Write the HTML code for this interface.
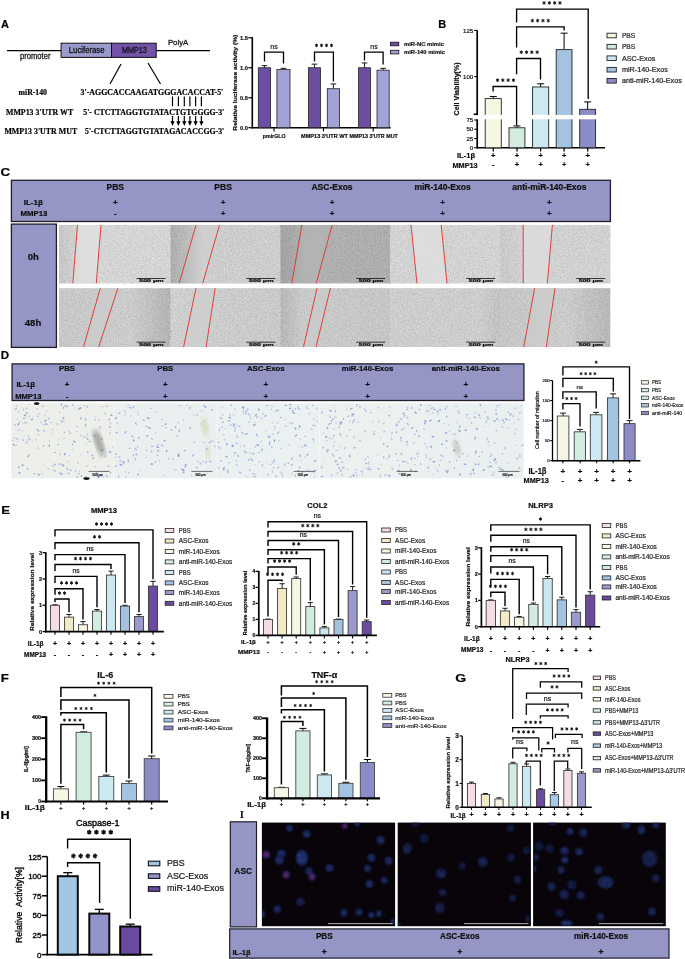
<!DOCTYPE html>
<html><head><meta charset="utf-8"><style>
html,body{margin:0;padding:0;background:#fff;width:685px;height:959px;overflow:hidden;}
svg{display:block;filter:blur(0.35px);font-family:"Liberation Sans",sans-serif;}
text{stroke:#000;stroke-width:0.22px;stroke-opacity:0.85;}
</style></head><body>
<svg width="685" height="959" viewBox="0 0 685 959">
<text x="0" y="0" font-size="11" font-weight="bold" fill="#050505" font-family="Liberation Sans" transform="translate(0.9,27.9) scale(1.0,1)">A</text>
<text x="0" y="0" font-size="11" font-weight="bold" fill="#050505" font-family="Liberation Sans" transform="translate(438.3,27.9) scale(1.0,1)">B</text>
<text x="0" y="0" font-size="11" font-weight="bold" fill="#050505" font-family="Liberation Sans" transform="translate(0.6,176.2) scale(1.22,1)">C</text>
<text x="0" y="0" font-size="11" font-weight="bold" fill="#050505" font-family="Liberation Sans" transform="translate(0.8,359.3) scale(1.05,1)">D</text>
<text x="0" y="0" font-size="11" font-weight="bold" fill="#050505" font-family="Liberation Sans" transform="translate(1.2,513.6) scale(1.2,1)">E</text>
<text x="0" y="0" font-size="11" font-weight="bold" fill="#050505" font-family="Liberation Sans" transform="translate(0.8,682.4) scale(1.2,1)">F</text>
<text x="0" y="0" font-size="11" font-weight="bold" fill="#050505" font-family="Liberation Sans" transform="translate(455.2,682.2) scale(1.28,1)">G</text>
<text x="0" y="0" font-size="11" font-weight="bold" fill="#050505" font-family="Liberation Sans" transform="translate(0.4,818.8) scale(1.15,1)">H</text>
<text x="240.00" y="818.00" font-size="9.5" font-weight="bold" text-anchor="start" fill="#000" font-family="Liberation Serif" >I</text>
<line x1="7.00" y1="50.60" x2="61.10" y2="50.60" stroke="#000" stroke-width="1.3" />
<line x1="156.20" y1="50.60" x2="210.00" y2="50.60" stroke="#000" stroke-width="1.3" />
<rect x="61.10" y="43.20" width="50.40" height="14.20" fill="#9a9acd" stroke="#111" stroke-width="1" />
<rect x="111.50" y="43.20" width="44.70" height="14.20" fill="#7352a8" stroke="#111" stroke-width="1" />
<text x="68.80" y="53.20" font-size="8.3" font-weight="normal" text-anchor="start" fill="#111" font-family="Liberation Sans" textLength="35.7" lengthAdjust="spacingAndGlyphs" style="stroke:#111;stroke-width:0.35px">Luciferase</text>
<text x="121.90" y="53.40" font-size="8.4" font-weight="normal" text-anchor="start" fill="#111" font-family="Liberation Sans" textLength="24.8" lengthAdjust="spacingAndGlyphs" style="stroke:#111;stroke-width:0.3px">MMP13</text>
<text x="20.00" y="58.80" font-size="8.4" font-weight="normal" text-anchor="start" fill="#111" font-family="Liberation Sans" textLength="30.5" lengthAdjust="spacingAndGlyphs" style="stroke:#111;stroke-width:0.3px">promoter</text>
<text x="167.90" y="44.60" font-size="7.4" font-weight="normal" text-anchor="start" fill="#111" font-family="Liberation Sans" textLength="20.4" lengthAdjust="spacingAndGlyphs" style="stroke:#111;stroke-width:0.3px">PolyA</text>
<line x1="121.00" y1="64.00" x2="110.00" y2="84.00" stroke="#000" stroke-width="1.2" />
<line x1="148.00" y1="63.00" x2="160.50" y2="84.00" stroke="#000" stroke-width="1.2" />
<text x="18.50" y="95.10" font-size="7.6" font-weight="bold" text-anchor="start" fill="#000" font-family="Liberation Serif" textLength="28.5" lengthAdjust="spacingAndGlyphs">miR-140</text>
<text x="80.60" y="95.10" font-size="7.4" font-weight="bold" text-anchor="start" fill="#000" font-family="Liberation Serif" textLength="142.7" lengthAdjust="spacingAndGlyphs">3'-AGGCACCAAGATGGGACACCAT-5'</text>
<text x="6.00" y="114.70" font-size="7.6" font-weight="bold" text-anchor="start" fill="#000" font-family="Liberation Serif" textLength="67.2" lengthAdjust="spacingAndGlyphs">MMP13 3'UTR WT</text>
<text x="83.30" y="114.70" font-size="7.4" font-weight="bold" text-anchor="start" fill="#000" font-family="Liberation Serif" textLength="141" lengthAdjust="spacingAndGlyphs">5'- CTCTTAGGTGTATACTGTGGGG-3'</text>
<text x="4.40" y="134.20" font-size="7.6" font-weight="bold" text-anchor="start" fill="#000" font-family="Liberation Serif" textLength="72.8" lengthAdjust="spacingAndGlyphs">MMP13 3'UTR MUT</text>
<text x="85.00" y="134.20" font-size="7.4" font-weight="bold" text-anchor="start" fill="#000" font-family="Liberation Serif" textLength="139.3" lengthAdjust="spacingAndGlyphs">5'-CTCTTAGGTGTATAGACACCGG-3'</text>
<line x1="172.50" y1="96.50" x2="172.50" y2="106.30" stroke="#000" stroke-width="1.2" />
<line x1="172.50" y1="116.00" x2="172.50" y2="122.50" stroke="#000" stroke-width="1.2" />
<path d="M170.40,121.2 L172.50,125.9 L174.60,121.2 Z" stroke="none" stroke-width="0" fill="#000" />
<line x1="178.40" y1="96.50" x2="178.40" y2="106.30" stroke="#000" stroke-width="1.2" />
<line x1="178.40" y1="116.00" x2="178.40" y2="122.50" stroke="#000" stroke-width="1.2" />
<path d="M176.30,121.2 L178.40,125.9 L180.50,121.2 Z" stroke="none" stroke-width="0" fill="#000" />
<line x1="184.30" y1="96.50" x2="184.30" y2="106.30" stroke="#000" stroke-width="1.2" />
<line x1="184.30" y1="116.00" x2="184.30" y2="122.50" stroke="#000" stroke-width="1.2" />
<path d="M182.20,121.2 L184.30,125.9 L186.40,121.2 Z" stroke="none" stroke-width="0" fill="#000" />
<line x1="189.90" y1="96.50" x2="189.90" y2="106.30" stroke="#000" stroke-width="1.2" />
<line x1="189.90" y1="116.00" x2="189.90" y2="122.50" stroke="#000" stroke-width="1.2" />
<path d="M187.80,121.2 L189.90,125.9 L192.00,121.2 Z" stroke="none" stroke-width="0" fill="#000" />
<line x1="195.60" y1="96.50" x2="195.60" y2="106.30" stroke="#000" stroke-width="1.2" />
<line x1="195.60" y1="116.00" x2="195.60" y2="122.50" stroke="#000" stroke-width="1.2" />
<path d="M193.50,121.2 L195.60,125.9 L197.70,121.2 Z" stroke="none" stroke-width="0" fill="#000" />
<line x1="201.40" y1="96.50" x2="201.40" y2="106.30" stroke="#000" stroke-width="1.2" />
<line x1="201.40" y1="116.00" x2="201.40" y2="122.50" stroke="#000" stroke-width="1.2" />
<path d="M199.30,121.2 L201.40,125.9 L203.50,121.2 Z" stroke="none" stroke-width="0" fill="#000" />
<line x1="252.30" y1="37.17" x2="252.30" y2="128.40" stroke="#000" stroke-width="1.6" />
<line x1="251.60" y1="127.70" x2="390.60" y2="127.70" stroke="#000" stroke-width="1.5" />
<line x1="248.30" y1="127.70" x2="252.30" y2="127.70" stroke="#000" stroke-width="1.2" />
<text x="248.00" y="129.70" font-size="5.6" font-weight="bold" text-anchor="end" fill="#222" font-family="Liberation Sans" textLength="7.9" lengthAdjust="spacingAndGlyphs">0.0</text>
<line x1="248.30" y1="97.72" x2="252.30" y2="97.72" stroke="#000" stroke-width="1.2" />
<text x="248.00" y="99.72" font-size="5.6" font-weight="bold" text-anchor="end" fill="#222" font-family="Liberation Sans" textLength="7.9" lengthAdjust="spacingAndGlyphs">0.5</text>
<line x1="248.30" y1="67.75" x2="252.30" y2="67.75" stroke="#000" stroke-width="1.2" />
<text x="248.00" y="69.75" font-size="5.6" font-weight="bold" text-anchor="end" fill="#222" font-family="Liberation Sans" textLength="7.9" lengthAdjust="spacingAndGlyphs">1.0</text>
<line x1="248.30" y1="37.77" x2="252.30" y2="37.77" stroke="#000" stroke-width="1.2" />
<text x="248.00" y="39.77" font-size="5.6" font-weight="bold" text-anchor="end" fill="#222" font-family="Liberation Sans" textLength="7.9" lengthAdjust="spacingAndGlyphs">1.5</text>
<line x1="274.00" y1="127.70" x2="274.00" y2="131.40" stroke="#000" stroke-width="1.1" />
<line x1="323.50" y1="127.70" x2="323.50" y2="131.40" stroke="#000" stroke-width="1.1" />
<line x1="373.20" y1="127.70" x2="373.20" y2="131.40" stroke="#000" stroke-width="1.1" />
<text x="0.00" y="0.00" font-size="6.0" font-weight="bold" text-anchor="middle" fill="#111" font-family="Liberation Sans" transform="translate(236.6,82.7) rotate(-90)" textLength="96" lengthAdjust="spacingAndGlyphs">Relative luciferase activity (%)</text>
<line x1="264.45" y1="67.75" x2="264.45" y2="65.65" stroke="#000" stroke-width="0.9" />
<line x1="261.65" y1="65.65" x2="267.25" y2="65.65" stroke="#000" stroke-width="0.9" />
<rect x="258.30" y="67.75" width="12.30" height="59.95" fill="#6c4fa2" stroke="#222" stroke-width="0.8" />
<line x1="283.45" y1="69.55" x2="283.45" y2="68.35" stroke="#000" stroke-width="0.9" />
<line x1="280.65" y1="68.35" x2="286.25" y2="68.35" stroke="#000" stroke-width="0.9" />
<rect x="276.90" y="69.55" width="13.10" height="58.15" fill="#a2a2d6" stroke="#222" stroke-width="0.8" />
<line x1="314.45" y1="67.75" x2="314.45" y2="64.15" stroke="#000" stroke-width="0.9" />
<line x1="311.65" y1="64.15" x2="317.25" y2="64.15" stroke="#000" stroke-width="0.9" />
<rect x="308.40" y="67.75" width="12.10" height="59.95" fill="#6c4fa2" stroke="#222" stroke-width="0.8" />
<line x1="333.40" y1="88.73" x2="333.40" y2="83.94" stroke="#000" stroke-width="0.9" />
<line x1="330.60" y1="83.94" x2="336.20" y2="83.94" stroke="#000" stroke-width="0.9" />
<rect x="327.30" y="88.73" width="12.20" height="38.97" fill="#a2a2d6" stroke="#222" stroke-width="0.8" />
<line x1="364.55" y1="67.75" x2="364.55" y2="62.95" stroke="#000" stroke-width="0.9" />
<line x1="361.75" y1="62.95" x2="367.35" y2="62.95" stroke="#000" stroke-width="0.9" />
<rect x="358.60" y="67.75" width="11.90" height="59.95" fill="#6c4fa2" stroke="#222" stroke-width="0.8" />
<line x1="383.10" y1="70.15" x2="383.10" y2="68.35" stroke="#000" stroke-width="0.9" />
<line x1="380.30" y1="68.35" x2="385.90" y2="68.35" stroke="#000" stroke-width="0.9" />
<rect x="377.00" y="70.15" width="12.20" height="57.55" fill="#a2a2d6" stroke="#222" stroke-width="0.8" />
<path d="M264.50,61.50 L264.50,52.20 L283.50,52.20 L283.50,63.50" stroke="#000" stroke-width="1.3" fill="none" />
<text x="274.00" y="49.20" font-size="7.0" font-weight="normal" text-anchor="middle" fill="#222" font-family="Liberation Sans" >ns</text>
<path d="M314.50,61.50 L314.50,52.20 L333.40,52.20 L333.40,81.50" stroke="#000" stroke-width="1.3" fill="none" />
<path d="M316.50,43.70L316.50,47.10M315.03,44.55L317.97,46.25M315.03,46.25L317.97,44.55M321.50,43.70L321.50,47.10M320.03,44.55L322.97,46.25M320.03,46.25L322.97,44.55M326.50,43.70L326.50,47.10M325.03,44.55L327.97,46.25M325.03,46.25L327.97,44.55M331.50,43.70L331.50,47.10M330.03,44.55L332.97,46.25M330.03,46.25L332.97,44.55" stroke="#111" stroke-width="1.0" fill="none" />
<path d="M364.50,60.50 L364.50,52.20 L383.10,52.20 L383.10,64.50" stroke="#000" stroke-width="1.3" fill="none" />
<text x="374.00" y="49.20" font-size="7.0" font-weight="normal" text-anchor="middle" fill="#222" font-family="Liberation Sans" >ns</text>
<rect x="390.40" y="42.20" width="8.40" height="3.60" fill="#6c4fa2" stroke="#111" stroke-width="0.8" />
<text x="404.00" y="46.00" font-size="5.6" font-weight="bold" text-anchor="start" fill="#1a1a1a" font-family="Liberation Sans" textLength="39.9" lengthAdjust="spacingAndGlyphs">miR-NC mimic</text>
<rect x="390.40" y="50.30" width="8.40" height="3.60" fill="#a2a2d6" stroke="#111" stroke-width="0.8" />
<text x="404.00" y="54.10" font-size="5.6" font-weight="bold" text-anchor="start" fill="#1a1a1a" font-family="Liberation Sans" textLength="40.9" lengthAdjust="spacingAndGlyphs">miR-140 mimic</text>
<text x="262.70" y="138.00" font-size="6.0" font-weight="bold" text-anchor="start" fill="#111" font-family="Liberation Sans" textLength="23.0" lengthAdjust="spacingAndGlyphs">pmirGLO</text>
<text x="301.00" y="138.00" font-size="6.0" font-weight="bold" text-anchor="start" fill="#111" font-family="Liberation Sans" textLength="47.0" lengthAdjust="spacingAndGlyphs">MMP13 3'UTR WT</text>
<text x="349.60" y="138.00" font-size="6.0" font-weight="bold" text-anchor="start" fill="#111" font-family="Liberation Sans" textLength="48.2" lengthAdjust="spacingAndGlyphs">MMP13 3'UTR MUT</text>
<line x1="477.20" y1="30.40" x2="477.20" y2="114.30" stroke="#000" stroke-width="1.7" />
<line x1="477.20" y1="119.30" x2="477.20" y2="148.40" stroke="#000" stroke-width="1.7" />
<line x1="477.20" y1="147.80" x2="605.00" y2="147.80" stroke="#000" stroke-width="1.4" />
<line x1="474.20" y1="30.40" x2="477.20" y2="30.40" stroke="#000" stroke-width="1.1" />
<text x="473.20" y="32.60" font-size="6.1" font-weight="normal" text-anchor="end" fill="#222" font-family="Liberation Sans" >125</text>
<line x1="474.20" y1="76.60" x2="477.20" y2="76.60" stroke="#000" stroke-width="1.1" />
<text x="473.20" y="78.80" font-size="6.1" font-weight="normal" text-anchor="end" fill="#222" font-family="Liberation Sans" >100</text>
<line x1="473.70" y1="114.30" x2="478.00" y2="114.30" stroke="#000" stroke-width="1.6" />
<line x1="474.20" y1="120.00" x2="477.20" y2="120.00" stroke="#000" stroke-width="1.1" />
<text x="473.20" y="122.20" font-size="6.1" font-weight="normal" text-anchor="end" fill="#222" font-family="Liberation Sans" >75</text>
<line x1="474.20" y1="129.27" x2="477.20" y2="129.27" stroke="#000" stroke-width="1.1" />
<text x="473.20" y="131.47" font-size="6.1" font-weight="normal" text-anchor="end" fill="#222" font-family="Liberation Sans" >50</text>
<line x1="474.20" y1="138.53" x2="477.20" y2="138.53" stroke="#000" stroke-width="1.1" />
<text x="473.20" y="140.73" font-size="6.1" font-weight="normal" text-anchor="end" fill="#222" font-family="Liberation Sans" >25</text>
<line x1="474.20" y1="147.80" x2="477.20" y2="147.80" stroke="#000" stroke-width="1.1" />
<text x="473.20" y="150.00" font-size="6.1" font-weight="normal" text-anchor="end" fill="#222" font-family="Liberation Sans" >0</text>
<text x="0.00" y="0.00" font-size="7.1" font-weight="bold" text-anchor="middle" fill="#111" font-family="Liberation Sans" transform="translate(458.6,88.9) rotate(-90)">Cell Viability(%)</text>
<line x1="493.25" y1="98.59" x2="493.25" y2="96.56" stroke="#000" stroke-width="1" />
<line x1="489.75" y1="96.56" x2="496.75" y2="96.56" stroke="#000" stroke-width="1" />
<rect x="485.20" y="98.59" width="16.10" height="49.21" fill="#f5f7e4" stroke="#222" stroke-width="0.9" />
<line x1="516.95" y1="127.78" x2="516.95" y2="125.93" stroke="#000" stroke-width="1" />
<line x1="513.45" y1="125.93" x2="520.45" y2="125.93" stroke="#000" stroke-width="1" />
<rect x="509.00" y="127.78" width="15.90" height="20.02" fill="#d2ecdf" stroke="#222" stroke-width="0.9" />
<line x1="540.65" y1="86.95" x2="540.65" y2="83.81" stroke="#000" stroke-width="1" />
<line x1="537.15" y1="83.81" x2="544.15" y2="83.81" stroke="#000" stroke-width="1" />
<rect x="532.60" y="86.95" width="16.10" height="60.85" fill="#cce9f1" stroke="#222" stroke-width="0.9" />
<line x1="564.10" y1="49.62" x2="564.10" y2="33.17" stroke="#000" stroke-width="1" />
<line x1="560.60" y1="33.17" x2="567.60" y2="33.17" stroke="#000" stroke-width="1" />
<rect x="556.20" y="49.62" width="15.80" height="98.18" fill="#a3c3e1" stroke="#222" stroke-width="0.9" />
<line x1="587.65" y1="109.31" x2="587.65" y2="101.92" stroke="#000" stroke-width="1" />
<line x1="584.15" y1="101.92" x2="591.15" y2="101.92" stroke="#000" stroke-width="1" />
<rect x="579.70" y="109.31" width="15.90" height="38.49" fill="#8b8bc6" stroke="#222" stroke-width="0.9" />
<rect x="480.00" y="114.90" width="120.00" height="4.40" fill="#fff" stroke="none" stroke-width="1" />
<path d="M493.1,91.5 L493.1,86.5 L516.6,86.5 L516.6,125.3" stroke="#000" stroke-width="1.35" fill="none" />
<path d="M497.55,78.45L497.55,81.95M496.03,79.33L499.07,81.08M496.03,81.08L499.07,79.33M502.85,78.45L502.85,81.95M501.33,79.33L504.37,81.08M501.33,81.08L504.37,79.33M508.15,78.45L508.15,81.95M506.63,79.33L509.67,81.08M506.63,81.08L509.67,79.33M513.45,78.45L513.45,81.95M511.93,79.33L514.97,81.08M511.93,81.08L514.97,79.33" stroke="#111" stroke-width="1.0" fill="none" />
<path d="M516.6,74.3 L516.6,58.5 L540.5,58.5 L540.5,79.6" stroke="#000" stroke-width="1.35" fill="none" />
<path d="M521.25,50.45L521.25,53.95M519.73,51.33L522.77,53.08M519.73,53.08L522.77,51.33M526.55,50.45L526.55,53.95M525.03,51.33L528.07,53.08M525.03,53.08L528.07,51.33M531.85,50.45L531.85,53.95M530.33,51.33L533.37,53.08M530.33,53.08L533.37,51.33M537.15,50.45L537.15,53.95M535.63,51.33L538.67,53.08M535.63,53.08L538.67,51.33" stroke="#111" stroke-width="1.0" fill="none" />
<path d="M516.6,47.6 L516.6,26.8 L564.1,26.8 L564.1,30.6" stroke="#000" stroke-width="1.35" fill="none" />
<path d="M532.35,18.85L532.35,22.35M530.83,19.73L533.87,21.48M530.83,21.48L533.87,19.73M537.65,18.85L537.65,22.35M536.13,19.73L539.17,21.48M536.13,21.48L539.17,19.73M542.95,18.85L542.95,22.35M541.43,19.73L544.47,21.48M541.43,21.48L544.47,19.73M548.25,18.85L548.25,22.35M546.73,19.73L549.77,21.48M546.73,21.48L549.77,19.73" stroke="#111" stroke-width="1.0" fill="none" />
<path d="M516.6,22.6 L516.6,9.1 L588.2,9.1 L588.2,99.0" stroke="#000" stroke-width="1.35" fill="none" />
<path d="M544.05,1.15L544.05,4.65M542.53,2.02L545.57,3.77M542.53,3.77L545.57,2.02M549.35,1.15L549.35,4.65M547.83,2.02L550.87,3.77M547.83,3.77L550.87,2.02M554.65,1.15L554.65,4.65M553.13,2.02L556.17,3.77M553.13,3.77L556.17,2.02M559.95,1.15L559.95,4.65M558.43,2.02L561.47,3.77M558.43,3.77L561.47,2.02" stroke="#111" stroke-width="1.0" fill="none" />
<rect x="607.00" y="33.20" width="9.30" height="4.60" fill="#f5f7e4" stroke="#222" stroke-width="0.9" />
<text x="621.90" y="37.90" font-size="6.8" font-weight="normal" text-anchor="start" fill="#333" font-family="Liberation Sans" textLength="13.3" lengthAdjust="spacingAndGlyphs">PBS</text>
<rect x="607.00" y="44.40" width="9.30" height="4.60" fill="#d2ecdf" stroke="#222" stroke-width="0.9" />
<text x="621.90" y="49.10" font-size="6.8" font-weight="normal" text-anchor="start" fill="#333" font-family="Liberation Sans" textLength="13.3" lengthAdjust="spacingAndGlyphs">PBS</text>
<rect x="607.00" y="55.90" width="9.30" height="4.60" fill="#cce9f1" stroke="#222" stroke-width="0.9" />
<text x="621.90" y="60.60" font-size="6.8" font-weight="normal" text-anchor="start" fill="#333" font-family="Liberation Sans" textLength="33.4" lengthAdjust="spacingAndGlyphs">ASC-Exos</text>
<rect x="607.00" y="67.40" width="9.30" height="4.60" fill="#a3c3e1" stroke="#222" stroke-width="0.9" />
<text x="621.90" y="72.10" font-size="6.8" font-weight="normal" text-anchor="start" fill="#333" font-family="Liberation Sans" textLength="45.9" lengthAdjust="spacingAndGlyphs">miR-140-Exos</text>
<rect x="607.00" y="78.50" width="9.30" height="4.60" fill="#8b8bc6" stroke="#222" stroke-width="0.9" />
<text x="621.90" y="83.20" font-size="6.8" font-weight="normal" text-anchor="start" fill="#333" font-family="Liberation Sans" textLength="60.0" lengthAdjust="spacingAndGlyphs">anti-miR-140-Exos</text>
<text x="456.90" y="158.10" font-size="7.6" font-weight="bold" text-anchor="start" fill="#111" font-family="Liberation Sans" >IL-1β</text>
<text x="452.40" y="167.50" font-size="7.35" font-weight="bold" text-anchor="start" fill="#111" font-family="Liberation Sans" >MMP13</text>
<line x1="493.30" y1="147.80" x2="493.30" y2="151.40" stroke="#000" stroke-width="1.3" />
<text x="493.30" y="157.60" font-size="7.5" font-weight="bold" text-anchor="middle" fill="#111" font-family="Liberation Sans" >+</text>
<text x="493.30" y="167.40" font-size="7.5" font-weight="bold" text-anchor="middle" fill="#111" font-family="Liberation Sans" >-</text>
<line x1="517.00" y1="147.80" x2="517.00" y2="151.40" stroke="#000" stroke-width="1.3" />
<text x="517.00" y="157.60" font-size="7.5" font-weight="bold" text-anchor="middle" fill="#111" font-family="Liberation Sans" >+</text>
<text x="517.00" y="167.40" font-size="7.5" font-weight="bold" text-anchor="middle" fill="#111" font-family="Liberation Sans" >+</text>
<line x1="540.60" y1="147.80" x2="540.60" y2="151.40" stroke="#000" stroke-width="1.3" />
<text x="540.60" y="157.60" font-size="7.5" font-weight="bold" text-anchor="middle" fill="#111" font-family="Liberation Sans" >+</text>
<text x="540.60" y="167.40" font-size="7.5" font-weight="bold" text-anchor="middle" fill="#111" font-family="Liberation Sans" >+</text>
<line x1="564.10" y1="147.80" x2="564.10" y2="151.40" stroke="#000" stroke-width="1.3" />
<text x="564.10" y="157.60" font-size="7.5" font-weight="bold" text-anchor="middle" fill="#111" font-family="Liberation Sans" >+</text>
<text x="564.10" y="167.40" font-size="7.5" font-weight="bold" text-anchor="middle" fill="#111" font-family="Liberation Sans" >+</text>
<line x1="587.70" y1="147.80" x2="587.70" y2="151.40" stroke="#000" stroke-width="1.3" />
<text x="587.70" y="157.60" font-size="7.5" font-weight="bold" text-anchor="middle" fill="#111" font-family="Liberation Sans" >+</text>
<text x="587.70" y="167.40" font-size="7.5" font-weight="bold" text-anchor="middle" fill="#111" font-family="Liberation Sans" >+</text>
<defs>
<filter id="gn" x="0" y="0" width="1" height="1" color-interpolation-filters="sRGB">
<feTurbulence type="fractalNoise" baseFrequency="0.75" numOctaves="2" seed="4" result="t"/>
<feColorMatrix in="t" type="matrix" values="0 0 0 0 0  0 0 0 0 0  0 0 0 0 0  0.9 0 0 0 -0.25"/>
</filter>
<filter id="gw" x="0" y="0" width="1" height="1" color-interpolation-filters="sRGB">
<feTurbulence type="fractalNoise" baseFrequency="0.7" numOctaves="2" seed="11" result="t"/>
<feColorMatrix in="t" type="matrix" values="0 0 0 0 1  0 0 0 0 1  0 0 0 0 1  0.9 0 0 0 -0.3"/>
</filter>
<filter id="bl1"><feGaussianBlur stdDeviation="0.45"/></filter>
<filter id="bl2"><feGaussianBlur stdDeviation="2.5"/></filter>
<filter id="bl3"><feGaussianBlur stdDeviation="0.95"/></filter>
</defs>
<rect x="11.40" y="180.30" width="599.00" height="41.20" fill="#9696c6" stroke="#1e1e2a" stroke-width="1.3" />
<rect x="11.40" y="224.10" width="45.00" height="123.30" fill="#9696c6" stroke="#1e1e2a" stroke-width="1.3" />
<text x="33.30" y="260.40" font-size="9.5" font-weight="bold" text-anchor="middle" fill="#111" font-family="Liberation Sans" >0h</text>
<text x="33.00" y="325.60" font-size="9.5" font-weight="bold" text-anchor="middle" fill="#111" font-family="Liberation Sans" >48h</text>
<text x="115.30" y="189.80" font-size="8.5" font-weight="bold" text-anchor="middle" fill="#111" font-family="Liberation Sans" >PBS</text>
<text x="223.10" y="189.80" font-size="8.5" font-weight="bold" text-anchor="middle" fill="#111" font-family="Liberation Sans" >PBS</text>
<text x="332.00" y="189.80" font-size="8.5" font-weight="bold" text-anchor="middle" fill="#111" font-family="Liberation Sans" >ASC-Exos</text>
<text x="442.50" y="189.80" font-size="8.5" font-weight="bold" text-anchor="middle" fill="#111" font-family="Liberation Sans" >miR-140-Exos</text>
<text x="549.40" y="189.80" font-size="8.5" font-weight="bold" text-anchor="middle" fill="#111" font-family="Liberation Sans" >anti-miR-140-Exos</text>
<text x="23.70" y="205.20" font-size="8" font-weight="bold" text-anchor="start" fill="#111" font-family="Liberation Sans" >IL-1β</text>
<text x="20.50" y="216.40" font-size="7.8" font-weight="bold" text-anchor="start" fill="#111" font-family="Liberation Sans" >MMP13</text>
<text x="115.30" y="205.00" font-size="8" font-weight="bold" text-anchor="middle" fill="#111" font-family="Liberation Sans" >+</text>
<text x="115.30" y="216.40" font-size="8" font-weight="bold" text-anchor="middle" fill="#111" font-family="Liberation Sans" >-</text>
<text x="223.10" y="205.00" font-size="8" font-weight="bold" text-anchor="middle" fill="#111" font-family="Liberation Sans" >+</text>
<text x="223.10" y="216.40" font-size="8" font-weight="bold" text-anchor="middle" fill="#111" font-family="Liberation Sans" >+</text>
<text x="332.00" y="205.00" font-size="8" font-weight="bold" text-anchor="middle" fill="#111" font-family="Liberation Sans" >+</text>
<text x="332.00" y="216.40" font-size="8" font-weight="bold" text-anchor="middle" fill="#111" font-family="Liberation Sans" >+</text>
<text x="442.50" y="205.00" font-size="8" font-weight="bold" text-anchor="middle" fill="#111" font-family="Liberation Sans" >+</text>
<text x="442.50" y="216.40" font-size="8" font-weight="bold" text-anchor="middle" fill="#111" font-family="Liberation Sans" >+</text>
<text x="549.40" y="205.00" font-size="8" font-weight="bold" text-anchor="middle" fill="#111" font-family="Liberation Sans" >+</text>
<text x="549.40" y="216.40" font-size="8" font-weight="bold" text-anchor="middle" fill="#111" font-family="Liberation Sans" >+</text>
<linearGradient id="cg1" x1="0" y1="0" x2="1" y2="0"><stop offset="0" stop-color="#000" stop-opacity="0.07"/><stop offset="0.2" stop-color="#000" stop-opacity="0.0"/><stop offset="1" stop-color="#000" stop-opacity="0.0"/></linearGradient>
<rect x="59.00" y="225.00" width="111.60" height="58.30" fill="rgb(224,224,224)" stroke="none" stroke-width="1" />
<rect x="59.00" y="225.00" width="111.60" height="58.30" fill="#000" stroke="none" stroke-width="1" filter="url(#gn)" opacity="0.3"/>
<rect x="59.00" y="225.00" width="111.60" height="58.30" fill="#fff" stroke="none" stroke-width="1" filter="url(#gw)" opacity="0.3"/>
<path d="M77.5,225.0 L101.0,225.0 L96.3,283.3 L72.8,283.3 Z" stroke="none" stroke-width="0" fill="rgb(224,224,224)" opacity="0.8"/>
<rect x="59.00" y="225.00" width="111.60" height="58.30" fill="url(#cg1)" stroke="none" stroke-width="1" />
<line x1="77.50" y1="225.00" x2="72.80" y2="283.30" stroke="#e0302a" stroke-width="0.9" />
<line x1="101.00" y1="225.00" x2="96.30" y2="283.30" stroke="#e0302a" stroke-width="0.9" />
<line x1="136.60" y1="278.50" x2="165.60" y2="278.50" stroke="#222" stroke-width="0.9" />
<text x="139.20" y="282.20" font-size="3.6" font-weight="bold" text-anchor="start" fill="#111" font-family="Liberation Sans" textLength="24.5" lengthAdjust="spacingAndGlyphs">500 μm</text>
<linearGradient id="cg2" x1="0" y1="0" x2="1" y2="0"><stop offset="0" stop-color="#000" stop-opacity="0.16"/><stop offset="0.12" stop-color="#000" stop-opacity="0.1"/><stop offset="0.3" stop-color="#000" stop-opacity="0.0"/><stop offset="1" stop-color="#000" stop-opacity="0.0"/></linearGradient>
<rect x="170.60" y="225.00" width="109.80" height="58.30" fill="rgb(216,216,216)" stroke="none" stroke-width="1" />
<rect x="170.60" y="225.00" width="109.80" height="58.30" fill="#000" stroke="none" stroke-width="1" filter="url(#gn)" opacity="0.3"/>
<rect x="170.60" y="225.00" width="109.80" height="58.30" fill="#fff" stroke="none" stroke-width="1" filter="url(#gw)" opacity="0.3"/>
<path d="M196.0,225.0 L219.5,225.0 L202.7,283.3 L179.2,283.3 Z" stroke="none" stroke-width="0" fill="rgb(207,207,207)" opacity="0.8"/>
<rect x="170.60" y="225.00" width="109.80" height="58.30" fill="url(#cg2)" stroke="none" stroke-width="1" />
<line x1="196.00" y1="225.00" x2="179.20" y2="283.30" stroke="#e0302a" stroke-width="0.9" />
<line x1="219.50" y1="225.00" x2="202.70" y2="283.30" stroke="#e0302a" stroke-width="0.9" />
<line x1="246.40" y1="278.50" x2="275.40" y2="278.50" stroke="#222" stroke-width="0.9" />
<text x="249.00" y="282.20" font-size="3.6" font-weight="bold" text-anchor="start" fill="#111" font-family="Liberation Sans" textLength="24.5" lengthAdjust="spacingAndGlyphs">500 μm</text>
<linearGradient id="cg3" x1="0" y1="0" x2="1" y2="0"><stop offset="0" stop-color="#000" stop-opacity="0.08"/><stop offset="0.25" stop-color="#000" stop-opacity="0.0"/><stop offset="1" stop-color="#000" stop-opacity="0.02"/></linearGradient>
<rect x="280.40" y="225.00" width="109.80" height="58.30" fill="rgb(184,184,184)" stroke="none" stroke-width="1" />
<rect x="280.40" y="225.00" width="109.80" height="58.30" fill="#000" stroke="none" stroke-width="1" filter="url(#gn)" opacity="0.3"/>
<rect x="280.40" y="225.00" width="109.80" height="58.30" fill="#fff" stroke="none" stroke-width="1" filter="url(#gw)" opacity="0.3"/>
<path d="M301.9,225.0 L332.1,225.0 L316.3,283.3 L291.8,283.3 Z" stroke="none" stroke-width="0" fill="rgb(180,180,180)" opacity="0.8"/>
<rect x="280.40" y="225.00" width="109.80" height="58.30" fill="url(#cg3)" stroke="none" stroke-width="1" />
<line x1="301.90" y1="225.00" x2="291.80" y2="283.30" stroke="#e0302a" stroke-width="0.9" />
<line x1="332.10" y1="225.00" x2="316.30" y2="283.30" stroke="#e0302a" stroke-width="0.9" />
<line x1="356.20" y1="278.50" x2="385.20" y2="278.50" stroke="#222" stroke-width="0.9" />
<text x="358.80" y="282.20" font-size="3.6" font-weight="bold" text-anchor="start" fill="#111" font-family="Liberation Sans" textLength="24.5" lengthAdjust="spacingAndGlyphs">500 μm</text>
<linearGradient id="cg4" x1="0" y1="0" x2="1" y2="0"><stop offset="0" stop-color="#000" stop-opacity="0.0"/><stop offset="1" stop-color="#000" stop-opacity="0.0"/></linearGradient>
<rect x="390.20" y="225.00" width="110.00" height="58.30" fill="rgb(222,222,222)" stroke="none" stroke-width="1" />
<rect x="390.20" y="225.00" width="110.00" height="58.30" fill="#000" stroke="none" stroke-width="1" filter="url(#gn)" opacity="0.3"/>
<rect x="390.20" y="225.00" width="110.00" height="58.30" fill="#fff" stroke="none" stroke-width="1" filter="url(#gw)" opacity="0.3"/>
<path d="M411.0,225.0 L441.2,225.0 L447.0,283.3 L417.0,283.3 Z" stroke="none" stroke-width="0" fill="rgb(222,222,222)" opacity="0.8"/>
<rect x="390.20" y="225.00" width="110.00" height="58.30" fill="url(#cg4)" stroke="none" stroke-width="1" />
<line x1="411.00" y1="225.00" x2="417.00" y2="283.30" stroke="#e0302a" stroke-width="0.9" />
<line x1="441.20" y1="225.00" x2="447.00" y2="283.30" stroke="#e0302a" stroke-width="0.9" />
<line x1="466.20" y1="278.50" x2="495.20" y2="278.50" stroke="#222" stroke-width="0.9" />
<text x="468.80" y="282.20" font-size="3.6" font-weight="bold" text-anchor="start" fill="#111" font-family="Liberation Sans" textLength="24.5" lengthAdjust="spacingAndGlyphs">500 μm</text>
<linearGradient id="cg5" x1="0" y1="0" x2="1" y2="0"><stop offset="0" stop-color="#000" stop-opacity="0.04"/><stop offset="0.2" stop-color="#000" stop-opacity="0.0"/><stop offset="1" stop-color="#000" stop-opacity="0.0"/></linearGradient>
<rect x="500.20" y="225.00" width="109.90" height="58.30" fill="rgb(220,220,220)" stroke="none" stroke-width="1" />
<rect x="500.20" y="225.00" width="109.90" height="58.30" fill="#000" stroke="none" stroke-width="1" filter="url(#gn)" opacity="0.3"/>
<rect x="500.20" y="225.00" width="109.90" height="58.30" fill="#fff" stroke="none" stroke-width="1" filter="url(#gw)" opacity="0.3"/>
<path d="M523.2,225.0 L552.4,225.0 L547.3,283.3 L523.2,283.3 Z" stroke="none" stroke-width="0" fill="rgb(220,220,220)" opacity="0.8"/>
<rect x="500.20" y="225.00" width="109.90" height="58.30" fill="url(#cg5)" stroke="none" stroke-width="1" />
<line x1="523.20" y1="225.00" x2="523.20" y2="283.30" stroke="#e0302a" stroke-width="0.9" />
<line x1="552.40" y1="225.00" x2="547.30" y2="283.30" stroke="#e0302a" stroke-width="0.9" />
<line x1="576.10" y1="278.50" x2="605.10" y2="278.50" stroke="#222" stroke-width="0.9" />
<text x="578.70" y="282.20" font-size="3.6" font-weight="bold" text-anchor="start" fill="#111" font-family="Liberation Sans" textLength="24.5" lengthAdjust="spacingAndGlyphs">500 μm</text>
<linearGradient id="cg6" x1="0" y1="0" x2="1" y2="0"><stop offset="0" stop-color="#000" stop-opacity="0.02"/><stop offset="0.65" stop-color="#000" stop-opacity="0.0"/><stop offset="1" stop-color="#000" stop-opacity="0.12"/></linearGradient>
<rect x="59.00" y="288.20" width="111.60" height="58.80" fill="rgb(214,214,214)" stroke="none" stroke-width="1" />
<rect x="59.00" y="288.20" width="111.60" height="58.80" fill="#000" stroke="none" stroke-width="1" filter="url(#gn)" opacity="0.3"/>
<rect x="59.00" y="288.20" width="111.60" height="58.80" fill="#fff" stroke="none" stroke-width="1" filter="url(#gw)" opacity="0.3"/>
<path d="M100.3,288.2 L117.8,288.2 L98.7,347.0 L83.5,347.0 Z" stroke="none" stroke-width="0" fill="rgb(205,205,205)" opacity="0.8"/>
<rect x="59.00" y="288.20" width="111.60" height="58.80" fill="url(#cg6)" stroke="none" stroke-width="1" />
<line x1="100.30" y1="288.20" x2="83.50" y2="347.00" stroke="#e0302a" stroke-width="0.9" />
<line x1="117.80" y1="288.20" x2="98.70" y2="347.00" stroke="#e0302a" stroke-width="0.9" />
<line x1="136.60" y1="342.20" x2="165.60" y2="342.20" stroke="#222" stroke-width="0.9" />
<text x="139.20" y="345.90" font-size="3.6" font-weight="bold" text-anchor="start" fill="#111" font-family="Liberation Sans" textLength="24.5" lengthAdjust="spacingAndGlyphs">500 μm</text>
<linearGradient id="cg7" x1="0" y1="0" x2="1" y2="0"><stop offset="0" stop-color="#000" stop-opacity="0.0"/><stop offset="1" stop-color="#000" stop-opacity="0.03"/></linearGradient>
<rect x="170.60" y="288.20" width="109.80" height="58.80" fill="rgb(218,218,218)" stroke="none" stroke-width="1" />
<rect x="170.60" y="288.20" width="109.80" height="58.80" fill="#000" stroke="none" stroke-width="1" filter="url(#gn)" opacity="0.3"/>
<rect x="170.60" y="288.20" width="109.80" height="58.80" fill="#fff" stroke="none" stroke-width="1" filter="url(#gw)" opacity="0.3"/>
<path d="M196.0,288.2 L215.2,288.2 L206.1,347.0 L183.6,347.0 Z" stroke="none" stroke-width="0" fill="rgb(208,208,208)" opacity="0.8"/>
<rect x="170.60" y="288.20" width="109.80" height="58.80" fill="url(#cg7)" stroke="none" stroke-width="1" />
<line x1="196.00" y1="288.20" x2="183.60" y2="347.00" stroke="#e0302a" stroke-width="0.9" />
<line x1="215.20" y1="288.20" x2="206.10" y2="347.00" stroke="#e0302a" stroke-width="0.9" />
<line x1="246.40" y1="342.20" x2="275.40" y2="342.20" stroke="#222" stroke-width="0.9" />
<text x="249.00" y="345.90" font-size="3.6" font-weight="bold" text-anchor="start" fill="#111" font-family="Liberation Sans" textLength="24.5" lengthAdjust="spacingAndGlyphs">500 μm</text>
<linearGradient id="cg8" x1="0" y1="0" x2="1" y2="0"><stop offset="0" stop-color="#000" stop-opacity="0.1"/><stop offset="0.2" stop-color="#000" stop-opacity="0.0"/><stop offset="1" stop-color="#000" stop-opacity="0.02"/></linearGradient>
<rect x="280.40" y="288.20" width="109.80" height="58.80" fill="rgb(212,212,212)" stroke="none" stroke-width="1" />
<rect x="280.40" y="288.20" width="109.80" height="58.80" fill="#000" stroke="none" stroke-width="1" filter="url(#gn)" opacity="0.3"/>
<rect x="280.40" y="288.20" width="109.80" height="58.80" fill="#fff" stroke="none" stroke-width="1" filter="url(#gw)" opacity="0.3"/>
<path d="M317.0,288.2 L330.4,288.2 L316.0,347.0 L303.5,347.0 Z" stroke="none" stroke-width="0" fill="rgb(203,203,203)" opacity="0.8"/>
<rect x="280.40" y="288.20" width="109.80" height="58.80" fill="url(#cg8)" stroke="none" stroke-width="1" />
<line x1="317.00" y1="288.20" x2="303.50" y2="347.00" stroke="#e0302a" stroke-width="0.9" />
<line x1="330.40" y1="288.20" x2="316.00" y2="347.00" stroke="#e0302a" stroke-width="0.9" />
<line x1="356.20" y1="342.20" x2="385.20" y2="342.20" stroke="#222" stroke-width="0.9" />
<text x="358.80" y="345.90" font-size="3.6" font-weight="bold" text-anchor="start" fill="#111" font-family="Liberation Sans" textLength="24.5" lengthAdjust="spacingAndGlyphs">500 μm</text>
<linearGradient id="cg9" x1="0" y1="0" x2="1" y2="0"><stop offset="0" stop-color="#000" stop-opacity="0.0"/><stop offset="0.8" stop-color="#000" stop-opacity="0.0"/><stop offset="1" stop-color="#000" stop-opacity="0.06"/></linearGradient>
<rect x="390.20" y="288.20" width="110.00" height="58.80" fill="rgb(216,216,216)" stroke="none" stroke-width="1" />
<rect x="390.20" y="288.20" width="110.00" height="58.80" fill="#000" stroke="none" stroke-width="1" filter="url(#gn)" opacity="0.3"/>
<rect x="390.20" y="288.20" width="110.00" height="58.80" fill="#fff" stroke="none" stroke-width="1" filter="url(#gw)" opacity="0.3"/>
<rect x="390.20" y="288.20" width="110.00" height="58.80" fill="url(#cg9)" stroke="none" stroke-width="1" />
<line x1="466.20" y1="342.20" x2="495.20" y2="342.20" stroke="#222" stroke-width="0.9" />
<text x="468.80" y="345.90" font-size="3.6" font-weight="bold" text-anchor="start" fill="#111" font-family="Liberation Sans" textLength="24.5" lengthAdjust="spacingAndGlyphs">500 μm</text>
<linearGradient id="cg10" x1="0" y1="0" x2="1" y2="0"><stop offset="0" stop-color="#000" stop-opacity="0.03"/><stop offset="0.6" stop-color="#000" stop-opacity="0.0"/><stop offset="1" stop-color="#000" stop-opacity="0.1"/></linearGradient>
<rect x="500.20" y="288.20" width="109.90" height="58.80" fill="rgb(214,214,214)" stroke="none" stroke-width="1" />
<rect x="500.20" y="288.20" width="109.90" height="58.80" fill="#000" stroke="none" stroke-width="1" filter="url(#gn)" opacity="0.3"/>
<rect x="500.20" y="288.20" width="109.90" height="58.80" fill="#fff" stroke="none" stroke-width="1" filter="url(#gw)" opacity="0.3"/>
<path d="M534.6,288.2 L555.0,288.2 L546.3,347.0 L523.8,347.0 Z" stroke="none" stroke-width="0" fill="rgb(206,206,206)" opacity="0.8"/>
<rect x="500.20" y="288.20" width="109.90" height="58.80" fill="url(#cg10)" stroke="none" stroke-width="1" />
<line x1="534.60" y1="288.20" x2="523.80" y2="347.00" stroke="#e0302a" stroke-width="0.9" />
<line x1="555.00" y1="288.20" x2="546.30" y2="347.00" stroke="#e0302a" stroke-width="0.9" />
<line x1="576.10" y1="342.20" x2="605.10" y2="342.20" stroke="#222" stroke-width="0.9" />
<text x="578.70" y="345.90" font-size="3.6" font-weight="bold" text-anchor="start" fill="#111" font-family="Liberation Sans" textLength="24.5" lengthAdjust="spacingAndGlyphs">500 μm</text>
<rect x="12.10" y="363.90" width="511.80" height="36.60" fill="#9696c6" stroke="#1e1e2a" stroke-width="1.3" />
<text x="67.00" y="371.00" font-size="7.8" font-weight="bold" text-anchor="middle" fill="#111" font-family="Liberation Sans" >PBS</text>
<text x="165.30" y="371.00" font-size="7.8" font-weight="bold" text-anchor="middle" fill="#111" font-family="Liberation Sans" >PBS</text>
<text x="265.80" y="371.00" font-size="7.8" font-weight="bold" text-anchor="middle" fill="#111" font-family="Liberation Sans" >ASC-Exos</text>
<text x="367.50" y="371.00" font-size="7.8" font-weight="bold" text-anchor="middle" fill="#111" font-family="Liberation Sans" >miR-140-Exos</text>
<text x="465.80" y="371.00" font-size="7.8" font-weight="bold" text-anchor="middle" fill="#111" font-family="Liberation Sans" >anti-miR-140-Exos</text>
<text x="16.40" y="387.10" font-size="7.8" font-weight="bold" text-anchor="start" fill="#111" font-family="Liberation Sans" >IL-1β</text>
<text x="15.20" y="399.10" font-size="7.6" font-weight="bold" text-anchor="start" fill="#111" font-family="Liberation Sans" >MMP13</text>
<text x="67.00" y="387.00" font-size="8" font-weight="bold" text-anchor="middle" fill="#111" font-family="Liberation Sans" >+</text>
<text x="67.00" y="399.00" font-size="8" font-weight="bold" text-anchor="middle" fill="#111" font-family="Liberation Sans" >-</text>
<text x="165.30" y="387.00" font-size="8" font-weight="bold" text-anchor="middle" fill="#111" font-family="Liberation Sans" >+</text>
<text x="165.30" y="399.00" font-size="8" font-weight="bold" text-anchor="middle" fill="#111" font-family="Liberation Sans" >+</text>
<text x="265.80" y="387.00" font-size="8" font-weight="bold" text-anchor="middle" fill="#111" font-family="Liberation Sans" >+</text>
<text x="265.80" y="399.00" font-size="8" font-weight="bold" text-anchor="middle" fill="#111" font-family="Liberation Sans" >+</text>
<text x="367.50" y="387.00" font-size="8" font-weight="bold" text-anchor="middle" fill="#111" font-family="Liberation Sans" >+</text>
<text x="367.50" y="399.00" font-size="8" font-weight="bold" text-anchor="middle" fill="#111" font-family="Liberation Sans" >+</text>
<text x="465.80" y="387.00" font-size="8" font-weight="bold" text-anchor="middle" fill="#111" font-family="Liberation Sans" >+</text>
<text x="465.80" y="399.00" font-size="8" font-weight="bold" text-anchor="middle" fill="#111" font-family="Liberation Sans" >+</text>
<rect x="11.20" y="403.40" width="102.60" height="74.90" fill="#edf0ea" stroke="none" stroke-width="1" />
<g fill="#7682d4" filter="url(#bl1)"><ellipse cx="44.8" cy="415.4" rx="1.3" ry="0.4" transform="rotate(96 44.8 415.4)" opacity="0.53"/><ellipse cx="18.0" cy="441.4" rx="0.6" ry="0.6" transform="rotate(13 18.0 441.4)" opacity="0.40"/><ellipse cx="54.9" cy="464.7" rx="0.7" ry="0.5" transform="rotate(113 54.9 464.7)" opacity="0.82"/><ellipse cx="70.3" cy="433.3" rx="1.6" ry="0.4" transform="rotate(155 70.3 433.3)" opacity="0.49"/><ellipse cx="26.7" cy="413.0" rx="0.9" ry="0.8" transform="rotate(33 26.7 413.0)" opacity="0.64"/><ellipse cx="76.5" cy="431.5" rx="1.1" ry="0.4" transform="rotate(11 76.5 431.5)" opacity="0.45"/><ellipse cx="80.6" cy="435.6" rx="0.9" ry="0.7" transform="rotate(82 80.6 435.6)" opacity="0.50"/><ellipse cx="92.1" cy="455.4" rx="0.8" ry="0.7" transform="rotate(95 92.1 455.4)" opacity="0.79"/><ellipse cx="85.6" cy="425.4" rx="1.6" ry="0.5" transform="rotate(75 85.6 425.4)" opacity="0.73"/><ellipse cx="27.5" cy="440.0" rx="0.6" ry="0.7" transform="rotate(138 27.5 440.0)" opacity="0.64"/><ellipse cx="100.3" cy="427.3" rx="1.3" ry="0.7" transform="rotate(104 100.3 427.3)" opacity="0.58"/><ellipse cx="96.7" cy="473.3" rx="1.1" ry="0.7" transform="rotate(11 96.7 473.3)" opacity="0.70"/><ellipse cx="77.3" cy="476.8" rx="1.4" ry="0.5" transform="rotate(69 77.3 476.8)" opacity="0.68"/><ellipse cx="14.5" cy="438.1" rx="0.8" ry="0.5" transform="rotate(11 14.5 438.1)" opacity="0.73"/><ellipse cx="25.2" cy="422.5" rx="1.0" ry="0.8" transform="rotate(15 25.2 422.5)" opacity="0.57"/><ellipse cx="67.5" cy="468.8" rx="1.4" ry="0.8" transform="rotate(50 67.5 468.8)" opacity="0.56"/><ellipse cx="48.3" cy="468.9" rx="1.6" ry="0.5" transform="rotate(32 48.3 468.9)" opacity="0.47"/><ellipse cx="35.7" cy="439.8" rx="1.2" ry="0.5" transform="rotate(1 35.7 439.8)" opacity="0.56"/><ellipse cx="49.3" cy="445.7" rx="1.6" ry="0.7" transform="rotate(93 49.3 445.7)" opacity="0.66"/><ellipse cx="80.2" cy="408.3" rx="1.5" ry="0.8" transform="rotate(157 80.2 408.3)" opacity="0.75"/><ellipse cx="51.7" cy="433.5" rx="0.7" ry="0.7" transform="rotate(11 51.7 433.5)" opacity="0.38"/><ellipse cx="33.2" cy="416.2" rx="0.9" ry="0.4" transform="rotate(0 33.2 416.2)" opacity="0.43"/><ellipse cx="22.4" cy="430.9" rx="0.6" ry="0.8" transform="rotate(111 22.4 430.9)" opacity="0.42"/><ellipse cx="37.6" cy="429.7" rx="1.0" ry="0.5" transform="rotate(153 37.6 429.7)" opacity="0.85"/><ellipse cx="59.1" cy="439.7" rx="0.7" ry="0.4" transform="rotate(62 59.1 439.7)" opacity="0.48"/><ellipse cx="95.6" cy="416.2" rx="0.6" ry="0.8" transform="rotate(95 95.6 416.2)" opacity="0.42"/><ellipse cx="66.8" cy="406.4" rx="1.1" ry="0.8" transform="rotate(155 66.8 406.4)" opacity="0.70"/><ellipse cx="38.5" cy="431.1" rx="0.8" ry="0.7" transform="rotate(96 38.5 431.1)" opacity="0.74"/><ellipse cx="45.4" cy="420.7" rx="1.4" ry="0.8" transform="rotate(153 45.4 420.7)" opacity="0.75"/><ellipse cx="94.5" cy="458.3" rx="0.8" ry="0.6" transform="rotate(64 94.5 458.3)" opacity="0.36"/><ellipse cx="15.0" cy="424.8" rx="0.9" ry="0.7" transform="rotate(172 15.0 424.8)" opacity="0.57"/><ellipse cx="106.5" cy="476.4" rx="1.6" ry="0.6" transform="rotate(40 106.5 476.4)" opacity="0.46"/><ellipse cx="32.0" cy="419.3" rx="1.2" ry="0.8" transform="rotate(151 32.0 419.3)" opacity="0.59"/><ellipse cx="77.9" cy="462.7" rx="0.7" ry="0.7" transform="rotate(164 77.9 462.7)" opacity="0.74"/><ellipse cx="87.7" cy="439.2" rx="0.8" ry="0.8" transform="rotate(60 87.7 439.2)" opacity="0.75"/><ellipse cx="109.9" cy="433.3" rx="1.0" ry="0.8" transform="rotate(130 109.9 433.3)" opacity="0.44"/><ellipse cx="25.0" cy="415.4" rx="1.5" ry="0.8" transform="rotate(26 25.0 415.4)" opacity="0.76"/><ellipse cx="110.8" cy="452.3" rx="1.0" ry="0.6" transform="rotate(24 110.8 452.3)" opacity="0.36"/><ellipse cx="109.9" cy="451.8" rx="1.1" ry="0.8" transform="rotate(78 109.9 451.8)" opacity="0.79"/><ellipse cx="95.3" cy="419.8" rx="0.9" ry="0.5" transform="rotate(43 95.3 419.8)" opacity="0.64"/><ellipse cx="38.3" cy="434.9" rx="0.7" ry="0.8" transform="rotate(64 38.3 434.9)" opacity="0.58"/><ellipse cx="70.9" cy="470.3" rx="1.0" ry="0.8" transform="rotate(90 70.9 470.3)" opacity="0.62"/><ellipse cx="64.9" cy="405.8" rx="1.0" ry="0.5" transform="rotate(1 64.9 405.8)" opacity="0.75"/><ellipse cx="29.5" cy="438.9" rx="1.3" ry="0.7" transform="rotate(59 29.5 438.9)" opacity="0.61"/><ellipse cx="68.1" cy="461.6" rx="0.7" ry="0.7" transform="rotate(45 68.1 461.6)" opacity="0.49"/><ellipse cx="89.9" cy="441.4" rx="1.2" ry="0.7" transform="rotate(164 89.9 441.4)" opacity="0.57"/><ellipse cx="73.8" cy="441.3" rx="1.1" ry="0.7" transform="rotate(81 73.8 441.3)" opacity="0.62"/><ellipse cx="60.3" cy="473.0" rx="1.3" ry="0.8" transform="rotate(170 60.3 473.0)" opacity="0.48"/><ellipse cx="68.5" cy="473.2" rx="1.4" ry="0.5" transform="rotate(22 68.5 473.2)" opacity="0.57"/><ellipse cx="19.5" cy="421.9" rx="0.7" ry="0.7" transform="rotate(141 19.5 421.9)" opacity="0.80"/><ellipse cx="27.7" cy="456.6" rx="1.3" ry="0.5" transform="rotate(159 27.7 456.6)" opacity="0.83"/><ellipse cx="34.3" cy="473.8" rx="1.0" ry="0.6" transform="rotate(178 34.3 473.8)" opacity="0.77"/><ellipse cx="28.4" cy="435.9" rx="1.1" ry="0.6" transform="rotate(35 28.4 435.9)" opacity="0.51"/><ellipse cx="84.8" cy="405.8" rx="1.2" ry="0.6" transform="rotate(3 84.8 405.8)" opacity="0.52"/><ellipse cx="75.0" cy="441.7" rx="0.7" ry="0.8" transform="rotate(142 75.0 441.7)" opacity="0.84"/><ellipse cx="22.7" cy="423.8" rx="0.6" ry="0.8" transform="rotate(49 22.7 423.8)" opacity="0.41"/><ellipse cx="54.7" cy="470.8" rx="1.4" ry="0.5" transform="rotate(27 54.7 470.8)" opacity="0.81"/><ellipse cx="69.6" cy="455.5" rx="0.7" ry="0.4" transform="rotate(124 69.6 455.5)" opacity="0.56"/><ellipse cx="19.5" cy="472.8" rx="1.2" ry="0.8" transform="rotate(15 19.5 472.8)" opacity="0.78"/><ellipse cx="18.9" cy="467.3" rx="1.1" ry="0.6" transform="rotate(100 18.9 467.3)" opacity="0.81"/><ellipse cx="39.1" cy="413.8" rx="1.1" ry="0.5" transform="rotate(20 39.1 413.8)" opacity="0.43"/><ellipse cx="17.3" cy="419.1" rx="0.9" ry="0.5" transform="rotate(137 17.3 419.1)" opacity="0.49"/><ellipse cx="62.5" cy="417.4" rx="0.9" ry="0.4" transform="rotate(45 62.5 417.4)" opacity="0.36"/><ellipse cx="85.9" cy="444.6" rx="0.8" ry="0.6" transform="rotate(168 85.9 444.6)" opacity="0.40"/><ellipse cx="94.6" cy="435.9" rx="1.1" ry="0.8" transform="rotate(71 94.6 435.9)" opacity="0.60"/><ellipse cx="81.4" cy="476.0" rx="0.9" ry="0.8" transform="rotate(127 81.4 476.0)" opacity="0.67"/><ellipse cx="52.9" cy="429.7" rx="0.7" ry="0.5" transform="rotate(13 52.9 429.7)" opacity="0.72"/><ellipse cx="37.9" cy="416.3" rx="0.7" ry="0.8" transform="rotate(157 37.9 416.3)" opacity="0.69"/><ellipse cx="40.6" cy="422.1" rx="0.9" ry="0.6" transform="rotate(28 40.6 422.1)" opacity="0.57"/><ellipse cx="38.7" cy="474.5" rx="1.6" ry="0.6" transform="rotate(44 38.7 474.5)" opacity="0.83"/><ellipse cx="43.3" cy="430.4" rx="0.6" ry="0.6" transform="rotate(85 43.3 430.4)" opacity="0.60"/><ellipse cx="32.4" cy="441.2" rx="0.6" ry="0.5" transform="rotate(16 32.4 441.2)" opacity="0.55"/><ellipse cx="16.4" cy="406.0" rx="0.9" ry="0.5" transform="rotate(105 16.4 406.0)" opacity="0.61"/><ellipse cx="87.7" cy="452.3" rx="1.3" ry="0.8" transform="rotate(70 87.7 452.3)" opacity="0.51"/><ellipse cx="111.3" cy="415.3" rx="1.3" ry="0.7" transform="rotate(8 111.3 415.3)" opacity="0.77"/><ellipse cx="101.9" cy="450.1" rx="1.3" ry="0.8" transform="rotate(25 101.9 450.1)" opacity="0.61"/><ellipse cx="62.9" cy="465.3" rx="1.4" ry="0.8" transform="rotate(105 62.9 465.3)" opacity="0.80"/><ellipse cx="80.9" cy="454.9" rx="0.8" ry="0.4" transform="rotate(24 80.9 454.9)" opacity="0.53"/><ellipse cx="22.8" cy="465.3" rx="1.2" ry="0.7" transform="rotate(113 22.8 465.3)" opacity="0.69"/><ellipse cx="61.4" cy="404.6" rx="1.4" ry="0.7" transform="rotate(91 61.4 404.6)" opacity="0.62"/><ellipse cx="78.5" cy="409.2" rx="1.3" ry="0.5" transform="rotate(13 78.5 409.2)" opacity="0.48"/><ellipse cx="85.6" cy="419.4" rx="1.3" ry="0.8" transform="rotate(89 85.6 419.4)" opacity="0.54"/><ellipse cx="60.4" cy="454.2" rx="1.4" ry="0.7" transform="rotate(116 60.4 454.2)" opacity="0.39"/><ellipse cx="27.0" cy="422.9" rx="1.3" ry="0.5" transform="rotate(102 27.0 422.9)" opacity="0.36"/><ellipse cx="18.3" cy="424.0" rx="1.3" ry="0.7" transform="rotate(122 18.3 424.0)" opacity="0.50"/><ellipse cx="64.2" cy="438.3" rx="1.1" ry="0.5" transform="rotate(161 64.2 438.3)" opacity="0.45"/><ellipse cx="110.6" cy="472.7" rx="0.6" ry="0.6" transform="rotate(148 110.6 472.7)" opacity="0.83"/><ellipse cx="57.4" cy="424.0" rx="0.8" ry="0.8" transform="rotate(38 57.4 424.0)" opacity="0.64"/><ellipse cx="26.5" cy="442.6" rx="1.6" ry="0.5" transform="rotate(148 26.5 442.6)" opacity="0.60"/><ellipse cx="101.4" cy="455.7" rx="0.8" ry="0.8" transform="rotate(88 101.4 455.7)" opacity="0.36"/><ellipse cx="12.6" cy="440.2" rx="1.1" ry="0.5" transform="rotate(25 12.6 440.2)" opacity="0.52"/><ellipse cx="44.0" cy="465.7" rx="0.6" ry="0.7" transform="rotate(151 44.0 465.7)" opacity="0.41"/><ellipse cx="105.4" cy="456.4" rx="1.5" ry="0.5" transform="rotate(67 105.4 456.4)" opacity="0.55"/><ellipse cx="112.7" cy="447.4" rx="1.0" ry="0.6" transform="rotate(50 112.7 447.4)" opacity="0.37"/><ellipse cx="22.4" cy="465.2" rx="0.9" ry="0.8" transform="rotate(45 22.4 465.2)" opacity="0.48"/><ellipse cx="63.6" cy="418.2" rx="1.0" ry="0.8" transform="rotate(159 63.6 418.2)" opacity="0.76"/><ellipse cx="75.7" cy="471.0" rx="1.5" ry="0.6" transform="rotate(130 75.7 471.0)" opacity="0.37"/><ellipse cx="85.9" cy="437.3" rx="1.4" ry="0.7" transform="rotate(52 85.9 437.3)" opacity="0.37"/><ellipse cx="105.4" cy="413.7" rx="1.1" ry="0.6" transform="rotate(54 105.4 413.7)" opacity="0.72"/><ellipse cx="110.4" cy="423.4" rx="1.3" ry="0.5" transform="rotate(100 110.4 423.4)" opacity="0.55"/><ellipse cx="29.0" cy="416.2" rx="0.8" ry="0.8" transform="rotate(89 29.0 416.2)" opacity="0.46"/><ellipse cx="103.4" cy="477.0" rx="1.0" ry="0.5" transform="rotate(35 103.4 477.0)" opacity="0.40"/><ellipse cx="46.6" cy="411.0" rx="0.8" ry="0.5" transform="rotate(103 46.6 411.0)" opacity="0.79"/><ellipse cx="87.6" cy="434.5" rx="1.0" ry="0.6" transform="rotate(68 87.6 434.5)" opacity="0.52"/><ellipse cx="18.4" cy="424.6" rx="1.6" ry="0.5" transform="rotate(91 18.4 424.6)" opacity="0.66"/><ellipse cx="99.0" cy="420.1" rx="0.9" ry="0.5" transform="rotate(72 99.0 420.1)" opacity="0.57"/><ellipse cx="108.2" cy="466.3" rx="1.5" ry="0.4" transform="rotate(6 108.2 466.3)" opacity="0.70"/><ellipse cx="102.3" cy="438.9" rx="1.2" ry="0.4" transform="rotate(70 102.3 438.9)" opacity="0.81"/><ellipse cx="95.3" cy="466.8" rx="1.6" ry="0.5" transform="rotate(20 95.3 466.8)" opacity="0.43"/><ellipse cx="64.7" cy="454.1" rx="1.5" ry="0.7" transform="rotate(117 64.7 454.1)" opacity="0.73"/><ellipse cx="58.2" cy="444.6" rx="0.6" ry="0.8" transform="rotate(42 58.2 444.6)" opacity="0.81"/><ellipse cx="77.1" cy="426.5" rx="0.7" ry="0.5" transform="rotate(115 77.1 426.5)" opacity="0.70"/><ellipse cx="23.5" cy="409.5" rx="1.1" ry="0.7" transform="rotate(70 23.5 409.5)" opacity="0.46"/><ellipse cx="72.7" cy="405.2" rx="0.9" ry="0.6" transform="rotate(173 72.7 405.2)" opacity="0.67"/><ellipse cx="101.1" cy="439.0" rx="0.8" ry="0.5" transform="rotate(173 101.1 439.0)" opacity="0.70"/><ellipse cx="43.1" cy="406.0" rx="1.1" ry="0.7" transform="rotate(76 43.1 406.0)" opacity="0.48"/><ellipse cx="79.3" cy="471.8" rx="0.8" ry="0.4" transform="rotate(61 79.3 471.8)" opacity="0.56"/><ellipse cx="80.9" cy="418.8" rx="1.4" ry="0.7" transform="rotate(91 80.9 418.8)" opacity="0.45"/><ellipse cx="109.8" cy="427.1" rx="1.4" ry="0.5" transform="rotate(40 109.8 427.1)" opacity="0.73"/><ellipse cx="41.9" cy="473.8" rx="1.1" ry="0.5" transform="rotate(40 41.9 473.8)" opacity="0.56"/><ellipse cx="79.1" cy="473.6" rx="0.7" ry="0.6" transform="rotate(38 79.1 473.6)" opacity="0.84"/><ellipse cx="26.5" cy="408.2" rx="0.7" ry="0.6" transform="rotate(162 26.5 408.2)" opacity="0.79"/><ellipse cx="85.9" cy="477.1" rx="1.5" ry="0.5" transform="rotate(33 85.9 477.1)" opacity="0.82"/><ellipse cx="87.3" cy="406.7" rx="1.3" ry="0.6" transform="rotate(67 87.3 406.7)" opacity="0.52"/><ellipse cx="29.2" cy="404.6" rx="0.9" ry="0.6" transform="rotate(172 29.2 404.6)" opacity="0.41"/><ellipse cx="109.2" cy="419.5" rx="1.0" ry="0.8" transform="rotate(148 109.2 419.5)" opacity="0.57"/><ellipse cx="17.2" cy="438.9" rx="1.0" ry="0.8" transform="rotate(35 17.2 438.9)" opacity="0.53"/><ellipse cx="102.4" cy="406.6" rx="1.0" ry="0.8" transform="rotate(138 102.4 406.6)" opacity="0.37"/><ellipse cx="15.7" cy="409.0" rx="1.5" ry="0.5" transform="rotate(135 15.7 409.0)" opacity="0.80"/><ellipse cx="46.3" cy="424.3" rx="1.6" ry="0.7" transform="rotate(47 46.3 424.3)" opacity="0.71"/><ellipse cx="44.0" cy="424.5" rx="0.6" ry="0.7" transform="rotate(165 44.0 424.5)" opacity="0.67"/><ellipse cx="107.1" cy="406.2" rx="0.8" ry="0.6" transform="rotate(172 107.1 406.2)" opacity="0.83"/><ellipse cx="51.1" cy="422.7" rx="1.0" ry="0.6" transform="rotate(167 51.1 422.7)" opacity="0.44"/><ellipse cx="92.9" cy="458.2" rx="1.4" ry="0.7" transform="rotate(109 92.9 458.2)" opacity="0.51"/><ellipse cx="44.3" cy="430.8" rx="1.4" ry="0.4" transform="rotate(36 44.3 430.8)" opacity="0.73"/><ellipse cx="37.1" cy="409.1" rx="0.6" ry="0.6" transform="rotate(59 37.1 409.1)" opacity="0.84"/><ellipse cx="101.1" cy="476.4" rx="0.9" ry="0.4" transform="rotate(17 101.1 476.4)" opacity="0.60"/><ellipse cx="83.6" cy="437.0" rx="0.8" ry="0.6" transform="rotate(112 83.6 437.0)" opacity="0.69"/><ellipse cx="87.4" cy="466.1" rx="1.3" ry="0.5" transform="rotate(151 87.4 466.1)" opacity="0.50"/><ellipse cx="69.2" cy="431.6" rx="1.3" ry="0.5" transform="rotate(45 69.2 431.6)" opacity="0.47"/><ellipse cx="27.6" cy="468.9" rx="1.2" ry="0.5" transform="rotate(71 27.6 468.9)" opacity="0.85"/><ellipse cx="63.2" cy="421.3" rx="1.4" ry="0.7" transform="rotate(178 63.2 421.3)" opacity="0.40"/><ellipse cx="60.0" cy="464.1" rx="1.4" ry="0.8" transform="rotate(7 60.0 464.1)" opacity="0.50"/><ellipse cx="24.2" cy="418.2" rx="1.6" ry="0.7" transform="rotate(167 24.2 418.2)" opacity="0.54"/><ellipse cx="99.3" cy="437.1" rx="0.9" ry="0.7" transform="rotate(170 99.3 437.1)" opacity="0.40"/><ellipse cx="72.2" cy="449.6" rx="0.8" ry="0.6" transform="rotate(25 72.2 449.6)" opacity="0.45"/><ellipse cx="37.8" cy="448.1" rx="1.3" ry="0.5" transform="rotate(2 37.8 448.1)" opacity="0.51"/><ellipse cx="80.4" cy="417.9" rx="0.9" ry="0.5" transform="rotate(143 80.4 417.9)" opacity="0.62"/><ellipse cx="18.6" cy="411.8" rx="1.0" ry="0.6" transform="rotate(115 18.6 411.8)" opacity="0.40"/><ellipse cx="28.7" cy="455.1" rx="1.0" ry="0.5" transform="rotate(55 28.7 455.1)" opacity="0.83"/><ellipse cx="43.6" cy="445.7" rx="1.0" ry="0.6" transform="rotate(156 43.6 445.7)" opacity="0.85"/><ellipse cx="48.8" cy="418.8" rx="1.3" ry="0.5" transform="rotate(1 48.8 418.8)" opacity="0.80"/><ellipse cx="54.8" cy="464.2" rx="1.0" ry="0.8" transform="rotate(83 54.8 464.2)" opacity="0.43"/><ellipse cx="13.7" cy="444.6" rx="1.2" ry="0.8" transform="rotate(16 13.7 444.6)" opacity="0.66"/><ellipse cx="49.5" cy="441.2" rx="0.7" ry="0.5" transform="rotate(94 49.5 441.2)" opacity="0.81"/><ellipse cx="23.1" cy="440.2" rx="1.4" ry="0.8" transform="rotate(36 23.1 440.2)" opacity="0.41"/><ellipse cx="107.1" cy="475.5" rx="1.1" ry="0.4" transform="rotate(167 107.1 475.5)" opacity="0.54"/><ellipse cx="103.2" cy="449.6" rx="1.4" ry="0.5" transform="rotate(141 103.2 449.6)" opacity="0.46"/><ellipse cx="52.9" cy="466.1" rx="1.4" ry="0.5" transform="rotate(39 52.9 466.1)" opacity="0.55"/><ellipse cx="64.3" cy="432.4" rx="0.7" ry="0.5" transform="rotate(130 64.3 432.4)" opacity="0.80"/><ellipse cx="16.3" cy="445.4" rx="1.4" ry="0.4" transform="rotate(151 16.3 445.4)" opacity="0.41"/><ellipse cx="72.5" cy="444.5" rx="1.2" ry="0.5" transform="rotate(76 72.5 444.5)" opacity="0.64"/><ellipse cx="55.0" cy="452.4" rx="1.0" ry="0.6" transform="rotate(4 55.0 452.4)" opacity="0.66"/><ellipse cx="61.4" cy="421.5" rx="1.4" ry="0.8" transform="rotate(82 61.4 421.5)" opacity="0.44"/><ellipse cx="59.8" cy="412.2" rx="0.7" ry="0.6" transform="rotate(17 59.8 412.2)" opacity="0.57"/><ellipse cx="63.5" cy="407.4" rx="1.2" ry="0.4" transform="rotate(132 63.5 407.4)" opacity="0.74"/><ellipse cx="63.7" cy="408.4" rx="1.1" ry="0.6" transform="rotate(171 63.7 408.4)" opacity="0.42"/><ellipse cx="98.4" cy="477.0" rx="1.3" ry="0.8" transform="rotate(35 98.4 477.0)" opacity="0.84"/><ellipse cx="61.7" cy="474.1" rx="1.5" ry="0.5" transform="rotate(142 61.7 474.1)" opacity="0.82"/><ellipse cx="18.8" cy="430.0" rx="1.4" ry="0.5" transform="rotate(161 18.8 430.0)" opacity="0.49"/></g>
<line x1="88.50" y1="471.40" x2="109.60" y2="471.40" stroke="#333" stroke-width="0.7" />
<text x="92.50" y="475.70" font-size="3.4" font-weight="normal" text-anchor="start" fill="#222" font-family="Liberation Sans" textLength="10.3" lengthAdjust="spacingAndGlyphs">500 μm</text>
<rect x="114.20" y="403.40" width="102.50" height="74.90" fill="#ebeff0" stroke="none" stroke-width="1" />
<g fill="#7682d4" filter="url(#bl1)"><ellipse cx="197.2" cy="414.9" rx="1.1" ry="0.8" transform="rotate(37 197.2 414.9)" opacity="0.48"/><ellipse cx="166.1" cy="427.7" rx="0.6" ry="0.5" transform="rotate(29 166.1 427.7)" opacity="0.82"/><ellipse cx="183.5" cy="469.7" rx="0.8" ry="0.8" transform="rotate(21 183.5 469.7)" opacity="0.62"/><ellipse cx="179.2" cy="430.6" rx="1.5" ry="0.6" transform="rotate(104 179.2 430.6)" opacity="0.79"/><ellipse cx="125.7" cy="476.8" rx="1.2" ry="0.6" transform="rotate(144 125.7 476.8)" opacity="0.48"/><ellipse cx="214.7" cy="446.5" rx="1.0" ry="0.7" transform="rotate(80 214.7 446.5)" opacity="0.44"/><ellipse cx="189.9" cy="407.9" rx="1.4" ry="0.5" transform="rotate(115 189.9 407.9)" opacity="0.84"/><ellipse cx="174.1" cy="452.8" rx="0.9" ry="0.4" transform="rotate(6 174.1 452.8)" opacity="0.42"/><ellipse cx="177.1" cy="435.9" rx="1.1" ry="0.8" transform="rotate(24 177.1 435.9)" opacity="0.46"/><ellipse cx="180.8" cy="406.0" rx="0.6" ry="0.6" transform="rotate(19 180.8 406.0)" opacity="0.53"/><ellipse cx="137.7" cy="446.9" rx="1.2" ry="0.5" transform="rotate(112 137.7 446.9)" opacity="0.59"/><ellipse cx="128.7" cy="472.7" rx="0.8" ry="0.5" transform="rotate(17 128.7 472.7)" opacity="0.67"/><ellipse cx="202.8" cy="461.4" rx="1.0" ry="0.5" transform="rotate(2 202.8 461.4)" opacity="0.67"/><ellipse cx="171.7" cy="429.9" rx="1.2" ry="0.6" transform="rotate(169 171.7 429.9)" opacity="0.72"/><ellipse cx="140.2" cy="470.3" rx="0.6" ry="0.6" transform="rotate(73 140.2 470.3)" opacity="0.47"/><ellipse cx="121.1" cy="461.2" rx="0.6" ry="0.6" transform="rotate(169 121.1 461.2)" opacity="0.42"/><ellipse cx="135.3" cy="448.7" rx="1.1" ry="0.7" transform="rotate(146 135.3 448.7)" opacity="0.44"/><ellipse cx="146.3" cy="426.3" rx="0.6" ry="0.8" transform="rotate(141 146.3 426.3)" opacity="0.71"/><ellipse cx="115.8" cy="466.0" rx="1.3" ry="0.6" transform="rotate(134 115.8 466.0)" opacity="0.58"/><ellipse cx="137.9" cy="412.1" rx="0.8" ry="0.4" transform="rotate(60 137.9 412.1)" opacity="0.72"/><ellipse cx="185.1" cy="466.0" rx="1.3" ry="0.5" transform="rotate(100 185.1 466.0)" opacity="0.57"/><ellipse cx="194.4" cy="442.5" rx="0.9" ry="0.7" transform="rotate(174 194.4 442.5)" opacity="0.46"/><ellipse cx="203.6" cy="405.5" rx="0.9" ry="0.5" transform="rotate(134 203.6 405.5)" opacity="0.82"/><ellipse cx="190.2" cy="428.2" rx="1.5" ry="0.5" transform="rotate(43 190.2 428.2)" opacity="0.80"/><ellipse cx="178.6" cy="454.9" rx="1.3" ry="0.8" transform="rotate(85 178.6 454.9)" opacity="0.77"/><ellipse cx="185.3" cy="466.9" rx="1.0" ry="0.7" transform="rotate(103 185.3 466.9)" opacity="0.50"/><ellipse cx="136.5" cy="449.8" rx="0.7" ry="0.8" transform="rotate(26 136.5 449.8)" opacity="0.36"/><ellipse cx="125.9" cy="472.1" rx="0.9" ry="0.5" transform="rotate(5 125.9 472.1)" opacity="0.37"/><ellipse cx="184.8" cy="450.6" rx="1.3" ry="0.7" transform="rotate(12 184.8 450.6)" opacity="0.65"/><ellipse cx="151.7" cy="464.0" rx="1.4" ry="0.8" transform="rotate(12 151.7 464.0)" opacity="0.78"/><ellipse cx="207.1" cy="473.2" rx="0.7" ry="0.5" transform="rotate(20 207.1 473.2)" opacity="0.37"/><ellipse cx="200.4" cy="463.6" rx="1.2" ry="0.8" transform="rotate(114 200.4 463.6)" opacity="0.49"/><ellipse cx="125.2" cy="411.5" rx="1.4" ry="0.5" transform="rotate(57 125.2 411.5)" opacity="0.56"/><ellipse cx="117.3" cy="423.1" rx="0.9" ry="0.7" transform="rotate(66 117.3 423.1)" opacity="0.51"/><ellipse cx="212.1" cy="441.1" rx="1.5" ry="0.7" transform="rotate(6 212.1 441.1)" opacity="0.56"/><ellipse cx="159.1" cy="460.8" rx="0.9" ry="0.7" transform="rotate(97 159.1 460.8)" opacity="0.46"/><ellipse cx="201.9" cy="411.0" rx="1.4" ry="0.5" transform="rotate(0 201.9 411.0)" opacity="0.45"/><ellipse cx="191.8" cy="475.7" rx="0.6" ry="0.6" transform="rotate(88 191.8 475.7)" opacity="0.75"/><ellipse cx="133.7" cy="440.5" rx="0.9" ry="0.8" transform="rotate(47 133.7 440.5)" opacity="0.82"/><ellipse cx="143.7" cy="420.1" rx="1.3" ry="0.6" transform="rotate(20 143.7 420.1)" opacity="0.67"/><ellipse cx="123.3" cy="461.8" rx="1.3" ry="0.8" transform="rotate(113 123.3 461.8)" opacity="0.53"/><ellipse cx="155.5" cy="433.2" rx="1.5" ry="0.4" transform="rotate(160 155.5 433.2)" opacity="0.36"/><ellipse cx="135.9" cy="423.6" rx="1.5" ry="0.6" transform="rotate(68 135.9 423.6)" opacity="0.79"/><ellipse cx="138.7" cy="438.0" rx="1.1" ry="0.7" transform="rotate(136 138.7 438.0)" opacity="0.67"/><ellipse cx="150.2" cy="428.2" rx="0.8" ry="0.8" transform="rotate(119 150.2 428.2)" opacity="0.72"/><ellipse cx="132.2" cy="436.4" rx="1.4" ry="0.7" transform="rotate(23 132.2 436.4)" opacity="0.58"/><ellipse cx="204.2" cy="421.7" rx="0.8" ry="0.5" transform="rotate(127 204.2 421.7)" opacity="0.77"/><ellipse cx="130.7" cy="415.8" rx="0.8" ry="0.5" transform="rotate(94 130.7 415.8)" opacity="0.43"/><ellipse cx="148.2" cy="418.2" rx="1.6" ry="0.7" transform="rotate(18 148.2 418.2)" opacity="0.83"/><ellipse cx="125.4" cy="432.4" rx="1.6" ry="0.8" transform="rotate(132 125.4 432.4)" opacity="0.57"/><ellipse cx="134.9" cy="450.9" rx="0.7" ry="0.5" transform="rotate(70 134.9 450.9)" opacity="0.37"/><ellipse cx="155.3" cy="462.1" rx="1.3" ry="0.6" transform="rotate(114 155.3 462.1)" opacity="0.58"/><ellipse cx="129.5" cy="448.4" rx="1.0" ry="0.7" transform="rotate(163 129.5 448.4)" opacity="0.57"/><ellipse cx="172.9" cy="459.0" rx="1.0" ry="0.5" transform="rotate(130 172.9 459.0)" opacity="0.79"/><ellipse cx="193.0" cy="455.4" rx="1.5" ry="0.7" transform="rotate(115 193.0 455.4)" opacity="0.58"/><ellipse cx="146.7" cy="450.2" rx="0.7" ry="0.6" transform="rotate(141 146.7 450.2)" opacity="0.71"/><ellipse cx="178.5" cy="422.6" rx="1.0" ry="0.6" transform="rotate(112 178.5 422.6)" opacity="0.55"/><ellipse cx="183.1" cy="472.2" rx="0.8" ry="0.7" transform="rotate(140 183.1 472.2)" opacity="0.54"/><ellipse cx="164.4" cy="475.4" rx="0.6" ry="0.6" transform="rotate(29 164.4 475.4)" opacity="0.74"/><ellipse cx="209.7" cy="442.3" rx="0.7" ry="0.7" transform="rotate(97 209.7 442.3)" opacity="0.71"/><ellipse cx="166.7" cy="451.0" rx="1.4" ry="0.6" transform="rotate(74 166.7 451.0)" opacity="0.82"/><ellipse cx="136.3" cy="454.3" rx="1.0" ry="0.7" transform="rotate(22 136.3 454.3)" opacity="0.84"/><ellipse cx="150.9" cy="408.5" rx="0.9" ry="0.6" transform="rotate(2 150.9 408.5)" opacity="0.56"/><ellipse cx="157.5" cy="455.3" rx="1.0" ry="0.5" transform="rotate(40 157.5 455.3)" opacity="0.72"/><ellipse cx="209.7" cy="442.8" rx="0.8" ry="0.8" transform="rotate(71 209.7 442.8)" opacity="0.46"/><ellipse cx="128.2" cy="461.0" rx="1.4" ry="0.7" transform="rotate(84 128.2 461.0)" opacity="0.63"/><ellipse cx="137.9" cy="474.7" rx="1.0" ry="0.7" transform="rotate(147 137.9 474.7)" opacity="0.76"/><ellipse cx="162.2" cy="425.9" rx="1.1" ry="0.5" transform="rotate(150 162.2 425.9)" opacity="0.53"/><ellipse cx="200.7" cy="423.9" rx="1.0" ry="0.5" transform="rotate(77 200.7 423.9)" opacity="0.44"/><ellipse cx="115.5" cy="457.0" rx="0.9" ry="0.5" transform="rotate(54 115.5 457.0)" opacity="0.59"/><ellipse cx="158.3" cy="450.9" rx="1.3" ry="0.6" transform="rotate(167 158.3 450.9)" opacity="0.78"/><ellipse cx="120.9" cy="464.8" rx="1.5" ry="0.8" transform="rotate(25 120.9 464.8)" opacity="0.77"/><ellipse cx="178.8" cy="405.5" rx="0.6" ry="0.8" transform="rotate(118 178.8 405.5)" opacity="0.48"/><ellipse cx="125.4" cy="414.8" rx="0.8" ry="0.7" transform="rotate(62 125.4 414.8)" opacity="0.43"/><ellipse cx="206.1" cy="462.1" rx="0.8" ry="0.8" transform="rotate(110 206.1 462.1)" opacity="0.74"/><ellipse cx="182.4" cy="469.6" rx="1.4" ry="0.8" transform="rotate(36 182.4 469.6)" opacity="0.70"/><ellipse cx="168.5" cy="458.5" rx="1.0" ry="0.8" transform="rotate(100 168.5 458.5)" opacity="0.48"/><ellipse cx="138.7" cy="414.6" rx="1.1" ry="0.4" transform="rotate(84 138.7 414.6)" opacity="0.42"/><ellipse cx="164.6" cy="440.7" rx="1.1" ry="0.8" transform="rotate(1 164.6 440.7)" opacity="0.77"/><ellipse cx="162.2" cy="445.4" rx="1.3" ry="0.8" transform="rotate(67 162.2 445.4)" opacity="0.56"/><ellipse cx="211.7" cy="409.9" rx="1.2" ry="0.7" transform="rotate(5 211.7 409.9)" opacity="0.65"/><ellipse cx="183.8" cy="472.3" rx="0.9" ry="0.8" transform="rotate(92 183.8 472.3)" opacity="0.59"/><ellipse cx="205.4" cy="406.9" rx="1.3" ry="0.7" transform="rotate(61 205.4 406.9)" opacity="0.78"/><ellipse cx="152.0" cy="439.0" rx="1.1" ry="0.7" transform="rotate(38 152.0 439.0)" opacity="0.57"/><ellipse cx="157.7" cy="444.8" rx="1.4" ry="0.5" transform="rotate(149 157.7 444.8)" opacity="0.55"/><ellipse cx="165.8" cy="424.2" rx="1.1" ry="0.8" transform="rotate(118 165.8 424.2)" opacity="0.75"/><ellipse cx="148.5" cy="427.5" rx="0.9" ry="0.7" transform="rotate(114 148.5 427.5)" opacity="0.74"/><ellipse cx="119.2" cy="457.1" rx="1.5" ry="0.6" transform="rotate(9 119.2 457.1)" opacity="0.50"/><ellipse cx="115.8" cy="418.2" rx="1.5" ry="0.7" transform="rotate(118 115.8 418.2)" opacity="0.74"/><ellipse cx="206.6" cy="449.0" rx="1.2" ry="0.7" transform="rotate(125 206.6 449.0)" opacity="0.65"/><ellipse cx="183.6" cy="419.9" rx="1.3" ry="0.6" transform="rotate(137 183.6 419.9)" opacity="0.40"/><ellipse cx="133.4" cy="407.1" rx="1.4" ry="0.8" transform="rotate(118 133.4 407.1)" opacity="0.53"/><ellipse cx="197.9" cy="461.7" rx="1.2" ry="0.5" transform="rotate(54 197.9 461.7)" opacity="0.56"/><ellipse cx="147.2" cy="435.8" rx="1.2" ry="0.8" transform="rotate(10 147.2 435.8)" opacity="0.63"/><ellipse cx="119.2" cy="413.1" rx="1.4" ry="0.7" transform="rotate(165 119.2 413.1)" opacity="0.57"/><ellipse cx="116.6" cy="432.6" rx="1.2" ry="0.8" transform="rotate(177 116.6 432.6)" opacity="0.59"/><ellipse cx="156.6" cy="411.8" rx="1.2" ry="0.5" transform="rotate(27 156.6 411.8)" opacity="0.36"/><ellipse cx="115.7" cy="454.2" rx="0.7" ry="0.8" transform="rotate(16 115.7 454.2)" opacity="0.78"/><ellipse cx="128.2" cy="405.7" rx="1.3" ry="0.5" transform="rotate(132 128.2 405.7)" opacity="0.44"/><ellipse cx="120.2" cy="460.8" rx="1.3" ry="0.8" transform="rotate(131 120.2 460.8)" opacity="0.39"/><ellipse cx="178.4" cy="456.1" rx="1.1" ry="0.8" transform="rotate(46 178.4 456.1)" opacity="0.83"/><ellipse cx="187.3" cy="405.2" rx="0.6" ry="0.7" transform="rotate(147 187.3 405.2)" opacity="0.39"/><ellipse cx="146.5" cy="457.6" rx="0.8" ry="0.8" transform="rotate(88 146.5 457.6)" opacity="0.38"/><ellipse cx="152.1" cy="446.3" rx="1.0" ry="0.7" transform="rotate(26 152.1 446.3)" opacity="0.75"/><ellipse cx="151.7" cy="451.4" rx="1.2" ry="0.6" transform="rotate(69 151.7 451.4)" opacity="0.74"/><ellipse cx="210.2" cy="461.6" rx="1.2" ry="0.5" transform="rotate(11 210.2 461.6)" opacity="0.84"/><ellipse cx="185.9" cy="464.7" rx="0.9" ry="0.7" transform="rotate(176 185.9 464.7)" opacity="0.77"/><ellipse cx="175.6" cy="426.9" rx="1.0" ry="0.8" transform="rotate(68 175.6 426.9)" opacity="0.69"/><ellipse cx="175.7" cy="469.7" rx="1.4" ry="0.5" transform="rotate(0 175.7 469.7)" opacity="0.48"/><ellipse cx="157.7" cy="447.2" rx="1.4" ry="0.8" transform="rotate(8 157.7 447.2)" opacity="0.77"/><ellipse cx="196.8" cy="467.6" rx="1.2" ry="0.5" transform="rotate(153 196.8 467.6)" opacity="0.75"/><ellipse cx="184.0" cy="471.0" rx="0.9" ry="0.4" transform="rotate(100 184.0 471.0)" opacity="0.75"/><ellipse cx="135.3" cy="459.1" rx="1.5" ry="0.5" transform="rotate(109 135.3 459.1)" opacity="0.69"/><ellipse cx="162.0" cy="419.5" rx="0.9" ry="0.7" transform="rotate(142 162.0 419.5)" opacity="0.58"/><ellipse cx="124.0" cy="463.2" rx="1.4" ry="0.5" transform="rotate(104 124.0 463.2)" opacity="0.80"/><ellipse cx="204.2" cy="442.4" rx="1.1" ry="0.7" transform="rotate(34 204.2 442.4)" opacity="0.45"/><ellipse cx="133.4" cy="455.5" rx="1.0" ry="0.7" transform="rotate(72 133.4 455.5)" opacity="0.61"/><ellipse cx="130.2" cy="407.7" rx="1.6" ry="0.6" transform="rotate(19 130.2 407.7)" opacity="0.67"/><ellipse cx="194.3" cy="415.8" rx="1.2" ry="0.6" transform="rotate(94 194.3 415.8)" opacity="0.36"/><ellipse cx="118.6" cy="476.6" rx="1.5" ry="0.6" transform="rotate(102 118.6 476.6)" opacity="0.48"/></g>
<line x1="191.40" y1="471.40" x2="212.50" y2="471.40" stroke="#333" stroke-width="0.7" />
<text x="195.40" y="475.70" font-size="3.4" font-weight="normal" text-anchor="start" fill="#222" font-family="Liberation Sans" textLength="10.3" lengthAdjust="spacingAndGlyphs">500 μm</text>
<rect x="217.10" y="403.40" width="101.90" height="74.90" fill="#ebf0f0" stroke="none" stroke-width="1" />
<g fill="#7682d4" filter="url(#bl1)"><ellipse cx="295.9" cy="435.5" rx="1.5" ry="0.7" transform="rotate(147 295.9 435.5)" opacity="0.83"/><ellipse cx="243.5" cy="407.2" rx="0.8" ry="0.5" transform="rotate(15 243.5 407.2)" opacity="0.38"/><ellipse cx="273.8" cy="467.9" rx="1.1" ry="0.8" transform="rotate(164 273.8 467.9)" opacity="0.38"/><ellipse cx="277.8" cy="433.4" rx="0.7" ry="0.8" transform="rotate(46 277.8 433.4)" opacity="0.63"/><ellipse cx="282.1" cy="474.1" rx="1.3" ry="0.6" transform="rotate(81 282.1 474.1)" opacity="0.43"/><ellipse cx="314.6" cy="476.7" rx="0.8" ry="0.4" transform="rotate(46 314.6 476.7)" opacity="0.53"/><ellipse cx="308.3" cy="470.3" rx="1.4" ry="0.4" transform="rotate(142 308.3 470.3)" opacity="0.70"/><ellipse cx="282.7" cy="476.2" rx="0.7" ry="0.5" transform="rotate(136 282.7 476.2)" opacity="0.82"/><ellipse cx="285.7" cy="426.2" rx="1.2" ry="0.7" transform="rotate(19 285.7 426.2)" opacity="0.51"/><ellipse cx="243.8" cy="413.5" rx="1.1" ry="0.5" transform="rotate(43 243.8 413.5)" opacity="0.42"/><ellipse cx="285.8" cy="405.3" rx="1.3" ry="0.5" transform="rotate(6 285.8 405.3)" opacity="0.81"/><ellipse cx="240.1" cy="472.5" rx="1.5" ry="0.8" transform="rotate(25 240.1 472.5)" opacity="0.57"/><ellipse cx="227.8" cy="472.1" rx="1.4" ry="0.7" transform="rotate(81 227.8 472.1)" opacity="0.52"/><ellipse cx="300.3" cy="439.2" rx="1.2" ry="0.5" transform="rotate(40 300.3 439.2)" opacity="0.38"/><ellipse cx="289.4" cy="444.7" rx="0.7" ry="0.8" transform="rotate(48 289.4 444.7)" opacity="0.56"/><ellipse cx="233.7" cy="424.2" rx="1.4" ry="0.6" transform="rotate(30 233.7 424.2)" opacity="0.60"/><ellipse cx="249.9" cy="470.2" rx="0.7" ry="0.8" transform="rotate(10 249.9 470.2)" opacity="0.80"/><ellipse cx="284.9" cy="419.8" rx="1.1" ry="0.5" transform="rotate(46 284.9 419.8)" opacity="0.45"/><ellipse cx="254.5" cy="476.6" rx="1.6" ry="0.8" transform="rotate(18 254.5 476.6)" opacity="0.49"/><ellipse cx="307.6" cy="408.6" rx="1.3" ry="0.5" transform="rotate(176 307.6 408.6)" opacity="0.36"/><ellipse cx="298.7" cy="429.3" rx="0.7" ry="0.4" transform="rotate(150 298.7 429.3)" opacity="0.61"/><ellipse cx="236.7" cy="436.1" rx="1.5" ry="0.5" transform="rotate(103 236.7 436.1)" opacity="0.42"/><ellipse cx="236.1" cy="460.6" rx="1.3" ry="0.5" transform="rotate(14 236.1 460.6)" opacity="0.39"/><ellipse cx="278.9" cy="440.5" rx="0.9" ry="0.5" transform="rotate(110 278.9 440.5)" opacity="0.70"/><ellipse cx="299.2" cy="446.9" rx="0.8" ry="0.4" transform="rotate(132 299.2 446.9)" opacity="0.55"/><ellipse cx="290.2" cy="408.4" rx="1.4" ry="0.6" transform="rotate(152 290.2 408.4)" opacity="0.78"/><ellipse cx="267.4" cy="405.5" rx="1.5" ry="0.6" transform="rotate(157 267.4 405.5)" opacity="0.48"/><ellipse cx="236.7" cy="465.0" rx="1.0" ry="0.5" transform="rotate(67 236.7 465.0)" opacity="0.65"/><ellipse cx="218.6" cy="442.3" rx="1.0" ry="0.6" transform="rotate(22 218.6 442.3)" opacity="0.71"/><ellipse cx="299.7" cy="467.5" rx="0.9" ry="0.7" transform="rotate(69 299.7 467.5)" opacity="0.73"/><ellipse cx="224.2" cy="468.0" rx="1.6" ry="0.6" transform="rotate(92 224.2 468.0)" opacity="0.62"/><ellipse cx="271.8" cy="405.9" rx="1.6" ry="0.5" transform="rotate(33 271.8 405.9)" opacity="0.40"/><ellipse cx="243.1" cy="464.0" rx="0.6" ry="0.4" transform="rotate(126 243.1 464.0)" opacity="0.45"/><ellipse cx="219.9" cy="448.1" rx="1.2" ry="0.6" transform="rotate(126 219.9 448.1)" opacity="0.40"/><ellipse cx="305.0" cy="456.7" rx="0.6" ry="0.5" transform="rotate(89 305.0 456.7)" opacity="0.60"/><ellipse cx="246.0" cy="413.3" rx="1.0" ry="0.5" transform="rotate(107 246.0 413.3)" opacity="0.78"/><ellipse cx="232.8" cy="446.2" rx="1.3" ry="0.5" transform="rotate(149 232.8 446.2)" opacity="0.82"/><ellipse cx="256.9" cy="435.1" rx="1.4" ry="0.6" transform="rotate(71 256.9 435.1)" opacity="0.82"/><ellipse cx="295.7" cy="429.1" rx="0.8" ry="0.6" transform="rotate(78 295.7 429.1)" opacity="0.84"/><ellipse cx="298.5" cy="470.9" rx="1.4" ry="0.8" transform="rotate(10 298.5 470.9)" opacity="0.61"/><ellipse cx="313.8" cy="472.5" rx="0.8" ry="0.6" transform="rotate(114 313.8 472.5)" opacity="0.53"/><ellipse cx="271.1" cy="409.4" rx="1.0" ry="0.6" transform="rotate(4 271.1 409.4)" opacity="0.42"/><ellipse cx="315.0" cy="461.0" rx="1.5" ry="0.7" transform="rotate(146 315.0 461.0)" opacity="0.79"/><ellipse cx="306.5" cy="406.9" rx="1.2" ry="0.5" transform="rotate(122 306.5 406.9)" opacity="0.49"/><ellipse cx="272.3" cy="471.8" rx="1.2" ry="0.5" transform="rotate(94 272.3 471.8)" opacity="0.57"/><ellipse cx="313.1" cy="425.4" rx="0.9" ry="0.7" transform="rotate(22 313.1 425.4)" opacity="0.65"/><ellipse cx="313.6" cy="441.9" rx="0.9" ry="0.6" transform="rotate(96 313.6 441.9)" opacity="0.42"/><ellipse cx="230.5" cy="414.0" rx="0.9" ry="0.6" transform="rotate(52 230.5 414.0)" opacity="0.47"/><ellipse cx="226.9" cy="444.2" rx="1.4" ry="0.7" transform="rotate(103 226.9 444.2)" opacity="0.68"/><ellipse cx="238.2" cy="456.2" rx="1.1" ry="0.6" transform="rotate(110 238.2 456.2)" opacity="0.58"/><ellipse cx="249.1" cy="422.1" rx="0.8" ry="0.6" transform="rotate(69 249.1 422.1)" opacity="0.64"/><ellipse cx="219.3" cy="430.1" rx="1.5" ry="0.5" transform="rotate(100 219.3 430.1)" opacity="0.60"/><ellipse cx="246.6" cy="476.4" rx="0.9" ry="0.7" transform="rotate(29 246.6 476.4)" opacity="0.38"/><ellipse cx="305.1" cy="436.5" rx="0.7" ry="0.6" transform="rotate(79 305.1 436.5)" opacity="0.72"/><ellipse cx="229.0" cy="420.8" rx="1.6" ry="0.7" transform="rotate(28 229.0 420.8)" opacity="0.52"/><ellipse cx="253.3" cy="453.6" rx="1.2" ry="0.8" transform="rotate(148 253.3 453.6)" opacity="0.61"/><ellipse cx="291.9" cy="458.6" rx="1.4" ry="0.6" transform="rotate(141 291.9 458.6)" opacity="0.70"/><ellipse cx="309.5" cy="413.7" rx="1.5" ry="0.4" transform="rotate(138 309.5 413.7)" opacity="0.64"/><ellipse cx="267.8" cy="474.6" rx="1.2" ry="0.6" transform="rotate(141 267.8 474.6)" opacity="0.79"/><ellipse cx="278.8" cy="432.1" rx="1.1" ry="0.6" transform="rotate(130 278.8 432.1)" opacity="0.50"/><ellipse cx="257.1" cy="444.9" rx="1.0" ry="0.5" transform="rotate(142 257.1 444.9)" opacity="0.77"/><ellipse cx="268.0" cy="436.8" rx="0.8" ry="0.5" transform="rotate(26 268.0 436.8)" opacity="0.64"/><ellipse cx="276.2" cy="410.8" rx="1.5" ry="0.5" transform="rotate(152 276.2 410.8)" opacity="0.77"/><ellipse cx="313.9" cy="419.3" rx="1.0" ry="0.8" transform="rotate(2 313.9 419.3)" opacity="0.37"/><ellipse cx="274.5" cy="440.7" rx="1.5" ry="0.7" transform="rotate(97 274.5 440.7)" opacity="0.85"/><ellipse cx="269.8" cy="442.1" rx="1.3" ry="0.6" transform="rotate(64 269.8 442.1)" opacity="0.65"/><ellipse cx="253.2" cy="473.5" rx="1.3" ry="0.6" transform="rotate(18 253.2 473.5)" opacity="0.54"/><ellipse cx="258.1" cy="445.3" rx="1.2" ry="0.8" transform="rotate(174 258.1 445.3)" opacity="0.59"/><ellipse cx="262.1" cy="449.9" rx="1.6" ry="0.6" transform="rotate(95 262.1 449.9)" opacity="0.76"/><ellipse cx="235.2" cy="427.6" rx="1.6" ry="0.8" transform="rotate(92 235.2 427.6)" opacity="0.41"/><ellipse cx="307.5" cy="454.7" rx="1.4" ry="0.8" transform="rotate(160 307.5 454.7)" opacity="0.56"/><ellipse cx="233.7" cy="425.5" rx="1.1" ry="0.6" transform="rotate(34 233.7 425.5)" opacity="0.44"/><ellipse cx="281.0" cy="448.4" rx="1.0" ry="0.8" transform="rotate(115 281.0 448.4)" opacity="0.37"/><ellipse cx="259.2" cy="461.8" rx="0.9" ry="0.7" transform="rotate(1 259.2 461.8)" opacity="0.50"/><ellipse cx="302.2" cy="447.1" rx="1.3" ry="0.5" transform="rotate(90 302.2 447.1)" opacity="0.63"/><ellipse cx="244.7" cy="451.6" rx="1.1" ry="0.8" transform="rotate(103 244.7 451.6)" opacity="0.56"/><ellipse cx="230.2" cy="415.8" rx="1.4" ry="0.4" transform="rotate(18 230.2 415.8)" opacity="0.44"/><ellipse cx="270.3" cy="464.4" rx="1.2" ry="0.8" transform="rotate(11 270.3 464.4)" opacity="0.36"/><ellipse cx="295.1" cy="427.9" rx="1.3" ry="0.6" transform="rotate(30 295.1 427.9)" opacity="0.48"/><ellipse cx="228.0" cy="470.3" rx="1.2" ry="0.6" transform="rotate(81 228.0 470.3)" opacity="0.54"/><ellipse cx="223.6" cy="469.3" rx="1.2" ry="0.8" transform="rotate(79 223.6 469.3)" opacity="0.66"/><ellipse cx="243.0" cy="407.6" rx="1.5" ry="0.8" transform="rotate(57 243.0 407.6)" opacity="0.80"/><ellipse cx="299.6" cy="426.5" rx="1.2" ry="0.8" transform="rotate(89 299.6 426.5)" opacity="0.82"/><ellipse cx="242.4" cy="432.8" rx="1.3" ry="0.5" transform="rotate(56 242.4 432.8)" opacity="0.79"/><ellipse cx="266.5" cy="462.2" rx="0.8" ry="0.5" transform="rotate(65 266.5 462.2)" opacity="0.44"/><ellipse cx="315.2" cy="425.6" rx="1.2" ry="0.5" transform="rotate(96 315.2 425.6)" opacity="0.54"/><ellipse cx="258.4" cy="409.2" rx="0.7" ry="0.8" transform="rotate(63 258.4 409.2)" opacity="0.47"/><ellipse cx="237.2" cy="425.1" rx="0.8" ry="0.4" transform="rotate(120 237.2 425.1)" opacity="0.52"/><ellipse cx="233.7" cy="455.9" rx="0.7" ry="0.5" transform="rotate(150 233.7 455.9)" opacity="0.41"/><ellipse cx="262.4" cy="465.4" rx="1.4" ry="0.5" transform="rotate(64 262.4 465.4)" opacity="0.71"/><ellipse cx="255.8" cy="474.3" rx="0.8" ry="0.8" transform="rotate(91 255.8 474.3)" opacity="0.46"/><ellipse cx="263.3" cy="413.9" rx="1.3" ry="0.5" transform="rotate(162 263.3 413.9)" opacity="0.64"/><ellipse cx="254.9" cy="422.4" rx="1.2" ry="0.5" transform="rotate(157 254.9 422.4)" opacity="0.41"/><ellipse cx="269.4" cy="444.0" rx="0.9" ry="0.7" transform="rotate(69 269.4 444.0)" opacity="0.68"/><ellipse cx="274.8" cy="427.1" rx="1.0" ry="0.4" transform="rotate(32 274.8 427.1)" opacity="0.78"/><ellipse cx="250.2" cy="452.7" rx="0.7" ry="0.7" transform="rotate(65 250.2 452.7)" opacity="0.60"/><ellipse cx="247.8" cy="409.2" rx="0.9" ry="0.5" transform="rotate(23 247.8 409.2)" opacity="0.71"/><ellipse cx="246.3" cy="433.8" rx="1.5" ry="0.7" transform="rotate(159 246.3 433.8)" opacity="0.78"/><ellipse cx="231.3" cy="424.6" rx="0.6" ry="0.7" transform="rotate(119 231.3 424.6)" opacity="0.53"/><ellipse cx="259.3" cy="452.4" rx="1.3" ry="0.5" transform="rotate(152 259.3 452.4)" opacity="0.53"/><ellipse cx="280.9" cy="417.6" rx="0.7" ry="0.8" transform="rotate(132 280.9 417.6)" opacity="0.71"/><ellipse cx="222.1" cy="407.3" rx="0.8" ry="0.5" transform="rotate(55 222.1 407.3)" opacity="0.54"/><ellipse cx="222.0" cy="427.1" rx="1.2" ry="0.5" transform="rotate(151 222.0 427.1)" opacity="0.64"/><ellipse cx="289.7" cy="423.0" rx="1.0" ry="0.7" transform="rotate(63 289.7 423.0)" opacity="0.35"/><ellipse cx="301.4" cy="461.0" rx="0.9" ry="0.4" transform="rotate(154 301.4 461.0)" opacity="0.65"/><ellipse cx="222.8" cy="422.2" rx="0.7" ry="0.8" transform="rotate(38 222.8 422.2)" opacity="0.81"/><ellipse cx="293.0" cy="410.7" rx="1.3" ry="0.6" transform="rotate(135 293.0 410.7)" opacity="0.76"/><ellipse cx="246.2" cy="411.0" rx="1.5" ry="0.6" transform="rotate(167 246.2 411.0)" opacity="0.70"/><ellipse cx="291.9" cy="464.9" rx="1.2" ry="0.6" transform="rotate(10 291.9 464.9)" opacity="0.70"/><ellipse cx="260.9" cy="441.7" rx="1.5" ry="0.5" transform="rotate(137 260.9 441.7)" opacity="0.37"/><ellipse cx="288.3" cy="463.1" rx="0.9" ry="0.6" transform="rotate(174 288.3 463.1)" opacity="0.67"/><ellipse cx="272.4" cy="422.6" rx="0.7" ry="0.6" transform="rotate(74 272.4 422.6)" opacity="0.45"/><ellipse cx="249.1" cy="414.4" rx="1.3" ry="0.7" transform="rotate(43 249.1 414.4)" opacity="0.47"/><ellipse cx="269.6" cy="436.8" rx="1.5" ry="0.6" transform="rotate(54 269.6 436.8)" opacity="0.79"/><ellipse cx="232.3" cy="445.5" rx="0.9" ry="0.8" transform="rotate(99 232.3 445.5)" opacity="0.73"/><ellipse cx="235.0" cy="453.0" rx="1.2" ry="0.6" transform="rotate(138 235.0 453.0)" opacity="0.77"/><ellipse cx="229.5" cy="425.5" rx="1.0" ry="0.5" transform="rotate(11 229.5 425.5)" opacity="0.49"/><ellipse cx="237.8" cy="455.5" rx="1.0" ry="0.5" transform="rotate(58 237.8 455.5)" opacity="0.58"/><ellipse cx="254.4" cy="416.7" rx="0.7" ry="0.4" transform="rotate(179 254.4 416.7)" opacity="0.73"/><ellipse cx="226.5" cy="456.7" rx="1.6" ry="0.7" transform="rotate(20 226.5 456.7)" opacity="0.59"/><ellipse cx="261.5" cy="418.2" rx="1.1" ry="0.4" transform="rotate(166 261.5 418.2)" opacity="0.67"/><ellipse cx="280.8" cy="472.6" rx="1.3" ry="0.5" transform="rotate(44 280.8 472.6)" opacity="0.42"/><ellipse cx="220.9" cy="460.9" rx="1.4" ry="0.5" transform="rotate(33 220.9 460.9)" opacity="0.67"/><ellipse cx="302.6" cy="472.0" rx="0.8" ry="0.8" transform="rotate(149 302.6 472.0)" opacity="0.72"/><ellipse cx="250.7" cy="417.9" rx="1.4" ry="0.5" transform="rotate(66 250.7 417.9)" opacity="0.63"/><ellipse cx="255.0" cy="465.0" rx="0.8" ry="0.4" transform="rotate(102 255.0 465.0)" opacity="0.66"/><ellipse cx="300.0" cy="455.8" rx="1.5" ry="0.8" transform="rotate(89 300.0 455.8)" opacity="0.60"/><ellipse cx="233.8" cy="426.2" rx="1.2" ry="0.4" transform="rotate(124 233.8 426.2)" opacity="0.43"/><ellipse cx="262.4" cy="475.1" rx="0.7" ry="0.4" transform="rotate(79 262.4 475.1)" opacity="0.45"/><ellipse cx="290.3" cy="404.6" rx="1.4" ry="0.8" transform="rotate(142 290.3 404.6)" opacity="0.56"/><ellipse cx="246.4" cy="452.6" rx="1.1" ry="0.6" transform="rotate(61 246.4 452.6)" opacity="0.57"/><ellipse cx="284.6" cy="464.6" rx="1.5" ry="0.5" transform="rotate(53 284.6 464.6)" opacity="0.57"/><ellipse cx="274.4" cy="429.8" rx="0.8" ry="0.4" transform="rotate(58 274.4 429.8)" opacity="0.58"/><ellipse cx="315.1" cy="470.6" rx="1.5" ry="0.8" transform="rotate(173 315.1 470.6)" opacity="0.66"/><ellipse cx="299.1" cy="408.8" rx="1.3" ry="0.7" transform="rotate(53 299.1 408.8)" opacity="0.64"/><ellipse cx="313.3" cy="439.4" rx="1.2" ry="0.5" transform="rotate(62 313.3 439.4)" opacity="0.79"/><ellipse cx="220.9" cy="418.2" rx="1.3" ry="0.6" transform="rotate(15 220.9 418.2)" opacity="0.68"/><ellipse cx="255.3" cy="446.7" rx="1.0" ry="0.6" transform="rotate(102 255.3 446.7)" opacity="0.55"/><ellipse cx="229.5" cy="417.6" rx="1.5" ry="0.6" transform="rotate(20 229.5 417.6)" opacity="0.78"/><ellipse cx="243.4" cy="411.3" rx="1.1" ry="0.5" transform="rotate(88 243.4 411.3)" opacity="0.63"/><ellipse cx="240.7" cy="446.2" rx="0.7" ry="0.6" transform="rotate(106 240.7 446.2)" opacity="0.39"/><ellipse cx="258.9" cy="409.8" rx="1.0" ry="0.8" transform="rotate(99 258.9 409.8)" opacity="0.71"/><ellipse cx="293.7" cy="412.8" rx="1.6" ry="0.7" transform="rotate(18 293.7 412.8)" opacity="0.77"/><ellipse cx="257.3" cy="416.9" rx="1.6" ry="0.7" transform="rotate(139 257.3 416.9)" opacity="0.42"/><ellipse cx="295.6" cy="408.6" rx="0.8" ry="0.6" transform="rotate(3 295.6 408.6)" opacity="0.65"/><ellipse cx="239.4" cy="426.3" rx="1.3" ry="0.6" transform="rotate(160 239.4 426.3)" opacity="0.66"/><ellipse cx="305.2" cy="445.4" rx="1.5" ry="0.8" transform="rotate(30 305.2 445.4)" opacity="0.72"/><ellipse cx="252.2" cy="460.1" rx="1.3" ry="0.8" transform="rotate(22 252.2 460.1)" opacity="0.54"/><ellipse cx="291.8" cy="473.5" rx="1.3" ry="0.4" transform="rotate(109 291.8 473.5)" opacity="0.40"/><ellipse cx="272.9" cy="462.9" rx="0.7" ry="0.8" transform="rotate(122 272.9 462.9)" opacity="0.48"/><ellipse cx="237.4" cy="437.0" rx="1.4" ry="0.7" transform="rotate(20 237.4 437.0)" opacity="0.36"/><ellipse cx="229.1" cy="462.8" rx="0.8" ry="0.6" transform="rotate(52 229.1 462.8)" opacity="0.69"/><ellipse cx="256.1" cy="414.9" rx="1.5" ry="0.6" transform="rotate(124 256.1 414.9)" opacity="0.75"/><ellipse cx="312.9" cy="405.4" rx="0.9" ry="0.5" transform="rotate(90 312.9 405.4)" opacity="0.79"/><ellipse cx="298.1" cy="407.0" rx="0.8" ry="0.8" transform="rotate(122 298.1 407.0)" opacity="0.55"/><ellipse cx="265.6" cy="415.9" rx="1.4" ry="0.6" transform="rotate(157 265.6 415.9)" opacity="0.66"/><ellipse cx="225.7" cy="428.4" rx="0.8" ry="0.8" transform="rotate(106 225.7 428.4)" opacity="0.37"/><ellipse cx="235.1" cy="430.7" rx="1.1" ry="0.7" transform="rotate(70 235.1 430.7)" opacity="0.53"/><ellipse cx="218.7" cy="446.6" rx="0.9" ry="0.4" transform="rotate(83 218.7 446.6)" opacity="0.84"/><ellipse cx="222.6" cy="415.0" rx="1.3" ry="0.5" transform="rotate(49 222.6 415.0)" opacity="0.60"/><ellipse cx="244.3" cy="445.9" rx="1.1" ry="0.8" transform="rotate(179 244.3 445.9)" opacity="0.37"/><ellipse cx="274.1" cy="460.6" rx="1.5" ry="0.7" transform="rotate(114 274.1 460.6)" opacity="0.67"/><ellipse cx="254.4" cy="424.9" rx="1.4" ry="0.8" transform="rotate(169 254.4 424.9)" opacity="0.69"/><ellipse cx="248.5" cy="460.0" rx="1.3" ry="0.6" transform="rotate(114 248.5 460.0)" opacity="0.53"/><ellipse cx="273.1" cy="434.0" rx="0.7" ry="0.6" transform="rotate(58 273.1 434.0)" opacity="0.84"/><ellipse cx="266.2" cy="431.2" rx="0.8" ry="0.5" transform="rotate(63 266.2 431.2)" opacity="0.42"/><ellipse cx="218.8" cy="467.9" rx="1.1" ry="0.6" transform="rotate(102 218.8 467.9)" opacity="0.50"/><ellipse cx="235.0" cy="409.2" rx="0.9" ry="0.5" transform="rotate(131 235.0 409.2)" opacity="0.63"/><ellipse cx="311.7" cy="429.2" rx="1.5" ry="0.7" transform="rotate(14 311.7 429.2)" opacity="0.44"/><ellipse cx="276.1" cy="476.4" rx="1.0" ry="0.7" transform="rotate(77 276.1 476.4)" opacity="0.78"/><ellipse cx="224.9" cy="439.7" rx="1.5" ry="0.5" transform="rotate(46 224.9 439.7)" opacity="0.36"/><ellipse cx="234.5" cy="423.9" rx="1.3" ry="0.5" transform="rotate(72 234.5 423.9)" opacity="0.45"/><ellipse cx="278.3" cy="467.4" rx="1.2" ry="0.5" transform="rotate(132 278.3 467.4)" opacity="0.83"/><ellipse cx="278.1" cy="410.2" rx="1.4" ry="0.8" transform="rotate(61 278.1 410.2)" opacity="0.42"/><ellipse cx="236.9" cy="443.5" rx="1.5" ry="0.7" transform="rotate(166 236.9 443.5)" opacity="0.46"/><ellipse cx="250.7" cy="459.0" rx="1.2" ry="0.6" transform="rotate(122 250.7 459.0)" opacity="0.52"/><ellipse cx="223.8" cy="434.6" rx="0.6" ry="0.7" transform="rotate(60 223.8 434.6)" opacity="0.60"/><ellipse cx="277.8" cy="423.1" rx="1.1" ry="0.4" transform="rotate(167 277.8 423.1)" opacity="0.63"/><ellipse cx="316.8" cy="408.5" rx="1.2" ry="0.7" transform="rotate(59 316.8 408.5)" opacity="0.40"/><ellipse cx="233.7" cy="414.8" rx="1.4" ry="0.4" transform="rotate(147 233.7 414.8)" opacity="0.56"/><ellipse cx="271.9" cy="447.3" rx="1.2" ry="0.7" transform="rotate(108 271.9 447.3)" opacity="0.52"/><ellipse cx="292.1" cy="423.2" rx="1.3" ry="0.7" transform="rotate(140 292.1 423.2)" opacity="0.50"/><ellipse cx="295.3" cy="475.7" rx="1.1" ry="0.5" transform="rotate(94 295.3 475.7)" opacity="0.82"/><ellipse cx="231.3" cy="405.1" rx="1.1" ry="0.7" transform="rotate(139 231.3 405.1)" opacity="0.53"/><ellipse cx="317.0" cy="421.0" rx="1.4" ry="0.4" transform="rotate(5 317.0 421.0)" opacity="0.42"/></g>
<line x1="293.70" y1="471.40" x2="314.80" y2="471.40" stroke="#333" stroke-width="0.7" />
<text x="297.70" y="475.70" font-size="3.4" font-weight="normal" text-anchor="start" fill="#222" font-family="Liberation Sans" textLength="10.3" lengthAdjust="spacingAndGlyphs">500 μm</text>
<rect x="319.40" y="403.40" width="102.60" height="74.90" fill="#ecf0ef" stroke="none" stroke-width="1" />
<g fill="#7682d4" filter="url(#bl1)"><ellipse cx="326.5" cy="441.0" rx="1.2" ry="0.5" transform="rotate(169 326.5 441.0)" opacity="0.53"/><ellipse cx="335.4" cy="417.3" rx="1.3" ry="0.8" transform="rotate(29 335.4 417.3)" opacity="0.36"/><ellipse cx="398.7" cy="422.1" rx="1.6" ry="0.6" transform="rotate(115 398.7 422.1)" opacity="0.52"/><ellipse cx="400.9" cy="437.9" rx="0.9" ry="0.8" transform="rotate(19 400.9 437.9)" opacity="0.72"/><ellipse cx="327.0" cy="451.5" rx="1.0" ry="0.8" transform="rotate(11 327.0 451.5)" opacity="0.63"/><ellipse cx="361.6" cy="471.4" rx="1.5" ry="0.7" transform="rotate(40 361.6 471.4)" opacity="0.48"/><ellipse cx="346.8" cy="436.0" rx="0.8" ry="0.5" transform="rotate(137 346.8 436.0)" opacity="0.67"/><ellipse cx="350.4" cy="476.9" rx="0.8" ry="0.7" transform="rotate(28 350.4 476.9)" opacity="0.78"/><ellipse cx="407.8" cy="423.9" rx="1.4" ry="0.8" transform="rotate(51 407.8 423.9)" opacity="0.52"/><ellipse cx="369.2" cy="469.4" rx="0.8" ry="0.7" transform="rotate(108 369.2 469.4)" opacity="0.58"/><ellipse cx="378.7" cy="468.8" rx="0.8" ry="0.8" transform="rotate(65 378.7 468.8)" opacity="0.74"/><ellipse cx="407.3" cy="417.7" rx="1.5" ry="0.8" transform="rotate(54 407.3 417.7)" opacity="0.36"/><ellipse cx="331.6" cy="475.4" rx="0.6" ry="0.8" transform="rotate(27 331.6 475.4)" opacity="0.72"/><ellipse cx="330.2" cy="416.7" rx="1.3" ry="0.4" transform="rotate(61 330.2 416.7)" opacity="0.81"/><ellipse cx="392.5" cy="468.7" rx="1.6" ry="0.4" transform="rotate(42 392.5 468.7)" opacity="0.75"/><ellipse cx="389.8" cy="407.2" rx="1.1" ry="0.5" transform="rotate(77 389.8 407.2)" opacity="0.40"/><ellipse cx="322.4" cy="476.6" rx="0.9" ry="0.8" transform="rotate(22 322.4 476.6)" opacity="0.59"/><ellipse cx="334.1" cy="435.6" rx="0.8" ry="0.7" transform="rotate(27 334.1 435.6)" opacity="0.72"/><ellipse cx="370.8" cy="412.6" rx="1.0" ry="0.6" transform="rotate(165 370.8 412.6)" opacity="0.52"/><ellipse cx="342.0" cy="474.9" rx="1.5" ry="0.7" transform="rotate(49 342.0 474.9)" opacity="0.44"/><ellipse cx="347.0" cy="409.4" rx="0.6" ry="0.6" transform="rotate(73 347.0 409.4)" opacity="0.63"/><ellipse cx="356.9" cy="405.2" rx="1.3" ry="0.7" transform="rotate(98 356.9 405.2)" opacity="0.62"/><ellipse cx="389.8" cy="476.0" rx="1.5" ry="0.7" transform="rotate(72 389.8 476.0)" opacity="0.51"/><ellipse cx="362.6" cy="475.3" rx="1.0" ry="0.6" transform="rotate(74 362.6 475.3)" opacity="0.42"/><ellipse cx="420.8" cy="404.8" rx="1.2" ry="0.8" transform="rotate(46 420.8 404.8)" opacity="0.66"/><ellipse cx="358.3" cy="422.0" rx="0.8" ry="0.5" transform="rotate(152 358.3 422.0)" opacity="0.74"/><ellipse cx="411.8" cy="408.0" rx="1.3" ry="0.5" transform="rotate(116 411.8 408.0)" opacity="0.62"/><ellipse cx="352.2" cy="475.2" rx="0.6" ry="0.7" transform="rotate(154 352.2 475.2)" opacity="0.61"/><ellipse cx="380.0" cy="476.9" rx="0.8" ry="0.7" transform="rotate(134 380.0 476.9)" opacity="0.54"/><ellipse cx="392.0" cy="433.1" rx="1.1" ry="0.7" transform="rotate(122 392.0 433.1)" opacity="0.51"/><ellipse cx="383.7" cy="444.0" rx="0.8" ry="0.7" transform="rotate(48 383.7 444.0)" opacity="0.80"/><ellipse cx="368.0" cy="457.0" rx="1.1" ry="0.6" transform="rotate(40 368.0 457.0)" opacity="0.42"/><ellipse cx="413.7" cy="442.9" rx="1.1" ry="0.6" transform="rotate(146 413.7 442.9)" opacity="0.47"/><ellipse cx="337.7" cy="464.3" rx="1.1" ry="0.7" transform="rotate(149 337.7 464.3)" opacity="0.80"/><ellipse cx="407.7" cy="407.6" rx="1.0" ry="0.8" transform="rotate(147 407.7 407.6)" opacity="0.41"/><ellipse cx="335.9" cy="422.7" rx="0.7" ry="0.6" transform="rotate(145 335.9 422.7)" opacity="0.61"/><ellipse cx="366.0" cy="410.8" rx="1.0" ry="0.8" transform="rotate(125 366.0 410.8)" opacity="0.57"/><ellipse cx="368.5" cy="462.6" rx="1.4" ry="0.5" transform="rotate(122 368.5 462.6)" opacity="0.53"/><ellipse cx="372.8" cy="421.7" rx="1.0" ry="0.6" transform="rotate(69 372.8 421.7)" opacity="0.36"/><ellipse cx="340.6" cy="446.0" rx="0.7" ry="0.5" transform="rotate(129 340.6 446.0)" opacity="0.49"/><ellipse cx="353.0" cy="422.0" rx="1.4" ry="0.4" transform="rotate(115 353.0 422.0)" opacity="0.78"/><ellipse cx="340.7" cy="435.2" rx="1.4" ry="0.7" transform="rotate(67 340.7 435.2)" opacity="0.37"/><ellipse cx="364.9" cy="431.2" rx="1.3" ry="0.5" transform="rotate(73 364.9 431.2)" opacity="0.67"/><ellipse cx="402.0" cy="430.1" rx="1.0" ry="0.7" transform="rotate(166 402.0 430.1)" opacity="0.45"/><ellipse cx="418.1" cy="456.3" rx="1.0" ry="0.7" transform="rotate(59 418.1 456.3)" opacity="0.39"/><ellipse cx="396.5" cy="432.1" rx="1.1" ry="0.6" transform="rotate(162 396.5 432.1)" opacity="0.73"/><ellipse cx="323.0" cy="447.6" rx="1.1" ry="0.6" transform="rotate(151 323.0 447.6)" opacity="0.56"/><ellipse cx="368.0" cy="469.3" rx="1.0" ry="0.6" transform="rotate(92 368.0 469.3)" opacity="0.76"/><ellipse cx="387.8" cy="458.4" rx="1.0" ry="0.4" transform="rotate(122 387.8 458.4)" opacity="0.63"/><ellipse cx="397.8" cy="460.5" rx="0.7" ry="0.5" transform="rotate(14 397.8 460.5)" opacity="0.76"/><ellipse cx="330.6" cy="410.8" rx="1.4" ry="0.7" transform="rotate(10 330.6 410.8)" opacity="0.69"/><ellipse cx="391.9" cy="439.6" rx="0.7" ry="0.7" transform="rotate(75 391.9 439.6)" opacity="0.64"/><ellipse cx="420.8" cy="463.9" rx="1.5" ry="0.5" transform="rotate(60 420.8 463.9)" opacity="0.61"/><ellipse cx="321.0" cy="476.5" rx="0.9" ry="0.5" transform="rotate(56 321.0 476.5)" opacity="0.48"/><ellipse cx="406.8" cy="444.9" rx="1.1" ry="0.6" transform="rotate(9 406.8 444.9)" opacity="0.50"/><ellipse cx="407.6" cy="462.9" rx="1.5" ry="0.5" transform="rotate(36 407.6 462.9)" opacity="0.38"/><ellipse cx="374.4" cy="431.7" rx="1.1" ry="0.6" transform="rotate(105 374.4 431.7)" opacity="0.53"/><ellipse cx="401.0" cy="419.0" rx="1.5" ry="0.7" transform="rotate(9 401.0 419.0)" opacity="0.51"/><ellipse cx="374.0" cy="434.2" rx="1.2" ry="0.5" transform="rotate(49 374.0 434.2)" opacity="0.75"/><ellipse cx="349.7" cy="456.2" rx="1.4" ry="0.7" transform="rotate(82 349.7 456.2)" opacity="0.82"/><ellipse cx="365.2" cy="468.4" rx="0.7" ry="0.6" transform="rotate(115 365.2 468.4)" opacity="0.37"/><ellipse cx="407.2" cy="409.6" rx="1.2" ry="0.5" transform="rotate(166 407.2 409.6)" opacity="0.63"/><ellipse cx="401.0" cy="440.7" rx="1.3" ry="0.7" transform="rotate(53 401.0 440.7)" opacity="0.46"/><ellipse cx="404.7" cy="415.0" rx="1.5" ry="0.5" transform="rotate(18 404.7 415.0)" opacity="0.40"/><ellipse cx="399.3" cy="473.7" rx="1.0" ry="0.7" transform="rotate(46 399.3 473.7)" opacity="0.80"/><ellipse cx="389.4" cy="415.7" rx="0.7" ry="0.7" transform="rotate(8 389.4 415.7)" opacity="0.77"/><ellipse cx="349.9" cy="421.4" rx="1.2" ry="0.5" transform="rotate(101 349.9 421.4)" opacity="0.43"/><ellipse cx="412.1" cy="428.0" rx="1.4" ry="0.5" transform="rotate(144 412.1 428.0)" opacity="0.84"/><ellipse cx="359.8" cy="406.8" rx="1.0" ry="0.7" transform="rotate(40 359.8 406.8)" opacity="0.62"/><ellipse cx="329.8" cy="438.3" rx="1.3" ry="0.6" transform="rotate(122 329.8 438.3)" opacity="0.41"/><ellipse cx="403.7" cy="413.3" rx="1.5" ry="0.8" transform="rotate(169 403.7 413.3)" opacity="0.61"/><ellipse cx="349.7" cy="429.8" rx="1.4" ry="0.6" transform="rotate(167 349.7 429.8)" opacity="0.40"/><ellipse cx="369.2" cy="467.4" rx="1.2" ry="0.6" transform="rotate(16 369.2 467.4)" opacity="0.42"/><ellipse cx="347.7" cy="469.5" rx="1.4" ry="0.5" transform="rotate(166 347.7 469.5)" opacity="0.37"/><ellipse cx="380.6" cy="474.9" rx="0.9" ry="0.8" transform="rotate(118 380.6 474.9)" opacity="0.38"/><ellipse cx="353.9" cy="437.2" rx="0.8" ry="0.7" transform="rotate(32 353.9 437.2)" opacity="0.74"/><ellipse cx="350.4" cy="409.5" rx="1.2" ry="0.4" transform="rotate(99 350.4 409.5)" opacity="0.74"/><ellipse cx="380.3" cy="438.0" rx="0.6" ry="0.6" transform="rotate(18 380.3 438.0)" opacity="0.67"/><ellipse cx="333.7" cy="446.5" rx="1.0" ry="0.6" transform="rotate(119 333.7 446.5)" opacity="0.43"/><ellipse cx="337.5" cy="473.0" rx="0.9" ry="0.8" transform="rotate(157 337.5 473.0)" opacity="0.59"/><ellipse cx="335.4" cy="411.3" rx="1.5" ry="0.5" transform="rotate(89 335.4 411.3)" opacity="0.62"/><ellipse cx="332.2" cy="438.5" rx="0.8" ry="0.6" transform="rotate(91 332.2 438.5)" opacity="0.53"/><ellipse cx="340.3" cy="433.8" rx="0.8" ry="0.5" transform="rotate(43 340.3 433.8)" opacity="0.79"/><ellipse cx="370.9" cy="469.3" rx="0.6" ry="0.8" transform="rotate(88 370.9 469.3)" opacity="0.75"/><ellipse cx="377.8" cy="454.6" rx="0.8" ry="0.7" transform="rotate(28 377.8 454.6)" opacity="0.48"/><ellipse cx="323.5" cy="433.1" rx="1.1" ry="0.5" transform="rotate(160 323.5 433.1)" opacity="0.39"/><ellipse cx="378.6" cy="421.5" rx="1.2" ry="0.8" transform="rotate(128 378.6 421.5)" opacity="0.38"/><ellipse cx="345.1" cy="448.1" rx="1.6" ry="0.4" transform="rotate(111 345.1 448.1)" opacity="0.70"/><ellipse cx="402.4" cy="429.3" rx="1.4" ry="0.6" transform="rotate(166 402.4 429.3)" opacity="0.36"/><ellipse cx="415.0" cy="434.4" rx="1.0" ry="0.4" transform="rotate(44 415.0 434.4)" opacity="0.72"/><ellipse cx="388.7" cy="415.4" rx="0.9" ry="0.5" transform="rotate(36 388.7 415.4)" opacity="0.46"/><ellipse cx="353.7" cy="475.5" rx="1.6" ry="0.8" transform="rotate(86 353.7 475.5)" opacity="0.60"/><ellipse cx="398.8" cy="470.6" rx="1.4" ry="0.7" transform="rotate(36 398.8 470.6)" opacity="0.66"/><ellipse cx="405.5" cy="461.7" rx="0.7" ry="0.7" transform="rotate(63 405.5 461.7)" opacity="0.43"/><ellipse cx="417.6" cy="453.4" rx="1.3" ry="0.5" transform="rotate(149 417.6 453.4)" opacity="0.82"/><ellipse cx="411.4" cy="458.7" rx="1.4" ry="0.8" transform="rotate(106 411.4 458.7)" opacity="0.57"/><ellipse cx="403.4" cy="461.6" rx="1.5" ry="0.5" transform="rotate(173 403.4 461.6)" opacity="0.62"/><ellipse cx="415.6" cy="412.8" rx="1.6" ry="0.8" transform="rotate(45 415.6 412.8)" opacity="0.77"/><ellipse cx="343.7" cy="418.8" rx="1.1" ry="0.5" transform="rotate(89 343.7 418.8)" opacity="0.80"/><ellipse cx="389.3" cy="456.2" rx="1.0" ry="0.8" transform="rotate(143 389.3 456.2)" opacity="0.69"/><ellipse cx="415.1" cy="464.6" rx="1.0" ry="0.4" transform="rotate(117 415.1 464.6)" opacity="0.77"/><ellipse cx="354.6" cy="447.8" rx="1.4" ry="0.8" transform="rotate(1 354.6 447.8)" opacity="0.59"/><ellipse cx="322.0" cy="412.5" rx="1.4" ry="0.6" transform="rotate(109 322.0 412.5)" opacity="0.58"/><ellipse cx="354.1" cy="420.0" rx="1.0" ry="0.8" transform="rotate(111 354.1 420.0)" opacity="0.50"/><ellipse cx="329.3" cy="424.2" rx="1.3" ry="0.6" transform="rotate(119 329.3 424.2)" opacity="0.75"/><ellipse cx="332.5" cy="454.2" rx="0.6" ry="0.8" transform="rotate(33 332.5 454.2)" opacity="0.49"/><ellipse cx="416.7" cy="430.8" rx="0.8" ry="0.8" transform="rotate(110 416.7 430.8)" opacity="0.80"/><ellipse cx="360.1" cy="440.8" rx="1.6" ry="0.6" transform="rotate(178 360.1 440.8)" opacity="0.44"/><ellipse cx="404.0" cy="416.2" rx="1.1" ry="0.4" transform="rotate(32 404.0 416.2)" opacity="0.82"/><ellipse cx="366.1" cy="463.4" rx="0.9" ry="0.6" transform="rotate(18 366.1 463.4)" opacity="0.63"/><ellipse cx="407.1" cy="441.9" rx="1.0" ry="0.8" transform="rotate(161 407.1 441.9)" opacity="0.68"/><ellipse cx="328.0" cy="449.9" rx="1.0" ry="0.8" transform="rotate(65 328.0 449.9)" opacity="0.68"/><ellipse cx="384.0" cy="431.8" rx="1.1" ry="0.7" transform="rotate(163 384.0 431.8)" opacity="0.60"/><ellipse cx="357.0" cy="475.6" rx="0.7" ry="0.8" transform="rotate(123 357.0 475.6)" opacity="0.63"/><ellipse cx="365.4" cy="459.2" rx="1.5" ry="0.7" transform="rotate(135 365.4 459.2)" opacity="0.37"/><ellipse cx="353.1" cy="414.4" rx="1.6" ry="0.8" transform="rotate(26 353.1 414.4)" opacity="0.64"/><ellipse cx="378.4" cy="407.8" rx="1.0" ry="0.7" transform="rotate(115 378.4 407.8)" opacity="0.49"/><ellipse cx="397.1" cy="425.6" rx="1.1" ry="0.6" transform="rotate(176 397.1 425.6)" opacity="0.67"/><ellipse cx="401.4" cy="453.7" rx="1.0" ry="0.8" transform="rotate(128 401.4 453.7)" opacity="0.70"/><ellipse cx="348.3" cy="416.2" rx="1.2" ry="0.8" transform="rotate(143 348.3 416.2)" opacity="0.52"/><ellipse cx="334.5" cy="442.0" rx="1.5" ry="0.5" transform="rotate(133 334.5 442.0)" opacity="0.44"/><ellipse cx="351.8" cy="408.3" rx="0.9" ry="0.6" transform="rotate(174 351.8 408.3)" opacity="0.83"/><ellipse cx="339.2" cy="427.0" rx="1.5" ry="0.5" transform="rotate(58 339.2 427.0)" opacity="0.57"/><ellipse cx="331.3" cy="423.4" rx="1.0" ry="0.6" transform="rotate(173 331.3 423.4)" opacity="0.48"/><ellipse cx="340.9" cy="470.6" rx="1.1" ry="0.8" transform="rotate(115 340.9 470.6)" opacity="0.74"/><ellipse cx="352.1" cy="415.5" rx="1.4" ry="0.6" transform="rotate(101 352.1 415.5)" opacity="0.69"/><ellipse cx="396.1" cy="424.5" rx="1.0" ry="0.8" transform="rotate(95 396.1 424.5)" opacity="0.49"/><ellipse cx="383.8" cy="423.3" rx="1.4" ry="0.4" transform="rotate(149 383.8 423.3)" opacity="0.63"/><ellipse cx="356.0" cy="472.9" rx="0.9" ry="0.5" transform="rotate(13 356.0 472.9)" opacity="0.62"/><ellipse cx="396.2" cy="453.8" rx="1.0" ry="0.8" transform="rotate(20 396.2 453.8)" opacity="0.50"/><ellipse cx="385.3" cy="474.9" rx="1.2" ry="0.7" transform="rotate(139 385.3 474.9)" opacity="0.55"/><ellipse cx="415.0" cy="458.5" rx="0.9" ry="0.6" transform="rotate(145 415.0 458.5)" opacity="0.52"/><ellipse cx="339.1" cy="467.9" rx="1.1" ry="0.6" transform="rotate(120 339.1 467.9)" opacity="0.80"/><ellipse cx="333.8" cy="429.1" rx="0.7" ry="0.6" transform="rotate(90 333.8 429.1)" opacity="0.78"/><ellipse cx="387.6" cy="446.5" rx="1.0" ry="0.7" transform="rotate(49 387.6 446.5)" opacity="0.77"/><ellipse cx="399.7" cy="465.5" rx="0.8" ry="0.7" transform="rotate(136 399.7 465.5)" opacity="0.60"/><ellipse cx="410.8" cy="469.9" rx="1.3" ry="0.8" transform="rotate(117 410.8 469.9)" opacity="0.79"/><ellipse cx="333.6" cy="455.7" rx="1.3" ry="0.7" transform="rotate(50 333.6 455.7)" opacity="0.38"/><ellipse cx="381.1" cy="464.5" rx="0.9" ry="0.5" transform="rotate(40 381.1 464.5)" opacity="0.40"/><ellipse cx="388.4" cy="475.5" rx="1.4" ry="0.6" transform="rotate(126 388.4 475.5)" opacity="0.39"/><ellipse cx="404.8" cy="428.1" rx="0.6" ry="0.7" transform="rotate(25 404.8 428.1)" opacity="0.49"/><ellipse cx="326.3" cy="436.9" rx="1.2" ry="0.8" transform="rotate(7 326.3 436.9)" opacity="0.76"/><ellipse cx="331.5" cy="420.8" rx="1.2" ry="0.6" transform="rotate(60 331.5 420.8)" opacity="0.63"/><ellipse cx="342.3" cy="462.2" rx="0.8" ry="0.8" transform="rotate(146 342.3 462.2)" opacity="0.62"/><ellipse cx="323.5" cy="461.1" rx="0.6" ry="0.6" transform="rotate(76 323.5 461.1)" opacity="0.38"/><ellipse cx="383.8" cy="457.2" rx="1.2" ry="0.6" transform="rotate(92 383.8 457.2)" opacity="0.64"/><ellipse cx="343.2" cy="467.7" rx="1.6" ry="0.8" transform="rotate(173 343.2 467.7)" opacity="0.51"/><ellipse cx="419.6" cy="409.6" rx="1.1" ry="0.5" transform="rotate(82 419.6 409.6)" opacity="0.69"/><ellipse cx="391.7" cy="437.5" rx="0.9" ry="0.5" transform="rotate(73 391.7 437.5)" opacity="0.49"/><ellipse cx="339.9" cy="458.1" rx="1.1" ry="0.6" transform="rotate(36 339.9 458.1)" opacity="0.70"/><ellipse cx="340.2" cy="423.8" rx="1.2" ry="0.7" transform="rotate(175 340.2 423.8)" opacity="0.72"/><ellipse cx="415.8" cy="471.5" rx="1.3" ry="0.7" transform="rotate(11 415.8 471.5)" opacity="0.45"/><ellipse cx="321.7" cy="467.4" rx="1.3" ry="0.7" transform="rotate(47 321.7 467.4)" opacity="0.53"/><ellipse cx="336.9" cy="450.5" rx="1.6" ry="0.5" transform="rotate(8 336.9 450.5)" opacity="0.44"/><ellipse cx="356.1" cy="469.9" rx="1.4" ry="0.6" transform="rotate(18 356.1 469.9)" opacity="0.40"/><ellipse cx="335.9" cy="461.1" rx="1.1" ry="0.8" transform="rotate(164 335.9 461.1)" opacity="0.75"/><ellipse cx="368.3" cy="464.3" rx="0.7" ry="0.4" transform="rotate(101 368.3 464.3)" opacity="0.60"/><ellipse cx="341.5" cy="422.8" rx="0.6" ry="0.8" transform="rotate(128 341.5 422.8)" opacity="0.82"/><ellipse cx="419.0" cy="436.2" rx="1.3" ry="0.6" transform="rotate(146 419.0 436.2)" opacity="0.77"/><ellipse cx="333.9" cy="405.3" rx="0.8" ry="0.7" transform="rotate(68 333.9 405.3)" opacity="0.35"/><ellipse cx="403.9" cy="461.7" rx="1.1" ry="0.4" transform="rotate(160 403.9 461.7)" opacity="0.62"/><ellipse cx="327.5" cy="428.0" rx="1.2" ry="0.8" transform="rotate(87 327.5 428.0)" opacity="0.67"/><ellipse cx="341.1" cy="422.1" rx="1.5" ry="0.6" transform="rotate(19 341.1 422.1)" opacity="0.65"/><ellipse cx="333.1" cy="419.0" rx="1.1" ry="0.7" transform="rotate(115 333.1 419.0)" opacity="0.70"/><ellipse cx="364.6" cy="409.3" rx="1.3" ry="0.4" transform="rotate(85 364.6 409.3)" opacity="0.55"/></g>
<line x1="396.70" y1="471.40" x2="417.80" y2="471.40" stroke="#333" stroke-width="0.7" />
<text x="400.70" y="475.70" font-size="3.4" font-weight="normal" text-anchor="start" fill="#222" font-family="Liberation Sans" textLength="10.3" lengthAdjust="spacingAndGlyphs">500 μm</text>
<rect x="422.40" y="403.40" width="101.30" height="74.90" fill="#eaefef" stroke="none" stroke-width="1" />
<g fill="#7682d4" filter="url(#bl1)"><ellipse cx="490.2" cy="456.4" rx="0.8" ry="0.7" transform="rotate(125 490.2 456.4)" opacity="0.59"/><ellipse cx="437.5" cy="470.7" rx="1.2" ry="0.4" transform="rotate(43 437.5 470.7)" opacity="0.84"/><ellipse cx="446.1" cy="433.0" rx="1.4" ry="0.8" transform="rotate(114 446.1 433.0)" opacity="0.72"/><ellipse cx="427.2" cy="411.2" rx="1.6" ry="0.8" transform="rotate(7 427.2 411.2)" opacity="0.37"/><ellipse cx="447.3" cy="472.2" rx="0.8" ry="0.7" transform="rotate(167 447.3 472.2)" opacity="0.67"/><ellipse cx="514.7" cy="423.6" rx="0.8" ry="0.4" transform="rotate(136 514.7 423.6)" opacity="0.40"/><ellipse cx="520.0" cy="456.2" rx="0.8" ry="0.8" transform="rotate(29 520.0 456.2)" opacity="0.61"/><ellipse cx="433.9" cy="461.8" rx="1.5" ry="0.8" transform="rotate(0 433.9 461.8)" opacity="0.78"/><ellipse cx="478.6" cy="464.3" rx="1.1" ry="0.7" transform="rotate(107 478.6 464.3)" opacity="0.75"/><ellipse cx="431.1" cy="408.4" rx="1.1" ry="0.5" transform="rotate(71 431.1 408.4)" opacity="0.35"/><ellipse cx="497.4" cy="406.2" rx="1.4" ry="0.8" transform="rotate(82 497.4 406.2)" opacity="0.41"/><ellipse cx="488.0" cy="419.5" rx="1.0" ry="0.4" transform="rotate(176 488.0 419.5)" opacity="0.62"/><ellipse cx="458.4" cy="411.3" rx="1.3" ry="0.8" transform="rotate(153 458.4 411.3)" opacity="0.40"/><ellipse cx="459.9" cy="426.5" rx="1.4" ry="0.5" transform="rotate(109 459.9 426.5)" opacity="0.84"/><ellipse cx="499.7" cy="404.9" rx="0.7" ry="0.5" transform="rotate(125 499.7 404.9)" opacity="0.65"/><ellipse cx="475.0" cy="437.6" rx="1.0" ry="0.7" transform="rotate(117 475.0 437.6)" opacity="0.81"/><ellipse cx="496.2" cy="462.5" rx="1.5" ry="0.8" transform="rotate(129 496.2 462.5)" opacity="0.37"/><ellipse cx="491.0" cy="466.4" rx="1.0" ry="0.8" transform="rotate(32 491.0 466.4)" opacity="0.82"/><ellipse cx="467.3" cy="455.9" rx="0.9" ry="0.5" transform="rotate(63 467.3 455.9)" opacity="0.51"/><ellipse cx="432.8" cy="436.7" rx="1.6" ry="0.7" transform="rotate(168 432.8 436.7)" opacity="0.73"/><ellipse cx="506.5" cy="476.9" rx="1.4" ry="0.5" transform="rotate(45 506.5 476.9)" opacity="0.56"/><ellipse cx="425.5" cy="421.2" rx="1.5" ry="0.8" transform="rotate(59 425.5 421.2)" opacity="0.74"/><ellipse cx="500.4" cy="469.3" rx="1.4" ry="0.6" transform="rotate(19 500.4 469.3)" opacity="0.76"/><ellipse cx="454.5" cy="450.1" rx="1.0" ry="0.6" transform="rotate(174 454.5 450.1)" opacity="0.43"/><ellipse cx="476.1" cy="451.8" rx="1.1" ry="0.8" transform="rotate(73 476.1 451.8)" opacity="0.81"/><ellipse cx="491.9" cy="474.9" rx="0.7" ry="0.5" transform="rotate(52 491.9 474.9)" opacity="0.80"/><ellipse cx="424.8" cy="423.4" rx="1.3" ry="0.8" transform="rotate(32 424.8 423.4)" opacity="0.57"/><ellipse cx="491.6" cy="454.7" rx="1.3" ry="0.7" transform="rotate(45 491.6 454.7)" opacity="0.48"/><ellipse cx="426.1" cy="454.8" rx="0.8" ry="0.5" transform="rotate(174 426.1 454.8)" opacity="0.67"/><ellipse cx="482.1" cy="452.2" rx="1.2" ry="0.7" transform="rotate(55 482.1 452.2)" opacity="0.38"/><ellipse cx="430.0" cy="405.5" rx="1.0" ry="0.5" transform="rotate(20 430.0 405.5)" opacity="0.60"/><ellipse cx="519.7" cy="454.5" rx="0.9" ry="0.7" transform="rotate(32 519.7 454.5)" opacity="0.40"/><ellipse cx="453.5" cy="434.2" rx="1.3" ry="0.6" transform="rotate(131 453.5 434.2)" opacity="0.40"/><ellipse cx="516.0" cy="429.4" rx="1.4" ry="0.4" transform="rotate(149 516.0 429.4)" opacity="0.46"/><ellipse cx="508.3" cy="462.9" rx="1.3" ry="0.5" transform="rotate(2 508.3 462.9)" opacity="0.44"/><ellipse cx="513.3" cy="415.9" rx="1.3" ry="0.7" transform="rotate(119 513.3 415.9)" opacity="0.44"/><ellipse cx="437.7" cy="411.5" rx="1.6" ry="0.6" transform="rotate(117 437.7 411.5)" opacity="0.63"/><ellipse cx="445.6" cy="409.1" rx="0.6" ry="0.8" transform="rotate(23 445.6 409.1)" opacity="0.83"/><ellipse cx="459.5" cy="457.1" rx="0.7" ry="0.8" transform="rotate(45 459.5 457.1)" opacity="0.53"/><ellipse cx="475.3" cy="412.5" rx="0.8" ry="0.8" transform="rotate(51 475.3 412.5)" opacity="0.54"/><ellipse cx="499.3" cy="420.7" rx="0.8" ry="0.5" transform="rotate(69 499.3 420.7)" opacity="0.53"/><ellipse cx="487.1" cy="438.8" rx="1.5" ry="0.4" transform="rotate(119 487.1 438.8)" opacity="0.77"/><ellipse cx="446.7" cy="406.5" rx="1.0" ry="0.5" transform="rotate(83 446.7 406.5)" opacity="0.71"/><ellipse cx="432.7" cy="413.0" rx="1.1" ry="0.5" transform="rotate(42 432.7 413.0)" opacity="0.57"/><ellipse cx="435.1" cy="409.4" rx="1.0" ry="0.6" transform="rotate(169 435.1 409.4)" opacity="0.63"/><ellipse cx="430.5" cy="420.6" rx="1.3" ry="0.7" transform="rotate(157 430.5 420.6)" opacity="0.83"/><ellipse cx="508.6" cy="412.4" rx="1.5" ry="0.6" transform="rotate(43 508.6 412.4)" opacity="0.44"/><ellipse cx="509.3" cy="419.9" rx="0.7" ry="0.5" transform="rotate(166 509.3 419.9)" opacity="0.58"/><ellipse cx="496.0" cy="409.8" rx="1.1" ry="0.5" transform="rotate(37 496.0 409.8)" opacity="0.68"/><ellipse cx="459.3" cy="413.1" rx="1.6" ry="0.6" transform="rotate(32 459.3 413.1)" opacity="0.36"/><ellipse cx="488.2" cy="441.9" rx="0.6" ry="0.6" transform="rotate(133 488.2 441.9)" opacity="0.62"/><ellipse cx="446.6" cy="440.8" rx="1.2" ry="0.7" transform="rotate(26 446.6 440.8)" opacity="0.75"/><ellipse cx="517.3" cy="458.4" rx="1.5" ry="0.6" transform="rotate(162 517.3 458.4)" opacity="0.44"/><ellipse cx="445.9" cy="448.0" rx="1.5" ry="0.4" transform="rotate(39 445.9 448.0)" opacity="0.37"/><ellipse cx="467.0" cy="414.6" rx="0.8" ry="0.7" transform="rotate(105 467.0 414.6)" opacity="0.82"/><ellipse cx="463.3" cy="453.9" rx="0.6" ry="0.8" transform="rotate(42 463.3 453.9)" opacity="0.59"/><ellipse cx="474.2" cy="473.5" rx="1.1" ry="0.8" transform="rotate(112 474.2 473.5)" opacity="0.46"/><ellipse cx="506.2" cy="419.1" rx="1.6" ry="0.6" transform="rotate(41 506.2 419.1)" opacity="0.83"/><ellipse cx="455.4" cy="434.1" rx="0.9" ry="0.7" transform="rotate(4 455.4 434.1)" opacity="0.54"/><ellipse cx="439.5" cy="464.8" rx="0.6" ry="0.7" transform="rotate(46 439.5 464.8)" opacity="0.58"/><ellipse cx="479.2" cy="456.3" rx="0.7" ry="0.5" transform="rotate(22 479.2 456.3)" opacity="0.83"/><ellipse cx="438.2" cy="414.4" rx="1.1" ry="0.7" transform="rotate(160 438.2 414.4)" opacity="0.38"/><ellipse cx="446.7" cy="416.6" rx="1.2" ry="0.6" transform="rotate(74 446.7 416.6)" opacity="0.79"/><ellipse cx="489.1" cy="467.1" rx="1.6" ry="0.5" transform="rotate(170 489.1 467.1)" opacity="0.55"/><ellipse cx="428.5" cy="471.1" rx="0.7" ry="0.4" transform="rotate(52 428.5 471.1)" opacity="0.49"/><ellipse cx="519.4" cy="467.9" rx="1.0" ry="0.6" transform="rotate(153 519.4 467.9)" opacity="0.75"/><ellipse cx="488.3" cy="441.8" rx="0.7" ry="0.5" transform="rotate(118 488.3 441.8)" opacity="0.64"/><ellipse cx="502.9" cy="469.9" rx="1.6" ry="0.5" transform="rotate(14 502.9 469.9)" opacity="0.80"/><ellipse cx="480.0" cy="417.6" rx="1.3" ry="0.5" transform="rotate(43 480.0 417.6)" opacity="0.53"/><ellipse cx="475.4" cy="453.8" rx="0.7" ry="0.7" transform="rotate(112 475.4 453.8)" opacity="0.59"/><ellipse cx="490.1" cy="462.7" rx="0.6" ry="0.6" transform="rotate(122 490.1 462.7)" opacity="0.70"/><ellipse cx="487.7" cy="417.5" rx="1.6" ry="0.8" transform="rotate(42 487.7 417.5)" opacity="0.57"/><ellipse cx="518.5" cy="419.5" rx="1.0" ry="0.8" transform="rotate(162 518.5 419.5)" opacity="0.47"/><ellipse cx="496.4" cy="430.6" rx="1.3" ry="0.7" transform="rotate(23 496.4 430.6)" opacity="0.46"/><ellipse cx="444.7" cy="423.8" rx="0.6" ry="0.5" transform="rotate(73 444.7 423.8)" opacity="0.56"/><ellipse cx="431.1" cy="446.9" rx="1.5" ry="0.7" transform="rotate(64 431.1 446.9)" opacity="0.70"/><ellipse cx="466.8" cy="417.2" rx="1.1" ry="0.4" transform="rotate(122 466.8 417.2)" opacity="0.43"/><ellipse cx="460.1" cy="474.6" rx="1.4" ry="0.8" transform="rotate(116 460.1 474.6)" opacity="0.67"/><ellipse cx="493.4" cy="474.8" rx="0.8" ry="0.7" transform="rotate(54 493.4 474.8)" opacity="0.48"/><ellipse cx="505.0" cy="448.2" rx="1.4" ry="0.8" transform="rotate(106 505.0 448.2)" opacity="0.45"/><ellipse cx="424.9" cy="443.4" rx="1.3" ry="0.5" transform="rotate(13 424.9 443.4)" opacity="0.35"/><ellipse cx="440.6" cy="455.1" rx="0.6" ry="0.5" transform="rotate(48 440.6 455.1)" opacity="0.71"/><ellipse cx="521.4" cy="405.8" rx="0.7" ry="0.8" transform="rotate(175 521.4 405.8)" opacity="0.42"/><ellipse cx="456.7" cy="442.5" rx="0.9" ry="0.6" transform="rotate(86 456.7 442.5)" opacity="0.48"/><ellipse cx="428.9" cy="410.5" rx="0.8" ry="0.4" transform="rotate(112 428.9 410.5)" opacity="0.70"/><ellipse cx="449.5" cy="462.1" rx="1.3" ry="0.6" transform="rotate(89 449.5 462.1)" opacity="0.44"/><ellipse cx="515.6" cy="445.3" rx="0.7" ry="0.5" transform="rotate(125 515.6 445.3)" opacity="0.54"/><ellipse cx="494.6" cy="421.1" rx="1.4" ry="0.8" transform="rotate(17 494.6 421.1)" opacity="0.64"/><ellipse cx="442.4" cy="456.0" rx="1.4" ry="0.8" transform="rotate(42 442.4 456.0)" opacity="0.40"/><ellipse cx="489.3" cy="445.6" rx="0.7" ry="0.5" transform="rotate(105 489.3 445.6)" opacity="0.40"/><ellipse cx="486.4" cy="422.0" rx="0.9" ry="0.6" transform="rotate(96 486.4 422.0)" opacity="0.71"/><ellipse cx="426.5" cy="457.2" rx="0.8" ry="0.5" transform="rotate(115 426.5 457.2)" opacity="0.70"/><ellipse cx="484.4" cy="470.1" rx="0.8" ry="0.5" transform="rotate(119 484.4 470.1)" opacity="0.48"/><ellipse cx="439.0" cy="420.9" rx="1.4" ry="0.8" transform="rotate(129 439.0 420.9)" opacity="0.83"/><ellipse cx="502.3" cy="427.0" rx="0.9" ry="0.7" transform="rotate(10 502.3 427.0)" opacity="0.65"/><ellipse cx="432.3" cy="408.0" rx="1.1" ry="0.5" transform="rotate(168 432.3 408.0)" opacity="0.79"/><ellipse cx="469.3" cy="418.8" rx="0.7" ry="0.6" transform="rotate(94 469.3 418.8)" opacity="0.53"/><ellipse cx="494.5" cy="443.0" rx="1.4" ry="0.4" transform="rotate(13 494.5 443.0)" opacity="0.54"/><ellipse cx="471.4" cy="422.8" rx="1.3" ry="0.5" transform="rotate(57 471.4 422.8)" opacity="0.59"/><ellipse cx="494.1" cy="460.6" rx="1.0" ry="0.6" transform="rotate(167 494.1 460.6)" opacity="0.82"/><ellipse cx="484.8" cy="412.1" rx="1.1" ry="0.7" transform="rotate(50 484.8 412.1)" opacity="0.37"/><ellipse cx="520.8" cy="470.7" rx="0.7" ry="0.6" transform="rotate(111 520.8 470.7)" opacity="0.50"/><ellipse cx="430.2" cy="459.1" rx="1.4" ry="0.6" transform="rotate(15 430.2 459.1)" opacity="0.55"/><ellipse cx="432.7" cy="474.6" rx="0.7" ry="0.5" transform="rotate(138 432.7 474.6)" opacity="0.42"/><ellipse cx="434.0" cy="409.5" rx="0.8" ry="0.6" transform="rotate(150 434.0 409.5)" opacity="0.43"/><ellipse cx="440.6" cy="460.2" rx="1.0" ry="0.6" transform="rotate(22 440.6 460.2)" opacity="0.47"/><ellipse cx="519.9" cy="412.9" rx="0.9" ry="0.7" transform="rotate(161 519.9 412.9)" opacity="0.80"/><ellipse cx="470.3" cy="474.1" rx="1.2" ry="0.5" transform="rotate(84 470.3 474.1)" opacity="0.71"/><ellipse cx="496.3" cy="413.9" rx="0.8" ry="0.8" transform="rotate(19 496.3 413.9)" opacity="0.76"/><ellipse cx="457.0" cy="422.5" rx="0.9" ry="0.6" transform="rotate(178 457.0 422.5)" opacity="0.42"/><ellipse cx="508.3" cy="427.8" rx="0.8" ry="0.7" transform="rotate(61 508.3 427.8)" opacity="0.44"/><ellipse cx="464.9" cy="464.3" rx="1.5" ry="0.7" transform="rotate(2 464.9 464.3)" opacity="0.73"/><ellipse cx="483.6" cy="470.0" rx="1.6" ry="0.5" transform="rotate(153 483.6 470.0)" opacity="0.76"/><ellipse cx="449.8" cy="431.1" rx="1.0" ry="0.6" transform="rotate(68 449.8 431.1)" opacity="0.41"/><ellipse cx="446.0" cy="470.7" rx="1.0" ry="0.7" transform="rotate(160 446.0 470.7)" opacity="0.73"/><ellipse cx="447.7" cy="471.4" rx="1.4" ry="0.8" transform="rotate(131 447.7 471.4)" opacity="0.73"/><ellipse cx="504.1" cy="422.9" rx="1.3" ry="0.6" transform="rotate(151 504.1 422.9)" opacity="0.42"/><ellipse cx="476.9" cy="428.9" rx="1.4" ry="0.6" transform="rotate(152 476.9 428.9)" opacity="0.77"/><ellipse cx="510.7" cy="414.5" rx="1.5" ry="0.7" transform="rotate(122 510.7 414.5)" opacity="0.68"/><ellipse cx="428.2" cy="467.8" rx="1.1" ry="0.6" transform="rotate(61 428.2 467.8)" opacity="0.74"/><ellipse cx="501.1" cy="467.8" rx="0.8" ry="0.6" transform="rotate(45 501.1 467.8)" opacity="0.40"/><ellipse cx="455.9" cy="406.3" rx="1.4" ry="0.5" transform="rotate(13 455.9 406.3)" opacity="0.38"/><ellipse cx="497.0" cy="418.9" rx="1.1" ry="0.6" transform="rotate(144 497.0 418.9)" opacity="0.83"/><ellipse cx="454.2" cy="450.5" rx="1.5" ry="0.6" transform="rotate(162 454.2 450.5)" opacity="0.72"/><ellipse cx="454.3" cy="468.1" rx="1.2" ry="0.4" transform="rotate(106 454.3 468.1)" opacity="0.76"/><ellipse cx="474.9" cy="439.7" rx="1.0" ry="0.8" transform="rotate(120 474.9 439.7)" opacity="0.45"/><ellipse cx="459.4" cy="430.9" rx="1.6" ry="0.7" transform="rotate(22 459.4 430.9)" opacity="0.81"/><ellipse cx="426.9" cy="447.5" rx="1.0" ry="0.7" transform="rotate(77 426.9 447.5)" opacity="0.40"/><ellipse cx="475.4" cy="464.2" rx="1.4" ry="0.6" transform="rotate(40 475.4 464.2)" opacity="0.72"/><ellipse cx="503.0" cy="420.4" rx="1.5" ry="0.8" transform="rotate(78 503.0 420.4)" opacity="0.54"/><ellipse cx="493.9" cy="472.2" rx="0.8" ry="0.5" transform="rotate(59 493.9 472.2)" opacity="0.72"/><ellipse cx="442.0" cy="444.3" rx="1.1" ry="0.7" transform="rotate(26 442.0 444.3)" opacity="0.83"/><ellipse cx="522.7" cy="445.3" rx="1.4" ry="0.5" transform="rotate(164 522.7 445.3)" opacity="0.63"/><ellipse cx="498.8" cy="467.7" rx="1.0" ry="0.8" transform="rotate(37 498.8 467.7)" opacity="0.36"/><ellipse cx="473.3" cy="469.9" rx="1.5" ry="0.8" transform="rotate(92 473.3 469.9)" opacity="0.82"/><ellipse cx="479.0" cy="414.9" rx="1.2" ry="0.8" transform="rotate(76 479.0 414.9)" opacity="0.65"/><ellipse cx="449.1" cy="424.5" rx="1.0" ry="0.6" transform="rotate(84 449.1 424.5)" opacity="0.40"/><ellipse cx="424.0" cy="429.2" rx="1.3" ry="0.7" transform="rotate(43 424.0 429.2)" opacity="0.48"/><ellipse cx="474.7" cy="417.2" rx="1.2" ry="0.8" transform="rotate(36 474.7 417.2)" opacity="0.64"/><ellipse cx="495.0" cy="459.0" rx="1.3" ry="0.7" transform="rotate(49 495.0 459.0)" opacity="0.77"/><ellipse cx="515.3" cy="408.2" rx="1.5" ry="0.6" transform="rotate(16 515.3 408.2)" opacity="0.38"/><ellipse cx="502.5" cy="453.8" rx="0.7" ry="0.6" transform="rotate(115 502.5 453.8)" opacity="0.85"/><ellipse cx="456.8" cy="460.3" rx="0.8" ry="0.5" transform="rotate(29 456.8 460.3)" opacity="0.56"/><ellipse cx="484.8" cy="426.5" rx="0.8" ry="0.5" transform="rotate(15 484.8 426.5)" opacity="0.45"/><ellipse cx="454.8" cy="441.2" rx="0.8" ry="0.6" transform="rotate(79 454.8 441.2)" opacity="0.84"/><ellipse cx="471.7" cy="473.3" rx="1.1" ry="0.5" transform="rotate(107 471.7 473.3)" opacity="0.42"/><ellipse cx="440.2" cy="409.7" rx="1.3" ry="0.8" transform="rotate(73 440.2 409.7)" opacity="0.53"/><ellipse cx="465.6" cy="430.1" rx="1.3" ry="0.6" transform="rotate(27 465.6 430.1)" opacity="0.78"/><ellipse cx="480.3" cy="404.9" rx="1.4" ry="0.7" transform="rotate(64 480.3 404.9)" opacity="0.66"/><ellipse cx="514.8" cy="433.7" rx="1.0" ry="0.5" transform="rotate(100 514.8 433.7)" opacity="0.68"/></g>
<line x1="498.40" y1="471.40" x2="519.50" y2="471.40" stroke="#333" stroke-width="0.7" />
<text x="502.40" y="475.70" font-size="3.4" font-weight="normal" text-anchor="start" fill="#222" font-family="Liberation Sans" textLength="10.3" lengthAdjust="spacingAndGlyphs">500 μm</text>
<ellipse cx="99" cy="443" rx="4" ry="14" fill="#707068" opacity="0.6" transform="rotate(-18 99 443)" filter="url(#bl2)"/>
<ellipse cx="205" cy="427" rx="3" ry="10" fill="#c8cc90" opacity="0.6" transform="rotate(-5 205 427)" filter="url(#bl2)"/>
<ellipse cx="208" cy="452" rx="2.5" ry="7" fill="#c8cc90" opacity="0.5" filter="url(#bl2)"/>
<ellipse cx="457" cy="448" rx="3" ry="8" fill="#8a8a7a" opacity="0.4" transform="rotate(-15 457 448)" filter="url(#bl2)"/>
<ellipse cx="36.7" cy="403.6" rx="2.8" ry="1.3" fill="#111"/>
<ellipse cx="86.5" cy="478.6" rx="3.2" ry="1.4" fill="#111"/>
<line x1="563.10" y1="415.99" x2="563.10" y2="413.10" stroke="#000" stroke-width="0.9" />
<line x1="560.10" y1="413.10" x2="566.10" y2="413.10" stroke="#000" stroke-width="0.9" />
<rect x="557.30" y="415.99" width="11.60" height="44.71" fill="#f5f7e4" stroke="#333" stroke-width="0.85" />
<line x1="579.85" y1="431.83" x2="579.85" y2="429.42" stroke="#000" stroke-width="0.9" />
<line x1="576.85" y1="429.42" x2="582.85" y2="429.42" stroke="#000" stroke-width="0.9" />
<rect x="574.20" y="431.83" width="11.30" height="28.87" fill="#d2ecdf" stroke="#333" stroke-width="0.85" />
<line x1="596.10" y1="414.79" x2="596.10" y2="412.38" stroke="#000" stroke-width="0.9" />
<line x1="593.10" y1="412.38" x2="599.10" y2="412.38" stroke="#000" stroke-width="0.9" />
<rect x="590.30" y="414.79" width="11.60" height="45.91" fill="#cce9f1" stroke="#333" stroke-width="0.85" />
<line x1="613.05" y1="397.86" x2="613.05" y2="393.85" stroke="#000" stroke-width="0.9" />
<line x1="610.05" y1="393.85" x2="616.05" y2="393.85" stroke="#000" stroke-width="0.9" />
<rect x="607.40" y="397.86" width="11.30" height="62.84" fill="#a3c3e1" stroke="#333" stroke-width="0.85" />
<line x1="629.55" y1="423.65" x2="629.55" y2="420.60" stroke="#000" stroke-width="0.9" />
<line x1="626.55" y1="420.60" x2="632.55" y2="420.60" stroke="#000" stroke-width="0.9" />
<rect x="624.00" y="423.65" width="11.10" height="37.05" fill="#8b8bc6" stroke="#333" stroke-width="0.85" />
<line x1="552.50" y1="380.50" x2="552.50" y2="461.30" stroke="#000" stroke-width="1.3" />
<line x1="551.90" y1="460.70" x2="640.40" y2="460.70" stroke="#000" stroke-width="1.4" />
<line x1="550.10" y1="460.70" x2="552.50" y2="460.70" stroke="#000" stroke-width="1.0" />
<text x="549.70" y="462.30" font-size="4.3" font-weight="normal" text-anchor="end" fill="#222" font-family="Liberation Sans" >0</text>
<line x1="550.10" y1="440.65" x2="552.50" y2="440.65" stroke="#000" stroke-width="1.0" />
<text x="549.70" y="442.25" font-size="4.3" font-weight="normal" text-anchor="end" fill="#222" font-family="Liberation Sans" >50</text>
<line x1="550.10" y1="420.60" x2="552.50" y2="420.60" stroke="#000" stroke-width="1.0" />
<text x="549.70" y="422.20" font-size="4.3" font-weight="normal" text-anchor="end" fill="#222" font-family="Liberation Sans" >100</text>
<line x1="550.10" y1="400.55" x2="552.50" y2="400.55" stroke="#000" stroke-width="1.0" />
<text x="549.70" y="402.15" font-size="4.3" font-weight="normal" text-anchor="end" fill="#222" font-family="Liberation Sans" >150</text>
<line x1="550.10" y1="380.50" x2="552.50" y2="380.50" stroke="#000" stroke-width="1.0" />
<text x="549.70" y="382.10" font-size="4.3" font-weight="normal" text-anchor="end" fill="#222" font-family="Liberation Sans" >200</text>
<text x="0.00" y="0.00" font-size="5.2" font-weight="normal" text-anchor="middle" fill="#111" font-family="Liberation Sans" transform="translate(538.6,420.2) rotate(-90)" textLength="57.8" lengthAdjust="spacingAndGlyphs">Cell number of migration</text>
<path d="M562.9,375.4 L562.9,366.8 L629.5,366.8 L629.5,419.0" stroke="#000" stroke-width="1.35" fill="none" />
<path d="M562.9,387.2 L562.9,378.3 L613.3,378.3 L613.3,391.5" stroke="#000" stroke-width="1.35" fill="none" />
<path d="M562.9,399.0 L562.9,391.8 L596.2,391.8 L596.2,408.6" stroke="#000" stroke-width="1.35" fill="none" />
<path d="M562.9,409.5 L562.9,403.6 L580.0,403.6 L580.0,426.6" stroke="#000" stroke-width="1.35" fill="none" />
<path d="M566.90,397.00L566.90,400.00M565.60,397.75L568.20,399.25M565.60,399.25L568.20,397.75M571.50,397.00L571.50,400.00M570.20,397.75L572.80,399.25M570.20,399.25L572.80,397.75M576.10,397.00L576.10,400.00M574.80,397.75L577.40,399.25M574.80,399.25L577.40,397.75" stroke="#111" stroke-width="0.9" fill="none" />
<text x="579.70" y="389.30" font-size="6.2" font-weight="normal" text-anchor="middle" fill="#222" font-family="Liberation Sans" >ns</text>
<path d="M581.10,372.20L581.10,375.20M579.80,372.95L582.40,374.45M579.80,374.45L582.40,372.95M585.70,372.20L585.70,375.20M584.40,372.95L587.00,374.45M584.40,374.45L587.00,372.95M590.30,372.20L590.30,375.20M589.00,372.95L591.60,374.45M589.00,374.45L591.60,372.95M594.90,372.20L594.90,375.20M593.60,372.95L596.20,374.45M593.60,374.45L596.20,372.95" stroke="#111" stroke-width="0.9" fill="none" />
<path d="M596.20,360.70L596.20,363.70M594.90,361.45L597.50,362.95M594.90,362.95L597.50,361.45" stroke="#111" stroke-width="0.9" fill="none" />
<rect x="641.60" y="380.70" width="6.80" height="3.40" fill="#f5f7e4" stroke="#333" stroke-width="0.75" />
<text x="652.00" y="384.30" font-size="5.0" font-weight="normal" text-anchor="start" fill="#444" font-family="Liberation Sans" textLength="9.1" lengthAdjust="spacingAndGlyphs">PBS</text>
<rect x="641.60" y="388.40" width="6.80" height="3.40" fill="#d2ecdf" stroke="#333" stroke-width="0.75" />
<text x="652.00" y="392.00" font-size="5.0" font-weight="normal" text-anchor="start" fill="#444" font-family="Liberation Sans" textLength="9.1" lengthAdjust="spacingAndGlyphs">PBS</text>
<rect x="641.60" y="396.10" width="6.80" height="3.40" fill="#cce9f1" stroke="#333" stroke-width="0.75" />
<text x="652.00" y="399.70" font-size="5.0" font-weight="normal" text-anchor="start" fill="#444" font-family="Liberation Sans" textLength="22.8" lengthAdjust="spacingAndGlyphs">ASC-Exos</text>
<rect x="641.60" y="403.60" width="6.80" height="3.40" fill="#a3c3e1" stroke="#333" stroke-width="0.75" />
<text x="652.00" y="407.20" font-size="5.0" font-weight="normal" text-anchor="start" fill="#444" font-family="Liberation Sans" textLength="31.3" lengthAdjust="spacingAndGlyphs">miR-140-Exos</text>
<rect x="641.60" y="411.30" width="6.80" height="3.40" fill="#8b8bc6" stroke="#333" stroke-width="0.75" />
<text x="652.00" y="414.90" font-size="5.0" font-weight="normal" text-anchor="start" fill="#444" font-family="Liberation Sans" textLength="30.2" lengthAdjust="spacingAndGlyphs">anti-miR-140</text>
<text x="528.40" y="473.80" font-size="8.3" font-weight="bold" text-anchor="start" fill="#111" font-family="Liberation Sans" textLength="18.1" lengthAdjust="spacingAndGlyphs">IL-1β</text>
<text x="523.60" y="483.30" font-size="7.6" font-weight="bold" text-anchor="start" fill="#111" font-family="Liberation Sans" textLength="25.3" lengthAdjust="spacingAndGlyphs">MMP13</text>
<line x1="562.90" y1="460.70" x2="562.90" y2="463.30" stroke="#000" stroke-width="1.0" />
<text x="562.90" y="473.70" font-size="8" font-weight="bold" text-anchor="middle" fill="#111" font-family="Liberation Sans" >+</text>
<text x="562.90" y="483.30" font-size="8" font-weight="bold" text-anchor="middle" fill="#111" font-family="Liberation Sans" >-</text>
<line x1="580.20" y1="460.70" x2="580.20" y2="463.30" stroke="#000" stroke-width="1.0" />
<text x="580.20" y="473.70" font-size="8" font-weight="bold" text-anchor="middle" fill="#111" font-family="Liberation Sans" >+</text>
<text x="580.20" y="483.30" font-size="8" font-weight="bold" text-anchor="middle" fill="#111" font-family="Liberation Sans" >+</text>
<line x1="596.60" y1="460.70" x2="596.60" y2="463.30" stroke="#000" stroke-width="1.0" />
<text x="596.60" y="473.70" font-size="8" font-weight="bold" text-anchor="middle" fill="#111" font-family="Liberation Sans" >+</text>
<text x="596.60" y="483.30" font-size="8" font-weight="bold" text-anchor="middle" fill="#111" font-family="Liberation Sans" >+</text>
<line x1="613.20" y1="460.70" x2="613.20" y2="463.30" stroke="#000" stroke-width="1.0" />
<text x="613.20" y="473.70" font-size="8" font-weight="bold" text-anchor="middle" fill="#111" font-family="Liberation Sans" >+</text>
<text x="613.20" y="483.30" font-size="8" font-weight="bold" text-anchor="middle" fill="#111" font-family="Liberation Sans" >+</text>
<line x1="629.60" y1="460.70" x2="629.60" y2="463.30" stroke="#000" stroke-width="1.0" />
<text x="629.60" y="473.70" font-size="8" font-weight="bold" text-anchor="middle" fill="#111" font-family="Liberation Sans" >+</text>
<text x="629.60" y="483.30" font-size="8" font-weight="bold" text-anchor="middle" fill="#111" font-family="Liberation Sans" >+</text>
<line x1="55.00" y1="605.30" x2="55.00" y2="604.77" stroke="#000" stroke-width="0.9" />
<line x1="52.40" y1="604.77" x2="57.60" y2="604.77" stroke="#000" stroke-width="0.9" />
<rect x="50.40" y="605.30" width="9.20" height="26.30" fill="#f3dde0" stroke="#333" stroke-width="0.85" />
<line x1="69.00" y1="617.13" x2="69.00" y2="614.50" stroke="#000" stroke-width="0.9" />
<line x1="66.40" y1="614.50" x2="71.60" y2="614.50" stroke="#000" stroke-width="0.9" />
<rect x="64.40" y="617.13" width="9.20" height="14.47" fill="#f2e9c6" stroke="#333" stroke-width="0.85" />
<line x1="83.00" y1="624.76" x2="83.00" y2="621.61" stroke="#000" stroke-width="0.9" />
<line x1="80.40" y1="621.61" x2="85.60" y2="621.61" stroke="#000" stroke-width="0.9" />
<rect x="78.40" y="624.76" width="9.20" height="6.84" fill="#f6f7e2" stroke="#333" stroke-width="0.85" />
<line x1="97.00" y1="611.09" x2="97.00" y2="609.51" stroke="#000" stroke-width="0.9" />
<line x1="94.40" y1="609.51" x2="99.60" y2="609.51" stroke="#000" stroke-width="0.9" />
<rect x="92.40" y="611.09" width="9.20" height="20.51" fill="#d2ecdf" stroke="#333" stroke-width="0.85" />
<line x1="111.00" y1="575.06" x2="111.00" y2="571.11" stroke="#000" stroke-width="0.9" />
<line x1="108.40" y1="571.11" x2="113.60" y2="571.11" stroke="#000" stroke-width="0.9" />
<rect x="106.40" y="575.06" width="9.20" height="56.54" fill="#cbe8f0" stroke="#333" stroke-width="0.85" />
<line x1="125.00" y1="606.09" x2="125.00" y2="605.30" stroke="#000" stroke-width="0.9" />
<line x1="122.40" y1="605.30" x2="127.60" y2="605.30" stroke="#000" stroke-width="0.9" />
<rect x="120.40" y="606.09" width="9.20" height="25.51" fill="#a2c2de" stroke="#333" stroke-width="0.85" />
<line x1="139.00" y1="616.61" x2="139.00" y2="614.50" stroke="#000" stroke-width="0.9" />
<line x1="136.40" y1="614.50" x2="141.60" y2="614.50" stroke="#000" stroke-width="0.9" />
<rect x="134.40" y="616.61" width="9.20" height="14.99" fill="#9a9acd" stroke="#333" stroke-width="0.85" />
<line x1="153.00" y1="586.10" x2="153.00" y2="581.37" stroke="#000" stroke-width="0.9" />
<line x1="150.40" y1="581.37" x2="155.60" y2="581.37" stroke="#000" stroke-width="0.9" />
<rect x="148.40" y="586.10" width="9.20" height="45.50" fill="#6a4b9e" stroke="#333" stroke-width="0.85" />
<line x1="45.80" y1="552.20" x2="45.80" y2="632.40" stroke="#000" stroke-width="1.7" />
<line x1="45.00" y1="631.60" x2="163.80" y2="631.60" stroke="#000" stroke-width="1.6" />
<line x1="42.60" y1="631.60" x2="45.80" y2="631.60" stroke="#000" stroke-width="1.3" />
<text x="42.20" y="633.62" font-size="5.6" font-weight="bold" text-anchor="end" fill="#222" font-family="Liberation Sans" >0</text>
<line x1="42.60" y1="605.30" x2="45.80" y2="605.30" stroke="#000" stroke-width="1.3" />
<text x="42.20" y="607.32" font-size="5.6" font-weight="bold" text-anchor="end" fill="#222" font-family="Liberation Sans" >1</text>
<line x1="42.60" y1="579.00" x2="45.80" y2="579.00" stroke="#000" stroke-width="1.3" />
<text x="42.20" y="581.02" font-size="5.6" font-weight="bold" text-anchor="end" fill="#222" font-family="Liberation Sans" >2</text>
<line x1="42.60" y1="552.70" x2="45.80" y2="552.70" stroke="#000" stroke-width="1.3" />
<text x="42.20" y="554.72" font-size="5.6" font-weight="bold" text-anchor="end" fill="#222" font-family="Liberation Sans" >3</text>
<line x1="55.00" y1="631.60" x2="55.00" y2="634.80" stroke="#000" stroke-width="1.1" />
<line x1="69.00" y1="631.60" x2="69.00" y2="634.80" stroke="#000" stroke-width="1.1" />
<line x1="83.00" y1="631.60" x2="83.00" y2="634.80" stroke="#000" stroke-width="1.1" />
<line x1="97.00" y1="631.60" x2="97.00" y2="634.80" stroke="#000" stroke-width="1.1" />
<line x1="111.00" y1="631.60" x2="111.00" y2="634.80" stroke="#000" stroke-width="1.1" />
<line x1="125.00" y1="631.60" x2="125.00" y2="634.80" stroke="#000" stroke-width="1.1" />
<line x1="139.00" y1="631.60" x2="139.00" y2="634.80" stroke="#000" stroke-width="1.1" />
<line x1="153.00" y1="631.60" x2="153.00" y2="634.80" stroke="#000" stroke-width="1.1" />
<text x="0.00" y="0.00" font-size="6.2" font-weight="bold" text-anchor="middle" fill="#111" font-family="Liberation Sans" transform="translate(34.01,592.0) rotate(-90)" textLength="78" lengthAdjust="spacingAndGlyphs">Relative expression level</text>
<text x="104.00" y="513.20" font-size="7.6" font-weight="bold" text-anchor="middle" fill="#111" font-family="Liberation Sans" >MMP13</text>
<path d="M55.00,536.40 L55.00,529.90 L153.00,529.90 L153.00,579.17" stroke="#000" stroke-width="1.4" fill="none" />
<path d="M96.50,522.25L96.50,525.75M94.98,523.12L98.02,524.88M94.98,524.88L98.02,523.12M101.50,522.25L101.50,525.75M99.98,523.12L103.02,524.88M99.98,524.88L103.02,523.12M106.50,522.25L106.50,525.75M104.98,523.12L108.02,524.88M104.98,524.88L108.02,523.12M111.50,522.25L111.50,525.75M109.98,523.12L113.02,524.88M109.98,524.88L113.02,523.12" stroke="#111" stroke-width="0.95" fill="none" />
<path d="M55.00,549.20 L55.00,542.70 L139.00,542.70 L139.00,612.30" stroke="#000" stroke-width="1.4" fill="none" />
<path d="M94.50,535.05L94.50,538.55M92.98,535.93L96.02,537.68M92.98,537.68L96.02,535.93M99.50,535.05L99.50,538.55M97.98,535.93L101.02,537.68M97.98,537.68L101.02,535.93" stroke="#111" stroke-width="0.95" fill="none" />
<path d="M55.00,560.34 L55.00,554.60 L125.00,554.60 L125.00,603.10" stroke="#000" stroke-width="1.4" fill="none" />
<text x="90.00" y="550.80" font-size="6.8" font-weight="normal" text-anchor="middle" fill="#222" font-family="Liberation Sans" >ns</text>
<path d="M55.00,571.00 L55.00,564.50 L111.00,564.50 L111.00,568.91" stroke="#000" stroke-width="1.4" fill="none" />
<path d="M75.50,556.85L75.50,560.35M73.98,557.73L77.02,559.48M73.98,559.48L77.02,557.73M80.50,556.85L80.50,560.35M78.98,557.73L82.02,559.48M78.98,559.48L82.02,557.73M85.50,556.85L85.50,560.35M83.98,557.73L87.02,559.48M83.98,559.48L87.02,557.73M90.50,556.85L90.50,560.35M88.98,557.73L92.02,559.48M88.98,559.48L92.02,557.73" stroke="#111" stroke-width="0.95" fill="none" />
<path d="M55.00,582.90 L55.00,576.40 L97.00,576.40 L97.00,607.31" stroke="#000" stroke-width="1.4" fill="none" />
<text x="76.00" y="572.60" font-size="6.8" font-weight="normal" text-anchor="middle" fill="#222" font-family="Liberation Sans" >ns</text>
<path d="M55.00,594.72 L55.00,588.80 L83.00,588.80 L83.00,619.41" stroke="#000" stroke-width="1.4" fill="none" />
<path d="M61.50,581.15L61.50,584.65M59.98,582.02L63.02,583.77M59.98,583.77L63.02,582.02M66.50,581.15L66.50,584.65M64.98,582.02L68.02,583.77M64.98,583.77L68.02,582.02M71.50,581.15L71.50,584.65M69.98,582.02L73.02,583.77M69.98,583.77L73.02,582.02M76.50,581.15L76.50,584.65M74.98,582.02L78.02,583.77M74.98,583.77L78.02,582.02" stroke="#111" stroke-width="0.95" fill="none" />
<path d="M55.00,602.27 L55.00,599.00 L69.00,599.00 L69.00,612.30" stroke="#000" stroke-width="1.4" fill="none" />
<path d="M59.50,591.35L59.50,594.85M57.98,592.23L61.02,593.98M57.98,593.98L61.02,592.23M64.50,591.35L64.50,594.85M62.98,592.23L66.02,593.98M62.98,593.98L66.02,592.23" stroke="#111" stroke-width="0.95" fill="none" />
<text x="27.80" y="645.55" font-size="7.0" font-weight="bold" text-anchor="start" fill="#111" font-family="Liberation Sans" textLength="15.8" lengthAdjust="spacingAndGlyphs">IL-1β</text>
<text x="24.10" y="657.11" font-size="6.6" font-weight="bold" text-anchor="start" fill="#111" font-family="Liberation Sans" textLength="21.9" lengthAdjust="spacingAndGlyphs">MMP13</text>
<text x="55.00" y="645.62" font-size="7.0" font-weight="bold" text-anchor="middle" fill="#111" font-family="Liberation Sans" >+</text>
<text x="55.00" y="657.32" font-size="7.0" font-weight="bold" text-anchor="middle" fill="#111" font-family="Liberation Sans" >-</text>
<text x="69.00" y="645.62" font-size="7.0" font-weight="bold" text-anchor="middle" fill="#111" font-family="Liberation Sans" >+</text>
<text x="69.00" y="657.32" font-size="7.0" font-weight="bold" text-anchor="middle" fill="#111" font-family="Liberation Sans" >-</text>
<text x="83.00" y="645.62" font-size="7.0" font-weight="bold" text-anchor="middle" fill="#111" font-family="Liberation Sans" >+</text>
<text x="83.00" y="657.32" font-size="7.0" font-weight="bold" text-anchor="middle" fill="#111" font-family="Liberation Sans" >-</text>
<text x="97.00" y="645.62" font-size="7.0" font-weight="bold" text-anchor="middle" fill="#111" font-family="Liberation Sans" >+</text>
<text x="97.00" y="657.32" font-size="7.0" font-weight="bold" text-anchor="middle" fill="#111" font-family="Liberation Sans" >-</text>
<text x="111.00" y="645.62" font-size="7.0" font-weight="bold" text-anchor="middle" fill="#111" font-family="Liberation Sans" >+</text>
<text x="111.00" y="657.32" font-size="7.0" font-weight="bold" text-anchor="middle" fill="#111" font-family="Liberation Sans" >+</text>
<text x="125.00" y="645.62" font-size="7.0" font-weight="bold" text-anchor="middle" fill="#111" font-family="Liberation Sans" >+</text>
<text x="125.00" y="657.32" font-size="7.0" font-weight="bold" text-anchor="middle" fill="#111" font-family="Liberation Sans" >+</text>
<text x="139.00" y="645.62" font-size="7.0" font-weight="bold" text-anchor="middle" fill="#111" font-family="Liberation Sans" >+</text>
<text x="139.00" y="657.32" font-size="7.0" font-weight="bold" text-anchor="middle" fill="#111" font-family="Liberation Sans" >+</text>
<text x="153.00" y="645.62" font-size="7.0" font-weight="bold" text-anchor="middle" fill="#111" font-family="Liberation Sans" >+</text>
<text x="153.00" y="657.32" font-size="7.0" font-weight="bold" text-anchor="middle" fill="#111" font-family="Liberation Sans" >+</text>
<rect x="165.20" y="528.50" width="8.60" height="4.00" fill="#f3dde0" stroke="#222" stroke-width="0.8" />
<text x="178.80" y="532.80" font-size="6.6" font-weight="normal" text-anchor="start" fill="#333" font-family="Liberation Sans" textLength="11.8" lengthAdjust="spacingAndGlyphs">PBS</text>
<rect x="165.20" y="539.00" width="8.60" height="4.00" fill="#f2e9c6" stroke="#222" stroke-width="0.8" />
<text x="178.80" y="543.30" font-size="6.6" font-weight="normal" text-anchor="start" fill="#333" font-family="Liberation Sans" textLength="29.8" lengthAdjust="spacingAndGlyphs">ASC-Exos</text>
<rect x="165.20" y="549.60" width="8.60" height="4.00" fill="#f6f7e2" stroke="#222" stroke-width="0.8" />
<text x="178.80" y="553.90" font-size="6.6" font-weight="normal" text-anchor="start" fill="#333" font-family="Liberation Sans" textLength="40.9" lengthAdjust="spacingAndGlyphs">miR-140-Exos</text>
<rect x="165.20" y="559.90" width="8.60" height="4.00" fill="#d2ecdf" stroke="#222" stroke-width="0.8" />
<text x="178.80" y="564.20" font-size="6.6" font-weight="normal" text-anchor="start" fill="#333" font-family="Liberation Sans" textLength="53.4" lengthAdjust="spacingAndGlyphs">anti-miR-140-Exos</text>
<rect x="165.20" y="570.50" width="8.60" height="4.00" fill="#cbe8f0" stroke="#222" stroke-width="0.8" />
<text x="178.80" y="574.80" font-size="6.6" font-weight="normal" text-anchor="start" fill="#333" font-family="Liberation Sans" textLength="11.8" lengthAdjust="spacingAndGlyphs">PBS</text>
<rect x="165.20" y="580.90" width="8.60" height="4.00" fill="#a2c2de" stroke="#222" stroke-width="0.8" />
<text x="178.80" y="585.20" font-size="6.6" font-weight="normal" text-anchor="start" fill="#333" font-family="Liberation Sans" textLength="29.8" lengthAdjust="spacingAndGlyphs">ASC-Exos</text>
<rect x="165.20" y="590.60" width="8.60" height="4.00" fill="#9a9acd" stroke="#222" stroke-width="0.8" />
<text x="178.80" y="594.90" font-size="6.6" font-weight="normal" text-anchor="start" fill="#333" font-family="Liberation Sans" textLength="40.9" lengthAdjust="spacingAndGlyphs">miR-140-Exos</text>
<rect x="165.20" y="601.30" width="8.60" height="4.00" fill="#6a4b9e" stroke="#222" stroke-width="0.8" />
<text x="178.80" y="605.60" font-size="6.6" font-weight="normal" text-anchor="start" fill="#333" font-family="Liberation Sans" textLength="53.4" lengthAdjust="spacingAndGlyphs">anti-miR-140-Exos</text>
<line x1="268.00" y1="619.40" x2="268.00" y2="619.08" stroke="#000" stroke-width="0.9" />
<line x1="265.40" y1="619.08" x2="270.60" y2="619.08" stroke="#000" stroke-width="0.9" />
<rect x="263.50" y="619.40" width="9.00" height="16.00" fill="#f3dde0" stroke="#333" stroke-width="0.85" />
<line x1="282.10" y1="588.52" x2="282.10" y2="583.72" stroke="#000" stroke-width="0.9" />
<line x1="279.50" y1="583.72" x2="284.70" y2="583.72" stroke="#000" stroke-width="0.9" />
<rect x="277.60" y="588.52" width="9.00" height="46.88" fill="#f2e9c6" stroke="#333" stroke-width="0.85" />
<line x1="296.20" y1="578.60" x2="296.20" y2="577.00" stroke="#000" stroke-width="0.9" />
<line x1="293.60" y1="577.00" x2="298.80" y2="577.00" stroke="#000" stroke-width="0.9" />
<rect x="291.70" y="578.60" width="9.00" height="56.80" fill="#f6f7e2" stroke="#333" stroke-width="0.85" />
<line x1="310.30" y1="606.60" x2="310.30" y2="602.60" stroke="#000" stroke-width="0.9" />
<line x1="307.70" y1="602.60" x2="312.90" y2="602.60" stroke="#000" stroke-width="0.9" />
<rect x="305.80" y="606.60" width="9.00" height="28.80" fill="#d2ecdf" stroke="#333" stroke-width="0.85" />
<line x1="324.40" y1="627.88" x2="324.40" y2="626.60" stroke="#000" stroke-width="0.9" />
<line x1="321.80" y1="626.60" x2="327.00" y2="626.60" stroke="#000" stroke-width="0.9" />
<rect x="319.90" y="627.88" width="9.00" height="7.52" fill="#cbe8f0" stroke="#333" stroke-width="0.85" />
<line x1="338.50" y1="619.40" x2="338.50" y2="619.08" stroke="#000" stroke-width="0.9" />
<line x1="335.90" y1="619.08" x2="341.10" y2="619.08" stroke="#000" stroke-width="0.9" />
<rect x="334.00" y="619.40" width="9.00" height="16.00" fill="#a2c2de" stroke="#333" stroke-width="0.85" />
<line x1="352.60" y1="590.60" x2="352.60" y2="586.60" stroke="#000" stroke-width="0.9" />
<line x1="350.00" y1="586.60" x2="355.20" y2="586.60" stroke="#000" stroke-width="0.9" />
<rect x="348.10" y="590.60" width="9.00" height="44.80" fill="#9a9acd" stroke="#333" stroke-width="0.85" />
<line x1="366.70" y1="621.64" x2="366.70" y2="620.04" stroke="#000" stroke-width="0.9" />
<line x1="364.10" y1="620.04" x2="369.30" y2="620.04" stroke="#000" stroke-width="0.9" />
<rect x="362.20" y="621.64" width="9.00" height="13.76" fill="#6a4b9e" stroke="#333" stroke-width="0.85" />
<line x1="258.80" y1="570.90" x2="258.80" y2="636.20" stroke="#000" stroke-width="1.7" />
<line x1="258.00" y1="635.40" x2="376.90" y2="635.40" stroke="#000" stroke-width="1.6" />
<line x1="255.60" y1="635.40" x2="258.80" y2="635.40" stroke="#000" stroke-width="1.3" />
<text x="255.20" y="637.20" font-size="5.0" font-weight="bold" text-anchor="end" fill="#222" font-family="Liberation Sans" >0</text>
<line x1="255.60" y1="619.40" x2="258.80" y2="619.40" stroke="#000" stroke-width="1.3" />
<text x="255.20" y="621.20" font-size="5.0" font-weight="bold" text-anchor="end" fill="#222" font-family="Liberation Sans" >1</text>
<line x1="255.60" y1="603.40" x2="258.80" y2="603.40" stroke="#000" stroke-width="1.3" />
<text x="255.20" y="605.20" font-size="5.0" font-weight="bold" text-anchor="end" fill="#222" font-family="Liberation Sans" >2</text>
<line x1="255.60" y1="587.40" x2="258.80" y2="587.40" stroke="#000" stroke-width="1.3" />
<text x="255.20" y="589.20" font-size="5.0" font-weight="bold" text-anchor="end" fill="#222" font-family="Liberation Sans" >3</text>
<line x1="255.60" y1="571.40" x2="258.80" y2="571.40" stroke="#000" stroke-width="1.3" />
<text x="255.20" y="573.20" font-size="5.0" font-weight="bold" text-anchor="end" fill="#222" font-family="Liberation Sans" >4</text>
<line x1="268.00" y1="635.40" x2="268.00" y2="638.60" stroke="#000" stroke-width="1.1" />
<line x1="282.10" y1="635.40" x2="282.10" y2="638.60" stroke="#000" stroke-width="1.1" />
<line x1="296.20" y1="635.40" x2="296.20" y2="638.60" stroke="#000" stroke-width="1.1" />
<line x1="310.30" y1="635.40" x2="310.30" y2="638.60" stroke="#000" stroke-width="1.1" />
<line x1="324.40" y1="635.40" x2="324.40" y2="638.60" stroke="#000" stroke-width="1.1" />
<line x1="338.50" y1="635.40" x2="338.50" y2="638.60" stroke="#000" stroke-width="1.1" />
<line x1="352.60" y1="635.40" x2="352.60" y2="638.60" stroke="#000" stroke-width="1.1" />
<line x1="366.70" y1="635.40" x2="366.70" y2="638.60" stroke="#000" stroke-width="1.1" />
<text x="0.00" y="0.00" font-size="5.4" font-weight="bold" text-anchor="middle" fill="#111" font-family="Liberation Sans" transform="translate(247.14,603.0) rotate(-90)" textLength="64.5" lengthAdjust="spacingAndGlyphs">Relative expression level</text>
<text x="317.40" y="508.40" font-size="7.6" font-weight="bold" text-anchor="middle" fill="#111" font-family="Liberation Sans" >COL2</text>
<path d="M268.00,527.43 L268.00,521.80 L366.70,521.80 L366.70,617.84" stroke="#000" stroke-width="1.4" fill="none" />
<text x="317.35" y="518.00" font-size="6.8" font-weight="normal" text-anchor="middle" fill="#222" font-family="Liberation Sans" >ns</text>
<path d="M268.00,536.72 L268.00,531.50 L352.60,531.50 L352.60,584.40" stroke="#000" stroke-width="1.4" fill="none" />
<path d="M302.80,523.85L302.80,527.35M301.28,524.73L304.32,526.48M301.28,526.48L304.32,524.73M307.80,523.85L307.80,527.35M306.28,524.73L309.32,526.48M306.28,526.48L309.32,524.73M312.80,523.85L312.80,527.35M311.28,524.73L314.32,526.48M311.28,526.48L314.32,524.73M317.80,523.85L317.80,527.35M316.28,524.73L319.32,526.48M316.28,526.48L319.32,524.73" stroke="#111" stroke-width="0.95" fill="none" />
<path d="M268.00,545.89 L268.00,540.50 L338.50,540.50 L338.50,616.88" stroke="#000" stroke-width="1.4" fill="none" />
<text x="303.25" y="536.70" font-size="6.8" font-weight="normal" text-anchor="middle" fill="#222" font-family="Liberation Sans" >ns</text>
<path d="M268.00,554.90 L268.00,549.80 L324.40,549.80 L324.40,624.40" stroke="#000" stroke-width="1.4" fill="none" />
<path d="M293.70,542.15L293.70,545.65M292.18,543.02L295.22,544.77M292.18,544.77L295.22,543.02M298.70,542.15L298.70,545.65M297.18,543.02L300.22,544.77M297.18,544.77L300.22,543.02" stroke="#111" stroke-width="0.95" fill="none" />
<path d="M268.00,563.47 L268.00,558.60 L310.30,558.60 L310.30,600.40" stroke="#000" stroke-width="1.4" fill="none" />
<path d="M281.65,550.95L281.65,554.45M280.13,551.83L283.17,553.58M280.13,553.58L283.17,551.83M286.65,550.95L286.65,554.45M285.13,551.83L288.17,553.58M285.13,553.58L288.17,551.83M291.65,550.95L291.65,554.45M290.13,551.83L293.17,553.58M290.13,553.58L293.17,551.83M296.65,550.95L296.65,554.45M295.13,551.83L298.17,553.58M295.13,553.58L298.17,551.83" stroke="#111" stroke-width="0.95" fill="none" />
<path d="M268.00,573.50 L268.00,567.00 L296.20,567.00 L296.20,574.80" stroke="#000" stroke-width="1.4" fill="none" />
<path d="M274.60,559.35L274.60,562.85M273.08,560.23L276.12,561.98M273.08,561.98L276.12,560.23M279.60,559.35L279.60,562.85M278.08,560.23L281.12,561.98M278.08,561.98L281.12,560.23M284.60,559.35L284.60,562.85M283.08,560.23L286.12,561.98M283.08,561.98L286.12,560.23M289.60,559.35L289.60,562.85M288.08,560.23L291.12,561.98M288.08,561.98L291.12,560.23" stroke="#111" stroke-width="0.95" fill="none" />
<path d="M268.00,616.58 L268.00,580.20 L282.10,580.20 L282.10,581.52" stroke="#000" stroke-width="1.4" fill="none" />
<path d="M267.55,572.55L267.55,576.05M266.03,573.43L269.07,575.18M266.03,575.18L269.07,573.43M272.55,572.55L272.55,576.05M271.03,573.43L274.07,575.18M271.03,575.18L274.07,573.43M277.55,572.55L277.55,576.05M276.03,573.43L279.07,575.18M276.03,575.18L279.07,573.43M282.55,572.55L282.55,576.05M281.03,573.43L284.07,575.18M281.03,575.18L284.07,573.43" stroke="#111" stroke-width="0.95" fill="none" />
<text x="241.10" y="644.26" font-size="5.6" font-weight="bold" text-anchor="start" fill="#111" font-family="Liberation Sans" textLength="14.8" lengthAdjust="spacingAndGlyphs">IL-1β</text>
<text x="237.90" y="654.03" font-size="5.8" font-weight="bold" text-anchor="start" fill="#111" font-family="Liberation Sans" textLength="21.9" lengthAdjust="spacingAndGlyphs">MMP13</text>
<text x="268.00" y="644.17" font-size="5.2" font-weight="bold" text-anchor="middle" fill="#111" font-family="Liberation Sans" >+</text>
<text x="268.00" y="653.87" font-size="5.2" font-weight="bold" text-anchor="middle" fill="#111" font-family="Liberation Sans" >-</text>
<text x="282.10" y="644.17" font-size="5.2" font-weight="bold" text-anchor="middle" fill="#111" font-family="Liberation Sans" >+</text>
<text x="282.10" y="653.87" font-size="5.2" font-weight="bold" text-anchor="middle" fill="#111" font-family="Liberation Sans" >-</text>
<text x="296.20" y="644.17" font-size="5.2" font-weight="bold" text-anchor="middle" fill="#111" font-family="Liberation Sans" >+</text>
<text x="296.20" y="653.87" font-size="5.2" font-weight="bold" text-anchor="middle" fill="#111" font-family="Liberation Sans" >-</text>
<text x="310.30" y="644.17" font-size="5.2" font-weight="bold" text-anchor="middle" fill="#111" font-family="Liberation Sans" >+</text>
<text x="310.30" y="653.87" font-size="5.2" font-weight="bold" text-anchor="middle" fill="#111" font-family="Liberation Sans" >-</text>
<text x="324.40" y="644.17" font-size="5.2" font-weight="bold" text-anchor="middle" fill="#111" font-family="Liberation Sans" >+</text>
<text x="324.40" y="653.87" font-size="5.2" font-weight="bold" text-anchor="middle" fill="#111" font-family="Liberation Sans" >+</text>
<text x="338.50" y="644.17" font-size="5.2" font-weight="bold" text-anchor="middle" fill="#111" font-family="Liberation Sans" >+</text>
<text x="338.50" y="653.87" font-size="5.2" font-weight="bold" text-anchor="middle" fill="#111" font-family="Liberation Sans" >+</text>
<text x="352.60" y="644.17" font-size="5.2" font-weight="bold" text-anchor="middle" fill="#111" font-family="Liberation Sans" >+</text>
<text x="352.60" y="653.87" font-size="5.2" font-weight="bold" text-anchor="middle" fill="#111" font-family="Liberation Sans" >+</text>
<text x="366.70" y="644.17" font-size="5.2" font-weight="bold" text-anchor="middle" fill="#111" font-family="Liberation Sans" >+</text>
<text x="366.70" y="653.87" font-size="5.2" font-weight="bold" text-anchor="middle" fill="#111" font-family="Liberation Sans" >+</text>
<rect x="381.70" y="528.00" width="8.60" height="4.00" fill="#f3dde0" stroke="#222" stroke-width="0.8" />
<text x="395.10" y="532.30" font-size="6.6" font-weight="normal" text-anchor="start" fill="#333" font-family="Liberation Sans" textLength="12.0" lengthAdjust="spacingAndGlyphs">PBS</text>
<rect x="381.70" y="538.50" width="8.60" height="4.00" fill="#f2e9c6" stroke="#222" stroke-width="0.8" />
<text x="395.10" y="542.80" font-size="6.6" font-weight="normal" text-anchor="start" fill="#333" font-family="Liberation Sans" textLength="30.1" lengthAdjust="spacingAndGlyphs">ASC-Exos</text>
<rect x="381.70" y="549.00" width="8.60" height="4.00" fill="#f6f7e2" stroke="#222" stroke-width="0.8" />
<text x="395.10" y="553.30" font-size="6.6" font-weight="normal" text-anchor="start" fill="#333" font-family="Liberation Sans" textLength="41.4" lengthAdjust="spacingAndGlyphs">miR-140-Exos</text>
<rect x="381.70" y="559.50" width="8.60" height="4.00" fill="#d2ecdf" stroke="#222" stroke-width="0.8" />
<text x="395.10" y="563.80" font-size="6.6" font-weight="normal" text-anchor="start" fill="#333" font-family="Liberation Sans" textLength="54.1" lengthAdjust="spacingAndGlyphs">anti-miR-140-Exos</text>
<rect x="381.70" y="570.00" width="8.60" height="4.00" fill="#cbe8f0" stroke="#222" stroke-width="0.8" />
<text x="395.10" y="574.30" font-size="6.6" font-weight="normal" text-anchor="start" fill="#333" font-family="Liberation Sans" textLength="12.0" lengthAdjust="spacingAndGlyphs">PBS</text>
<rect x="381.70" y="580.50" width="8.60" height="4.00" fill="#a2c2de" stroke="#222" stroke-width="0.8" />
<text x="395.10" y="584.80" font-size="6.6" font-weight="normal" text-anchor="start" fill="#333" font-family="Liberation Sans" textLength="30.1" lengthAdjust="spacingAndGlyphs">ASC-Exos</text>
<rect x="381.70" y="589.50" width="8.60" height="4.00" fill="#9a9acd" stroke="#222" stroke-width="0.8" />
<text x="395.10" y="593.80" font-size="6.6" font-weight="normal" text-anchor="start" fill="#333" font-family="Liberation Sans" textLength="41.4" lengthAdjust="spacingAndGlyphs">miR-140-Exos</text>
<rect x="381.70" y="600.60" width="8.60" height="4.00" fill="#6a4b9e" stroke="#222" stroke-width="0.8" />
<text x="395.10" y="604.90" font-size="6.6" font-weight="normal" text-anchor="start" fill="#333" font-family="Liberation Sans" textLength="54.1" lengthAdjust="spacingAndGlyphs">anti-miR-140-Exos</text>
<line x1="490.80" y1="600.40" x2="490.80" y2="599.87" stroke="#000" stroke-width="0.9" />
<line x1="488.20" y1="599.87" x2="493.40" y2="599.87" stroke="#000" stroke-width="0.9" />
<rect x="486.15" y="600.40" width="9.30" height="26.30" fill="#f3dde0" stroke="#333" stroke-width="0.85" />
<line x1="505.00" y1="610.92" x2="505.00" y2="608.29" stroke="#000" stroke-width="0.9" />
<line x1="502.40" y1="608.29" x2="507.60" y2="608.29" stroke="#000" stroke-width="0.9" />
<rect x="500.35" y="610.92" width="9.30" height="15.78" fill="#f2e9c6" stroke="#333" stroke-width="0.85" />
<line x1="519.20" y1="617.23" x2="519.20" y2="616.44" stroke="#000" stroke-width="0.9" />
<line x1="516.60" y1="616.44" x2="521.80" y2="616.44" stroke="#000" stroke-width="0.9" />
<rect x="514.55" y="617.23" width="9.30" height="9.47" fill="#f6f7e2" stroke="#333" stroke-width="0.85" />
<line x1="533.40" y1="604.35" x2="533.40" y2="603.03" stroke="#000" stroke-width="0.9" />
<line x1="530.80" y1="603.03" x2="536.00" y2="603.03" stroke="#000" stroke-width="0.9" />
<rect x="528.75" y="604.35" width="9.30" height="22.36" fill="#d2ecdf" stroke="#333" stroke-width="0.85" />
<line x1="547.60" y1="578.57" x2="547.60" y2="576.47" stroke="#000" stroke-width="0.9" />
<line x1="545.00" y1="576.47" x2="550.20" y2="576.47" stroke="#000" stroke-width="0.9" />
<rect x="542.95" y="578.57" width="9.30" height="48.13" fill="#cbe8f0" stroke="#333" stroke-width="0.85" />
<line x1="561.80" y1="599.87" x2="561.80" y2="597.24" stroke="#000" stroke-width="0.9" />
<line x1="559.20" y1="597.24" x2="564.40" y2="597.24" stroke="#000" stroke-width="0.9" />
<rect x="557.15" y="599.87" width="9.30" height="26.83" fill="#a2c2de" stroke="#333" stroke-width="0.85" />
<line x1="576.00" y1="612.24" x2="576.00" y2="609.61" stroke="#000" stroke-width="0.9" />
<line x1="573.40" y1="609.61" x2="578.60" y2="609.61" stroke="#000" stroke-width="0.9" />
<rect x="571.35" y="612.24" width="9.30" height="14.47" fill="#9a9acd" stroke="#333" stroke-width="0.85" />
<line x1="590.20" y1="595.14" x2="590.20" y2="591.72" stroke="#000" stroke-width="0.9" />
<line x1="587.60" y1="591.72" x2="592.80" y2="591.72" stroke="#000" stroke-width="0.9" />
<rect x="585.55" y="595.14" width="9.30" height="31.56" fill="#6a4b9e" stroke="#333" stroke-width="0.85" />
<line x1="481.40" y1="547.30" x2="481.40" y2="627.50" stroke="#000" stroke-width="1.7" />
<line x1="480.60" y1="626.70" x2="600.20" y2="626.70" stroke="#000" stroke-width="1.6" />
<line x1="478.20" y1="626.70" x2="481.40" y2="626.70" stroke="#000" stroke-width="1.3" />
<text x="477.80" y="628.72" font-size="5.6" font-weight="bold" text-anchor="end" fill="#222" font-family="Liberation Sans" >0</text>
<line x1="478.20" y1="600.40" x2="481.40" y2="600.40" stroke="#000" stroke-width="1.3" />
<text x="477.80" y="602.42" font-size="5.6" font-weight="bold" text-anchor="end" fill="#222" font-family="Liberation Sans" >1</text>
<line x1="478.20" y1="574.10" x2="481.40" y2="574.10" stroke="#000" stroke-width="1.3" />
<text x="477.80" y="576.12" font-size="5.6" font-weight="bold" text-anchor="end" fill="#222" font-family="Liberation Sans" >2</text>
<line x1="478.20" y1="547.80" x2="481.40" y2="547.80" stroke="#000" stroke-width="1.3" />
<text x="477.80" y="549.82" font-size="5.6" font-weight="bold" text-anchor="end" fill="#222" font-family="Liberation Sans" >3</text>
<line x1="490.80" y1="626.70" x2="490.80" y2="629.90" stroke="#000" stroke-width="1.1" />
<line x1="505.00" y1="626.70" x2="505.00" y2="629.90" stroke="#000" stroke-width="1.1" />
<line x1="519.20" y1="626.70" x2="519.20" y2="629.90" stroke="#000" stroke-width="1.1" />
<line x1="533.40" y1="626.70" x2="533.40" y2="629.90" stroke="#000" stroke-width="1.1" />
<line x1="547.60" y1="626.70" x2="547.60" y2="629.90" stroke="#000" stroke-width="1.1" />
<line x1="561.80" y1="626.70" x2="561.80" y2="629.90" stroke="#000" stroke-width="1.1" />
<line x1="576.00" y1="626.70" x2="576.00" y2="629.90" stroke="#000" stroke-width="1.1" />
<line x1="590.20" y1="626.70" x2="590.20" y2="629.90" stroke="#000" stroke-width="1.1" />
<text x="0.00" y="0.00" font-size="6.2" font-weight="bold" text-anchor="middle" fill="#111" font-family="Liberation Sans" transform="translate(470.11,586.8) rotate(-90)" textLength="79.4" lengthAdjust="spacingAndGlyphs">Relative expression level</text>
<text x="540.60" y="508.40" font-size="7.6" font-weight="bold" text-anchor="middle" fill="#111" font-family="Liberation Sans" >NLRP3</text>
<path d="M490.80,530.93 L490.80,524.90 L590.20,524.90 L590.20,589.52" stroke="#000" stroke-width="1.4" fill="none" />
<path d="M540.50,517.25L540.50,520.75M538.98,518.12L542.02,519.88M538.98,519.88L542.02,518.12" stroke="#111" stroke-width="0.95" fill="none" />
<path d="M490.80,541.80 L490.80,535.30 L576.00,535.30 L576.00,607.40" stroke="#000" stroke-width="1.4" fill="none" />
<path d="M525.90,527.65L525.90,531.15M524.38,528.52L527.42,530.27M524.38,530.27L527.42,528.52M530.90,527.65L530.90,531.15M529.38,528.52L532.42,530.27M529.38,530.27L532.42,528.52M535.90,527.65L535.90,531.15M534.38,528.52L537.42,530.27M534.38,530.27L537.42,528.52M540.90,527.65L540.90,531.15M539.38,528.52L542.42,530.27M539.38,530.27L542.42,528.52" stroke="#111" stroke-width="0.95" fill="none" />
<path d="M490.80,551.86 L490.80,546.70 L561.80,546.70 L561.80,595.04" stroke="#000" stroke-width="1.4" fill="none" />
<text x="526.30" y="542.90" font-size="6.8" font-weight="normal" text-anchor="middle" fill="#222" font-family="Liberation Sans" >ns</text>
<path d="M490.80,562.10 L490.80,555.60 L547.60,555.60 L547.60,574.27" stroke="#000" stroke-width="1.4" fill="none" />
<path d="M511.70,547.95L511.70,551.45M510.18,548.83L513.22,550.58M510.18,550.58L513.22,548.83M516.70,547.95L516.70,551.45M515.18,548.83L518.22,550.58M515.18,550.58L518.22,548.83M521.70,547.95L521.70,551.45M520.18,548.83L523.22,550.58M520.18,550.58L523.22,548.83M526.70,547.95L526.70,551.45M525.18,548.83L528.22,550.58M525.18,550.58L528.22,548.83" stroke="#111" stroke-width="0.95" fill="none" />
<path d="M490.80,573.50 L490.80,567.00 L533.40,567.00 L533.40,600.83" stroke="#000" stroke-width="1.4" fill="none" />
<text x="512.10" y="563.20" font-size="6.8" font-weight="normal" text-anchor="middle" fill="#222" font-family="Liberation Sans" >ns</text>
<path d="M490.80,585.90 L490.80,579.40 L519.20,579.40 L519.20,614.24" stroke="#000" stroke-width="1.4" fill="none" />
<path d="M497.50,571.75L497.50,575.25M495.98,572.62L499.02,574.38M495.98,574.38L499.02,572.62M502.50,571.75L502.50,575.25M500.98,572.62L504.02,574.38M500.98,574.38L504.02,572.62M507.50,571.75L507.50,575.25M505.98,572.62L509.02,574.38M505.98,574.38L509.02,572.62M512.50,571.75L512.50,575.25M510.98,572.62L514.02,574.38M510.98,574.38L514.02,572.62" stroke="#111" stroke-width="0.95" fill="none" />
<path d="M490.80,597.37 L490.80,592.20 L505.00,592.20 L505.00,606.09" stroke="#000" stroke-width="1.4" fill="none" />
<path d="M490.40,584.55L490.40,588.05M488.88,585.43L491.92,587.18M488.88,587.18L491.92,585.43M495.40,584.55L495.40,588.05M493.88,585.43L496.92,587.18M493.88,587.18L496.92,585.43M500.40,584.55L500.40,588.05M498.88,585.43L501.92,587.18M498.88,587.18L501.92,585.43M505.40,584.55L505.40,588.05M503.88,585.43L506.92,587.18M503.88,587.18L506.92,585.43" stroke="#111" stroke-width="0.95" fill="none" />
<text x="464.10" y="640.55" font-size="7.0" font-weight="bold" text-anchor="start" fill="#111" font-family="Liberation Sans" textLength="15.7" lengthAdjust="spacingAndGlyphs">IL-1β</text>
<text x="461.10" y="652.41" font-size="6.6" font-weight="bold" text-anchor="start" fill="#111" font-family="Liberation Sans" textLength="22.2" lengthAdjust="spacingAndGlyphs">MMP13</text>
<text x="490.80" y="640.62" font-size="7.0" font-weight="bold" text-anchor="middle" fill="#111" font-family="Liberation Sans" >+</text>
<text x="490.80" y="652.62" font-size="7.0" font-weight="bold" text-anchor="middle" fill="#111" font-family="Liberation Sans" >-</text>
<text x="505.00" y="640.62" font-size="7.0" font-weight="bold" text-anchor="middle" fill="#111" font-family="Liberation Sans" >+</text>
<text x="505.00" y="652.62" font-size="7.0" font-weight="bold" text-anchor="middle" fill="#111" font-family="Liberation Sans" >-</text>
<text x="519.20" y="640.62" font-size="7.0" font-weight="bold" text-anchor="middle" fill="#111" font-family="Liberation Sans" >+</text>
<text x="519.20" y="652.62" font-size="7.0" font-weight="bold" text-anchor="middle" fill="#111" font-family="Liberation Sans" >-</text>
<text x="533.40" y="640.62" font-size="7.0" font-weight="bold" text-anchor="middle" fill="#111" font-family="Liberation Sans" >+</text>
<text x="533.40" y="652.62" font-size="7.0" font-weight="bold" text-anchor="middle" fill="#111" font-family="Liberation Sans" >-</text>
<text x="547.60" y="640.62" font-size="7.0" font-weight="bold" text-anchor="middle" fill="#111" font-family="Liberation Sans" >+</text>
<text x="547.60" y="652.62" font-size="7.0" font-weight="bold" text-anchor="middle" fill="#111" font-family="Liberation Sans" >+</text>
<text x="561.80" y="640.62" font-size="7.0" font-weight="bold" text-anchor="middle" fill="#111" font-family="Liberation Sans" >+</text>
<text x="561.80" y="652.62" font-size="7.0" font-weight="bold" text-anchor="middle" fill="#111" font-family="Liberation Sans" >+</text>
<text x="576.00" y="640.62" font-size="7.0" font-weight="bold" text-anchor="middle" fill="#111" font-family="Liberation Sans" >+</text>
<text x="576.00" y="652.62" font-size="7.0" font-weight="bold" text-anchor="middle" fill="#111" font-family="Liberation Sans" >+</text>
<text x="590.20" y="640.62" font-size="7.0" font-weight="bold" text-anchor="middle" fill="#111" font-family="Liberation Sans" >+</text>
<text x="590.20" y="652.62" font-size="7.0" font-weight="bold" text-anchor="middle" fill="#111" font-family="Liberation Sans" >+</text>
<rect x="602.20" y="523.40" width="8.60" height="4.00" fill="#f3dde0" stroke="#222" stroke-width="0.8" />
<text x="615.40" y="527.70" font-size="6.6" font-weight="normal" text-anchor="start" fill="#333" font-family="Liberation Sans" textLength="12.0" lengthAdjust="spacingAndGlyphs">PBS</text>
<rect x="602.20" y="533.90" width="8.60" height="4.00" fill="#f2e9c6" stroke="#222" stroke-width="0.8" />
<text x="615.40" y="538.20" font-size="6.6" font-weight="normal" text-anchor="start" fill="#333" font-family="Liberation Sans" textLength="30.3" lengthAdjust="spacingAndGlyphs">ASC-Exos</text>
<rect x="602.20" y="544.40" width="8.60" height="4.00" fill="#f6f7e2" stroke="#222" stroke-width="0.8" />
<text x="615.40" y="548.70" font-size="6.6" font-weight="normal" text-anchor="start" fill="#333" font-family="Liberation Sans" textLength="41.5" lengthAdjust="spacingAndGlyphs">miR-140-Exos</text>
<rect x="602.20" y="554.90" width="8.60" height="4.00" fill="#d2ecdf" stroke="#222" stroke-width="0.8" />
<text x="615.40" y="559.20" font-size="6.6" font-weight="normal" text-anchor="start" fill="#333" font-family="Liberation Sans" textLength="54.3" lengthAdjust="spacingAndGlyphs">anti-miR-140-Exos</text>
<rect x="602.20" y="565.40" width="8.60" height="4.00" fill="#cbe8f0" stroke="#222" stroke-width="0.8" />
<text x="615.40" y="569.70" font-size="6.6" font-weight="normal" text-anchor="start" fill="#333" font-family="Liberation Sans" textLength="12.0" lengthAdjust="spacingAndGlyphs">PBS</text>
<rect x="602.20" y="575.90" width="8.60" height="4.00" fill="#a2c2de" stroke="#222" stroke-width="0.8" />
<text x="615.40" y="580.20" font-size="6.6" font-weight="normal" text-anchor="start" fill="#333" font-family="Liberation Sans" textLength="30.3" lengthAdjust="spacingAndGlyphs">ASC-Exos</text>
<rect x="602.20" y="584.90" width="8.60" height="4.00" fill="#9a9acd" stroke="#222" stroke-width="0.8" />
<text x="615.40" y="589.20" font-size="6.6" font-weight="normal" text-anchor="start" fill="#333" font-family="Liberation Sans" textLength="41.5" lengthAdjust="spacingAndGlyphs">miR-140-Exos</text>
<rect x="602.20" y="596.00" width="8.60" height="4.00" fill="#6a4b9e" stroke="#222" stroke-width="0.8" />
<text x="615.40" y="600.30" font-size="6.6" font-weight="normal" text-anchor="start" fill="#333" font-family="Liberation Sans" textLength="54.3" lengthAdjust="spacingAndGlyphs">anti-miR-140-Exos</text>
<line x1="60.90" y1="788.84" x2="60.90" y2="786.52" stroke="#000" stroke-width="1.0" />
<line x1="57.40" y1="786.52" x2="64.40" y2="786.52" stroke="#000" stroke-width="1.0" />
<rect x="53.40" y="788.84" width="15.00" height="12.66" fill="#f5f7e4" stroke="#444" stroke-width="0.9" />
<line x1="83.60" y1="732.29" x2="83.60" y2="731.87" stroke="#000" stroke-width="1.0" />
<line x1="80.10" y1="731.87" x2="87.10" y2="731.87" stroke="#000" stroke-width="1.0" />
<rect x="76.10" y="732.29" width="15.00" height="69.21" fill="#d2ecdf" stroke="#444" stroke-width="0.9" />
<line x1="106.30" y1="776.50" x2="106.30" y2="775.12" stroke="#000" stroke-width="1.0" />
<line x1="102.80" y1="775.12" x2="109.80" y2="775.12" stroke="#000" stroke-width="1.0" />
<rect x="98.80" y="776.50" width="15.00" height="25.00" fill="#cce9f1" stroke="#444" stroke-width="0.9" />
<line x1="129.00" y1="783.57" x2="129.00" y2="781.03" stroke="#000" stroke-width="1.0" />
<line x1="125.50" y1="781.03" x2="132.50" y2="781.03" stroke="#000" stroke-width="1.0" />
<rect x="121.50" y="783.57" width="15.00" height="17.93" fill="#a3c3e1" stroke="#444" stroke-width="0.9" />
<line x1="151.70" y1="758.67" x2="151.70" y2="756.01" stroke="#000" stroke-width="1.0" />
<line x1="148.20" y1="756.01" x2="155.20" y2="756.01" stroke="#000" stroke-width="1.0" />
<rect x="144.20" y="758.67" width="15.00" height="42.83" fill="#8b8bc6" stroke="#444" stroke-width="0.9" />
<line x1="46.20" y1="716.30" x2="46.20" y2="802.60" stroke="#000" stroke-width="2.3" />
<line x1="45.20" y1="801.50" x2="168.00" y2="801.50" stroke="#000" stroke-width="2.2" />
<line x1="41.20" y1="801.50" x2="46.20" y2="801.50" stroke="#000" stroke-width="1.8" />
<text x="41.00" y="803.20" font-size="5.0" font-weight="bold" text-anchor="end" fill="#222" font-family="Liberation Sans" >0</text>
<line x1="41.20" y1="780.40" x2="46.20" y2="780.40" stroke="#000" stroke-width="1.8" />
<text x="41.00" y="782.10" font-size="5.0" font-weight="bold" text-anchor="end" fill="#222" font-family="Liberation Sans" textLength="9.0" lengthAdjust="spacingAndGlyphs">100</text>
<line x1="41.20" y1="759.30" x2="46.20" y2="759.30" stroke="#000" stroke-width="1.8" />
<text x="41.00" y="761.00" font-size="5.0" font-weight="bold" text-anchor="end" fill="#222" font-family="Liberation Sans" textLength="9.0" lengthAdjust="spacingAndGlyphs">200</text>
<line x1="41.20" y1="738.20" x2="46.20" y2="738.20" stroke="#000" stroke-width="1.8" />
<text x="41.00" y="739.90" font-size="5.0" font-weight="bold" text-anchor="end" fill="#222" font-family="Liberation Sans" textLength="9.0" lengthAdjust="spacingAndGlyphs">300</text>
<line x1="41.20" y1="717.10" x2="46.20" y2="717.10" stroke="#000" stroke-width="1.8" />
<text x="41.00" y="718.80" font-size="5.0" font-weight="bold" text-anchor="end" fill="#222" font-family="Liberation Sans" textLength="9.0" lengthAdjust="spacingAndGlyphs">400</text>
<line x1="60.90" y1="801.50" x2="60.90" y2="804.50" stroke="#000" stroke-width="1.2" />
<text x="60.90" y="809.60" font-size="5.5" font-weight="bold" text-anchor="middle" fill="#222" font-family="Liberation Sans" >+</text>
<line x1="83.60" y1="801.50" x2="83.60" y2="804.50" stroke="#000" stroke-width="1.2" />
<text x="83.60" y="809.60" font-size="5.5" font-weight="bold" text-anchor="middle" fill="#222" font-family="Liberation Sans" >+</text>
<line x1="106.30" y1="801.50" x2="106.30" y2="804.50" stroke="#000" stroke-width="1.2" />
<text x="106.30" y="809.60" font-size="5.5" font-weight="bold" text-anchor="middle" fill="#222" font-family="Liberation Sans" >+</text>
<line x1="129.00" y1="801.50" x2="129.00" y2="804.50" stroke="#000" stroke-width="1.2" />
<text x="129.00" y="809.60" font-size="5.5" font-weight="bold" text-anchor="middle" fill="#222" font-family="Liberation Sans" >+</text>
<line x1="151.70" y1="801.50" x2="151.70" y2="804.50" stroke="#000" stroke-width="1.2" />
<text x="151.70" y="809.60" font-size="5.5" font-weight="bold" text-anchor="middle" fill="#222" font-family="Liberation Sans" >+</text>
<text x="0.00" y="0.00" font-size="5.6" font-weight="bold" text-anchor="middle" fill="#111" font-family="Liberation Sans" transform="translate(27.7,759.2) rotate(-90)" textLength="25.5" lengthAdjust="spacingAndGlyphs">IL-6[pg/ml]</text>
<text x="105.30" y="678.00" font-size="9.0" font-weight="bold" text-anchor="middle" fill="#111" font-family="Liberation Sans" >IL-6</text>
<path d="M60.90,783.80 L60.90,724.40 L83.60,724.40 L83.60,729.37" stroke="#000" stroke-width="1.5" fill="none" />
<path d="M64.45,718.60L64.45,721.60M63.15,719.35L65.75,720.85M63.15,720.85L65.75,719.35M69.65,718.60L69.65,721.60M68.35,719.35L70.95,720.85M68.35,720.85L70.95,719.35M74.85,718.60L74.85,721.60M73.55,719.35L76.15,720.85M73.55,720.85L76.15,719.35M80.05,718.60L80.05,721.60M78.75,719.35L81.35,720.85M78.75,720.85L81.35,719.35" stroke="#111" stroke-width="0.9" fill="none" />
<path d="M60.90,715.60 L60.90,712.80 L106.30,712.80 L106.30,772.62" stroke="#000" stroke-width="1.5" fill="none" />
<path d="M75.80,707.00L75.80,710.00M74.50,707.75L77.10,709.25M74.50,709.25L77.10,707.75M81.00,707.00L81.00,710.00M79.70,707.75L82.30,709.25M79.70,709.25L82.30,707.75M86.20,707.00L86.20,710.00M84.90,707.75L87.50,709.25M84.90,709.25L87.50,707.75M91.40,707.00L91.40,710.00M90.10,707.75L92.70,709.25M90.10,709.25L92.70,707.75" stroke="#111" stroke-width="0.9" fill="none" />
<path d="M60.90,710.00 L60.90,700.00 L129.00,700.00 L129.00,778.53" stroke="#000" stroke-width="1.5" fill="none" />
<path d="M94.95,693.90L94.95,696.90M93.65,694.65L96.25,696.15M93.65,696.15L96.25,694.65" stroke="#111" stroke-width="0.9" fill="none" />
<path d="M60.90,696.90 L60.90,687.50 L151.70,687.50 L151.70,753.51" stroke="#000" stroke-width="1.5" fill="none" />
<path d="M98.50,681.70L98.50,684.70M97.20,682.45L99.80,683.95M97.20,683.95L99.80,682.45M103.70,681.70L103.70,684.70M102.40,682.45L105.00,683.95M102.40,683.95L105.00,682.45M108.90,681.70L108.90,684.70M107.60,682.45L110.20,683.95M107.60,683.95L110.20,682.45M114.10,681.70L114.10,684.70M112.80,682.45L115.40,683.95M112.80,683.95L115.40,682.45" stroke="#111" stroke-width="0.9" fill="none" />
<text x="24.80" y="810.20" font-size="7.8" font-weight="bold" text-anchor="start" fill="#111" font-family="Liberation Sans" textLength="20.1" lengthAdjust="spacingAndGlyphs">IL-1β</text>
<rect x="164.00" y="694.50" width="9.00" height="3.80" fill="#f5f7e4" stroke="#333" stroke-width="0.8" />
<text x="177.70" y="698.40" font-size="5.6" font-weight="normal" text-anchor="start" fill="#444" font-family="Liberation Sans" textLength="12.2" lengthAdjust="spacingAndGlyphs">PBS</text>
<rect x="164.00" y="702.20" width="9.00" height="3.80" fill="#d2ecdf" stroke="#333" stroke-width="0.8" />
<text x="177.70" y="706.10" font-size="5.6" font-weight="normal" text-anchor="start" fill="#444" font-family="Liberation Sans" textLength="12.2" lengthAdjust="spacingAndGlyphs">PBS</text>
<rect x="164.00" y="710.20" width="9.00" height="3.80" fill="#cce9f1" stroke="#333" stroke-width="0.8" />
<text x="177.70" y="714.10" font-size="5.6" font-weight="normal" text-anchor="start" fill="#444" font-family="Liberation Sans" textLength="30.6" lengthAdjust="spacingAndGlyphs">ASC-Exos</text>
<rect x="164.00" y="718.20" width="9.00" height="3.80" fill="#a3c3e1" stroke="#333" stroke-width="0.8" />
<text x="177.70" y="722.10" font-size="5.6" font-weight="normal" text-anchor="start" fill="#444" font-family="Liberation Sans" textLength="42.1" lengthAdjust="spacingAndGlyphs">miR-140-Exos</text>
<rect x="164.00" y="726.00" width="9.00" height="3.80" fill="#8b8bc6" stroke="#333" stroke-width="0.8" />
<text x="177.70" y="729.90" font-size="5.6" font-weight="normal" text-anchor="start" fill="#444" font-family="Liberation Sans" textLength="55.0" lengthAdjust="spacingAndGlyphs">anti-miR-140-Exos</text>
<line x1="281.40" y1="787.70" x2="281.40" y2="787.30" stroke="#000" stroke-width="1.0" />
<line x1="277.90" y1="787.30" x2="284.90" y2="787.30" stroke="#000" stroke-width="1.0" />
<rect x="274.30" y="787.70" width="14.20" height="10.60" fill="#f5f7e4" stroke="#444" stroke-width="0.9" />
<line x1="302.90" y1="730.90" x2="302.90" y2="728.40" stroke="#000" stroke-width="1.0" />
<line x1="299.40" y1="728.40" x2="306.40" y2="728.40" stroke="#000" stroke-width="1.0" />
<rect x="295.80" y="730.90" width="14.20" height="67.40" fill="#d2ecdf" stroke="#444" stroke-width="0.9" />
<line x1="324.40" y1="774.90" x2="324.40" y2="773.90" stroke="#000" stroke-width="1.0" />
<line x1="320.90" y1="773.90" x2="327.90" y2="773.90" stroke="#000" stroke-width="1.0" />
<rect x="317.30" y="774.90" width="14.20" height="23.40" fill="#cce9f1" stroke="#444" stroke-width="0.9" />
<line x1="345.90" y1="783.30" x2="345.90" y2="782.30" stroke="#000" stroke-width="1.0" />
<line x1="342.40" y1="782.30" x2="349.40" y2="782.30" stroke="#000" stroke-width="1.0" />
<rect x="338.80" y="783.30" width="14.20" height="15.00" fill="#a3c3e1" stroke="#444" stroke-width="0.9" />
<line x1="367.40" y1="762.50" x2="367.40" y2="759.50" stroke="#000" stroke-width="1.0" />
<line x1="363.90" y1="759.50" x2="370.90" y2="759.50" stroke="#000" stroke-width="1.0" />
<rect x="360.30" y="762.50" width="14.20" height="35.80" fill="#8b8bc6" stroke="#444" stroke-width="0.9" />
<line x1="267.10" y1="717.50" x2="267.10" y2="799.40" stroke="#000" stroke-width="2.3" />
<line x1="266.10" y1="798.30" x2="380.00" y2="798.30" stroke="#000" stroke-width="2.2" />
<line x1="262.10" y1="798.30" x2="267.10" y2="798.30" stroke="#000" stroke-width="1.8" />
<text x="261.90" y="800.00" font-size="5.0" font-weight="bold" text-anchor="end" fill="#222" font-family="Liberation Sans" >0</text>
<line x1="262.10" y1="778.30" x2="267.10" y2="778.30" stroke="#000" stroke-width="1.8" />
<text x="261.90" y="780.00" font-size="5.0" font-weight="bold" text-anchor="end" fill="#222" font-family="Liberation Sans" textLength="9.0" lengthAdjust="spacingAndGlyphs">100</text>
<line x1="262.10" y1="758.30" x2="267.10" y2="758.30" stroke="#000" stroke-width="1.8" />
<text x="261.90" y="760.00" font-size="5.0" font-weight="bold" text-anchor="end" fill="#222" font-family="Liberation Sans" textLength="9.0" lengthAdjust="spacingAndGlyphs">200</text>
<line x1="262.10" y1="738.30" x2="267.10" y2="738.30" stroke="#000" stroke-width="1.8" />
<text x="261.90" y="740.00" font-size="5.0" font-weight="bold" text-anchor="end" fill="#222" font-family="Liberation Sans" textLength="9.0" lengthAdjust="spacingAndGlyphs">300</text>
<line x1="262.10" y1="718.30" x2="267.10" y2="718.30" stroke="#000" stroke-width="1.8" />
<text x="261.90" y="720.00" font-size="5.0" font-weight="bold" text-anchor="end" fill="#222" font-family="Liberation Sans" textLength="9.0" lengthAdjust="spacingAndGlyphs">400</text>
<line x1="281.40" y1="798.30" x2="281.40" y2="801.30" stroke="#000" stroke-width="1.2" />
<text x="281.40" y="806.30" font-size="5.5" font-weight="bold" text-anchor="middle" fill="#222" font-family="Liberation Sans" >+</text>
<line x1="302.90" y1="798.30" x2="302.90" y2="801.30" stroke="#000" stroke-width="1.2" />
<text x="302.90" y="806.30" font-size="5.5" font-weight="bold" text-anchor="middle" fill="#222" font-family="Liberation Sans" >+</text>
<line x1="324.40" y1="798.30" x2="324.40" y2="801.30" stroke="#000" stroke-width="1.2" />
<text x="324.40" y="806.30" font-size="5.5" font-weight="bold" text-anchor="middle" fill="#222" font-family="Liberation Sans" >+</text>
<line x1="345.90" y1="798.30" x2="345.90" y2="801.30" stroke="#000" stroke-width="1.2" />
<text x="345.90" y="806.30" font-size="5.5" font-weight="bold" text-anchor="middle" fill="#222" font-family="Liberation Sans" >+</text>
<line x1="367.40" y1="798.30" x2="367.40" y2="801.30" stroke="#000" stroke-width="1.2" />
<text x="367.40" y="806.30" font-size="5.5" font-weight="bold" text-anchor="middle" fill="#222" font-family="Liberation Sans" >+</text>
<text x="0.00" y="0.00" font-size="5.6" font-weight="bold" text-anchor="middle" fill="#111" font-family="Liberation Sans" transform="translate(249.9,758.1) rotate(-90)" textLength="28.7" lengthAdjust="spacingAndGlyphs">TNF-α[pg/ml]</text>
<text x="324.40" y="677.90" font-size="9.0" font-weight="bold" text-anchor="middle" fill="#111" font-family="Liberation Sans" >TNF-α</text>
<path d="M281.40,784.40 L281.40,721.60 L302.90,721.60 L302.90,725.90" stroke="#000" stroke-width="1.5" fill="none" />
<path d="M284.35,715.80L284.35,718.80M283.05,716.55L285.65,718.05M283.05,718.05L285.65,716.55M289.55,715.80L289.55,718.80M288.25,716.55L290.85,718.05M288.25,718.05L290.85,716.55M294.75,715.80L294.75,718.80M293.45,716.55L296.05,718.05M293.45,718.05L296.05,716.55M299.95,715.80L299.95,718.80M298.65,716.55L301.25,718.05M298.65,718.05L301.25,716.55" stroke="#111" stroke-width="0.9" fill="none" />
<path d="M281.40,713.50 L281.40,709.80 L324.40,709.80 L324.40,771.40" stroke="#000" stroke-width="1.5" fill="none" />
<path d="M295.10,704.00L295.10,707.00M293.80,704.75L296.40,706.25M293.80,706.25L296.40,704.75M300.30,704.00L300.30,707.00M299.00,704.75L301.60,706.25M299.00,706.25L301.60,704.75M305.50,704.00L305.50,707.00M304.20,704.75L306.80,706.25M304.20,706.25L306.80,704.75M310.70,704.00L310.70,707.00M309.40,704.75L312.00,706.25M309.40,706.25L312.00,704.75" stroke="#111" stroke-width="0.9" fill="none" />
<path d="M281.40,706.90 L281.40,698.10 L345.90,698.10 L345.90,779.80" stroke="#000" stroke-width="1.5" fill="none" />
<path d="M313.65,692.00L313.65,695.00M312.35,692.75L314.95,694.25M312.35,694.25L314.95,692.75" stroke="#111" stroke-width="0.9" fill="none" />
<path d="M281.40,695.60 L281.40,686.00 L367.40,686.00 L367.40,757.00" stroke="#000" stroke-width="1.5" fill="none" />
<path d="M316.60,680.20L316.60,683.20M315.30,680.95L317.90,682.45M315.30,682.45L317.90,680.95M321.80,680.20L321.80,683.20M320.50,680.95L323.10,682.45M320.50,682.45L323.10,680.95M327.00,680.20L327.00,683.20M325.70,680.95L328.30,682.45M325.70,682.45L328.30,680.95M332.20,680.20L332.20,683.20M330.90,680.95L333.50,682.45M330.90,682.45L333.50,680.95" stroke="#111" stroke-width="0.9" fill="none" />
<text x="247.20" y="806.90" font-size="7.8" font-weight="bold" text-anchor="start" fill="#111" font-family="Liberation Sans" textLength="18.8" lengthAdjust="spacingAndGlyphs">IL-1β</text>
<rect x="382.80" y="693.40" width="9.00" height="3.80" fill="#f5f7e4" stroke="#333" stroke-width="0.8" />
<text x="395.20" y="697.30" font-size="5.6" font-weight="normal" text-anchor="start" fill="#444" font-family="Liberation Sans" textLength="11.4" lengthAdjust="spacingAndGlyphs">PBS</text>
<rect x="382.80" y="701.10" width="9.00" height="3.80" fill="#d2ecdf" stroke="#333" stroke-width="0.8" />
<text x="395.20" y="705.00" font-size="5.6" font-weight="normal" text-anchor="start" fill="#444" font-family="Liberation Sans" textLength="11.4" lengthAdjust="spacingAndGlyphs">PBS</text>
<rect x="382.80" y="708.50" width="9.00" height="3.80" fill="#cce9f1" stroke="#333" stroke-width="0.8" />
<text x="395.20" y="712.40" font-size="5.6" font-weight="normal" text-anchor="start" fill="#444" font-family="Liberation Sans" textLength="28.6" lengthAdjust="spacingAndGlyphs">ASC-Exos</text>
<rect x="382.80" y="715.90" width="9.00" height="3.80" fill="#a3c3e1" stroke="#333" stroke-width="0.8" />
<text x="395.20" y="719.80" font-size="5.6" font-weight="normal" text-anchor="start" fill="#444" font-family="Liberation Sans" textLength="39.2" lengthAdjust="spacingAndGlyphs">miR-140-Exos</text>
<rect x="382.80" y="723.60" width="9.00" height="3.80" fill="#8b8bc6" stroke="#333" stroke-width="0.8" />
<text x="395.20" y="727.50" font-size="5.6" font-weight="normal" text-anchor="start" fill="#444" font-family="Liberation Sans" textLength="51.3" lengthAdjust="spacingAndGlyphs">anti-miR-140-Exos</text>
<line x1="471.50" y1="783.50" x2="471.50" y2="782.07" stroke="#000" stroke-width="0.9" />
<line x1="469.00" y1="782.07" x2="474.00" y2="782.07" stroke="#000" stroke-width="0.9" />
<rect x="467.40" y="783.50" width="8.20" height="23.80" fill="#f3dde0" stroke="#333" stroke-width="0.85" />
<line x1="485.40" y1="794.45" x2="485.40" y2="793.50" stroke="#000" stroke-width="0.9" />
<line x1="482.90" y1="793.50" x2="487.90" y2="793.50" stroke="#000" stroke-width="0.9" />
<rect x="481.30" y="794.45" width="8.20" height="12.85" fill="#f2e9c6" stroke="#333" stroke-width="0.85" />
<line x1="499.00" y1="798.97" x2="499.00" y2="797.78" stroke="#000" stroke-width="0.9" />
<line x1="496.50" y1="797.78" x2="501.50" y2="797.78" stroke="#000" stroke-width="0.9" />
<rect x="494.90" y="798.97" width="8.20" height="8.33" fill="#f6f7e2" stroke="#333" stroke-width="0.85" />
<line x1="513.00" y1="763.75" x2="513.00" y2="762.32" stroke="#000" stroke-width="0.9" />
<line x1="510.50" y1="762.32" x2="515.50" y2="762.32" stroke="#000" stroke-width="0.9" />
<rect x="508.90" y="763.75" width="8.20" height="43.55" fill="#d2ecdf" stroke="#333" stroke-width="0.85" />
<line x1="526.60" y1="766.36" x2="526.60" y2="763.98" stroke="#000" stroke-width="0.9" />
<line x1="524.10" y1="763.98" x2="529.10" y2="763.98" stroke="#000" stroke-width="0.9" />
<rect x="522.50" y="766.36" width="8.20" height="40.94" fill="#cbe8f0" stroke="#333" stroke-width="0.85" />
<line x1="540.60" y1="789.69" x2="540.60" y2="788.74" stroke="#000" stroke-width="0.9" />
<line x1="538.10" y1="788.74" x2="543.10" y2="788.74" stroke="#000" stroke-width="0.9" />
<rect x="536.50" y="789.69" width="8.20" height="17.61" fill="#6a4b9e" stroke="#333" stroke-width="0.85" />
<line x1="554.40" y1="794.69" x2="554.40" y2="792.54" stroke="#000" stroke-width="0.9" />
<line x1="551.90" y1="792.54" x2="556.90" y2="792.54" stroke="#000" stroke-width="0.9" />
<rect x="550.30" y="794.69" width="8.20" height="12.61" fill="#a8cbe8" stroke="#333" stroke-width="0.85" />
<line x1="567.90" y1="770.41" x2="567.90" y2="768.98" stroke="#000" stroke-width="0.9" />
<line x1="565.40" y1="768.98" x2="570.40" y2="768.98" stroke="#000" stroke-width="0.9" />
<rect x="563.80" y="770.41" width="8.20" height="36.89" fill="#f3dde0" stroke="#333" stroke-width="0.85" />
<line x1="581.50" y1="773.27" x2="581.50" y2="771.84" stroke="#000" stroke-width="0.9" />
<line x1="579.00" y1="771.84" x2="584.00" y2="771.84" stroke="#000" stroke-width="0.9" />
<rect x="577.40" y="773.27" width="8.20" height="34.03" fill="#9a9acd" stroke="#333" stroke-width="0.85" />
<line x1="462.20" y1="735.90" x2="462.20" y2="808.00" stroke="#000" stroke-width="1.3" />
<line x1="461.60" y1="807.30" x2="591.80" y2="807.30" stroke="#000" stroke-width="1.5" />
<line x1="459.60" y1="807.30" x2="462.20" y2="807.30" stroke="#000" stroke-width="1.1" />
<text x="458.80" y="809.60" font-size="6.4" font-weight="bold" text-anchor="end" fill="#222" font-family="Liberation Sans" >0</text>
<line x1="459.60" y1="783.50" x2="462.20" y2="783.50" stroke="#000" stroke-width="1.1" />
<text x="458.80" y="785.80" font-size="6.4" font-weight="bold" text-anchor="end" fill="#222" font-family="Liberation Sans" >1</text>
<line x1="459.60" y1="759.70" x2="462.20" y2="759.70" stroke="#000" stroke-width="1.1" />
<text x="458.80" y="762.00" font-size="6.4" font-weight="bold" text-anchor="end" fill="#222" font-family="Liberation Sans" >2</text>
<line x1="459.60" y1="735.90" x2="462.20" y2="735.90" stroke="#000" stroke-width="1.1" />
<text x="458.80" y="738.20" font-size="6.4" font-weight="bold" text-anchor="end" fill="#222" font-family="Liberation Sans" >3</text>
<line x1="471.50" y1="807.30" x2="471.50" y2="809.90" stroke="#000" stroke-width="1.0" />
<text x="471.50" y="817.40" font-size="7" font-weight="bold" text-anchor="middle" fill="#111" font-family="Liberation Sans" >+</text>
<line x1="485.40" y1="807.30" x2="485.40" y2="809.90" stroke="#000" stroke-width="1.0" />
<text x="485.40" y="817.40" font-size="7" font-weight="bold" text-anchor="middle" fill="#111" font-family="Liberation Sans" >+</text>
<line x1="499.00" y1="807.30" x2="499.00" y2="809.90" stroke="#000" stroke-width="1.0" />
<text x="499.00" y="817.40" font-size="7" font-weight="bold" text-anchor="middle" fill="#111" font-family="Liberation Sans" >+</text>
<line x1="513.00" y1="807.30" x2="513.00" y2="809.90" stroke="#000" stroke-width="1.0" />
<text x="513.00" y="817.40" font-size="7" font-weight="bold" text-anchor="middle" fill="#111" font-family="Liberation Sans" >+</text>
<line x1="526.60" y1="807.30" x2="526.60" y2="809.90" stroke="#000" stroke-width="1.0" />
<text x="526.60" y="817.40" font-size="7" font-weight="bold" text-anchor="middle" fill="#111" font-family="Liberation Sans" >+</text>
<line x1="540.60" y1="807.30" x2="540.60" y2="809.90" stroke="#000" stroke-width="1.0" />
<text x="540.60" y="817.40" font-size="7" font-weight="bold" text-anchor="middle" fill="#111" font-family="Liberation Sans" >+</text>
<line x1="554.40" y1="807.30" x2="554.40" y2="809.90" stroke="#000" stroke-width="1.0" />
<text x="554.40" y="817.40" font-size="7" font-weight="bold" text-anchor="middle" fill="#111" font-family="Liberation Sans" >+</text>
<line x1="567.90" y1="807.30" x2="567.90" y2="809.90" stroke="#000" stroke-width="1.0" />
<text x="567.90" y="817.40" font-size="7" font-weight="bold" text-anchor="middle" fill="#111" font-family="Liberation Sans" >+</text>
<line x1="581.50" y1="807.30" x2="581.50" y2="809.90" stroke="#000" stroke-width="1.0" />
<text x="581.50" y="817.40" font-size="7" font-weight="bold" text-anchor="middle" fill="#111" font-family="Liberation Sans" >+</text>
<text x="450.50" y="817.50" font-size="6.8" font-weight="bold" text-anchor="start" fill="#111" font-family="Liberation Sans" textLength="15.2" lengthAdjust="spacingAndGlyphs">IL-1β</text>
<text x="0.00" y="0.00" font-size="6.2" font-weight="bold" text-anchor="middle" fill="#111" font-family="Liberation Sans" transform="translate(450.3,772.6) rotate(-90)" textLength="72" lengthAdjust="spacingAndGlyphs">Relative expression level</text>
<text x="517.50" y="661.80" font-size="7.4" font-weight="bold" text-anchor="middle" fill="#111" font-family="Liberation Sans" >NLRP3</text>
<path d="M512.70,719.00 L512.70,668.50 L568.10,668.50 L568.10,672.10" stroke="#000" stroke-width="1.25" fill="none" />
<path d="M535.90,661.90L535.90,665.10M534.51,662.70L537.29,664.30M534.51,664.30L537.29,662.70M540.80,661.90L540.80,665.10M539.41,662.70L542.19,664.30M539.41,664.30L542.19,662.70M545.70,661.90L545.70,665.10M544.31,662.70L547.09,664.30M544.31,664.30L547.09,662.70" stroke="#111" stroke-width="0.95" fill="none" />
<path d="M540.30,687.80 L540.30,681.90 L581.70,681.90 L581.70,687.80" stroke="#000" stroke-width="1.25" fill="none" />
<path d="M554.15,674.40L554.15,677.60M552.76,675.20L555.54,676.80M552.76,676.80L555.54,675.20M559.05,674.40L559.05,677.60M557.66,675.20L560.44,676.80M557.66,676.80L560.44,675.20M563.95,674.40L563.95,677.60M562.56,675.20L565.34,676.80M562.56,676.80L565.34,675.20M568.85,674.40L568.85,677.60M567.46,675.20L570.24,676.80M567.46,676.80L570.24,675.20" stroke="#111" stroke-width="0.95" fill="none" />
<path d="M526.50,699.00 L526.50,693.10 L581.70,693.10 L581.70,699.00" stroke="#000" stroke-width="1.25" fill="none" />
<path d="M552.05,685.30L552.05,688.50M550.66,686.10L553.44,687.70M550.66,687.70L553.44,686.10M556.95,685.30L556.95,688.50M555.56,686.10L558.34,687.70M555.56,687.70L558.34,686.10" stroke="#111" stroke-width="0.95" fill="none" />
<path d="M526.30,715.10 L526.30,704.20 L568.10,704.20 L568.10,707.40" stroke="#000" stroke-width="1.25" fill="none" />
<text x="547.50" y="700.50" font-size="7.0" font-weight="normal" text-anchor="middle" fill="#222" font-family="Liberation Sans" >ns</text>
<path d="M540.30,718.40 L540.30,715.80 L568.10,715.80 L568.10,718.40" stroke="#000" stroke-width="1.25" fill="none" />
<path d="M547.45,708.30L547.45,711.50M546.06,709.10L548.84,710.70M546.06,710.70L548.84,709.10M552.35,708.30L552.35,711.50M550.96,709.10L553.74,710.70M550.96,710.70L553.74,709.10M557.25,708.30L557.25,711.50M555.86,709.10L558.64,710.70M555.86,710.70L558.64,709.10M562.15,708.30L562.15,711.50M560.76,709.10L563.54,710.70M560.76,710.70L563.54,709.10" stroke="#111" stroke-width="0.95" fill="none" />
<path d="M512.70,732.20 L512.70,727.60 L552.60,727.60 L552.60,739.40" stroke="#000" stroke-width="1.25" fill="none" />
<path d="M525.75,720.70L525.75,723.90M524.36,721.50L527.14,723.10M524.36,723.10L527.14,721.50M530.65,720.70L530.65,723.90M529.26,721.50L532.04,723.10M529.26,723.10L532.04,721.50M535.55,720.70L535.55,723.90M534.16,721.50L536.94,723.10M534.16,723.10L536.94,721.50M540.45,720.70L540.45,723.90M539.06,721.50L541.84,723.10M539.06,723.10L541.84,721.50" stroke="#111" stroke-width="0.95" fill="none" />
<path d="M555.40,738.10 L555.40,734.40 L582.10,734.40 L582.10,738.10" stroke="#000" stroke-width="1.25" fill="none" />
<path d="M561.95,727.30L561.95,730.50M560.56,728.10L563.34,729.70M560.56,729.70L563.34,728.10M566.85,727.30L566.85,730.50M565.46,728.10L568.24,729.70M565.46,729.70L568.24,728.10M571.75,727.30L571.75,730.50M570.36,728.10L573.14,729.70M570.36,729.70L573.14,728.10M576.65,727.30L576.65,730.50M575.26,728.10L578.04,729.70M575.26,729.70L578.04,728.10" stroke="#111" stroke-width="0.95" fill="none" />
<path d="M512.70,739.40 L512.70,737.80 L538.80,737.80 L538.80,750.60" stroke="#000" stroke-width="1.25" fill="none" />
<path d="M518.65,730.30L518.65,733.50M517.26,731.10L520.04,732.70M517.26,732.70L520.04,731.10M523.55,730.30L523.55,733.50M522.16,731.10L524.94,732.70M522.16,732.70L524.94,731.10M528.45,730.30L528.45,733.50M527.06,731.10L529.84,732.70M527.06,732.70L529.84,731.10M533.35,730.30L533.35,733.50M531.96,731.10L534.74,732.70M531.96,732.70L534.74,731.10" stroke="#111" stroke-width="0.95" fill="none" />
<path d="M512.70,758.50 L512.70,748.00 L526.90,748.00 L526.90,751.20" stroke="#000" stroke-width="1.25" fill="none" />
<text x="519.70" y="744.40" font-size="7.0" font-weight="normal" text-anchor="middle" fill="#222" font-family="Liberation Sans" >ns</text>
<path d="M541.80,752.60 L541.80,748.60 L554.50,748.60 L554.50,752.60" stroke="#000" stroke-width="1.25" fill="none" />
<path d="M548.10,741.40L548.10,744.60M546.71,742.20L549.49,743.80M546.71,743.80L549.49,742.20" stroke="#111" stroke-width="0.95" fill="none" />
<path d="M567.90,752.60 L567.90,748.40 L581.70,748.40 L581.70,769.00" stroke="#000" stroke-width="1.25" fill="none" />
<text x="574.80" y="744.40" font-size="7.0" font-weight="normal" text-anchor="middle" fill="#222" font-family="Liberation Sans" >ns</text>
<path d="M526.30,763.70 L526.30,761.10 L540.30,761.10 L540.30,785.50" stroke="#000" stroke-width="1.25" fill="none" />
<path d="M526.45,753.80L526.45,757.00M525.06,754.60L527.84,756.20M525.06,756.20L527.84,754.60M531.35,753.80L531.35,757.00M529.96,754.60L532.74,756.20M529.96,756.20L532.74,754.60M536.25,753.80L536.25,757.00M534.86,754.60L537.64,756.20M534.86,756.20L537.64,754.60M541.15,753.80L541.15,757.00M539.76,754.60L542.54,756.20M539.76,756.20L542.54,754.60" stroke="#111" stroke-width="0.95" fill="none" />
<path d="M554.30,791.00 L554.30,761.10 L567.70,761.10 L567.70,768.30" stroke="#000" stroke-width="1.25" fill="none" />
<path d="M554.05,753.80L554.05,757.00M552.66,754.60L555.44,756.20M552.66,756.20L555.44,754.60M558.95,753.80L558.95,757.00M557.56,754.60L560.34,756.20M557.56,756.20L560.34,754.60M563.85,753.80L563.85,757.00M562.46,754.60L565.24,756.20M562.46,756.20L565.24,754.60M568.75,753.80L568.75,757.00M567.36,754.60L570.14,756.20M567.36,756.20L570.14,754.60" stroke="#111" stroke-width="0.95" fill="none" />
<rect x="593.20" y="676.10" width="7.40" height="3.40" fill="#f3dde0" stroke="#222" stroke-width="0.8" />
<text x="605.00" y="680.10" font-size="6.4" font-weight="normal" text-anchor="start" fill="#333" font-family="Liberation Sans" textLength="11.0" lengthAdjust="spacingAndGlyphs">PBS</text>
<rect x="593.20" y="686.70" width="7.40" height="3.40" fill="#f2e9c6" stroke="#222" stroke-width="0.8" />
<text x="605.00" y="690.70" font-size="6.4" font-weight="normal" text-anchor="start" fill="#333" font-family="Liberation Sans" textLength="25.2" lengthAdjust="spacingAndGlyphs">ASC-Exos</text>
<rect x="593.20" y="697.60" width="7.40" height="3.40" fill="#f6f7e2" stroke="#222" stroke-width="0.8" />
<text x="605.00" y="701.60" font-size="6.4" font-weight="normal" text-anchor="start" fill="#333" font-family="Liberation Sans" textLength="35.5" lengthAdjust="spacingAndGlyphs">miR-140-Exos</text>
<rect x="593.20" y="708.80" width="7.40" height="3.40" fill="#d2ecdf" stroke="#222" stroke-width="0.8" />
<text x="605.00" y="712.80" font-size="6.4" font-weight="normal" text-anchor="start" fill="#333" font-family="Liberation Sans" textLength="33.3" lengthAdjust="spacingAndGlyphs">PBS+MMP13</text>
<rect x="593.20" y="720.70" width="7.40" height="3.40" fill="#cbe8f0" stroke="#222" stroke-width="0.8" />
<text x="605.00" y="724.70" font-size="6.4" font-weight="normal" text-anchor="start" fill="#333" font-family="Liberation Sans" textLength="55.0" lengthAdjust="spacingAndGlyphs">PBS+MMP13-Δ3'UTR</text>
<rect x="593.20" y="731.90" width="7.40" height="3.40" fill="#6a4b9e" stroke="#222" stroke-width="0.8" />
<text x="605.00" y="735.90" font-size="6.4" font-weight="normal" text-anchor="start" fill="#333" font-family="Liberation Sans" textLength="48.5" lengthAdjust="spacingAndGlyphs">ASC-Exos+MMP13</text>
<rect x="593.20" y="743.90" width="7.40" height="3.40" fill="#a8cbe8" stroke="#222" stroke-width="0.8" />
<text x="605.00" y="747.90" font-size="6.4" font-weight="normal" text-anchor="start" fill="#333" font-family="Liberation Sans" textLength="57.0" lengthAdjust="spacingAndGlyphs">miR-140-Exos+MMP13</text>
<rect x="593.20" y="756.40" width="7.40" height="3.40" fill="#f3dde0" stroke="#222" stroke-width="0.8" />
<text x="605.00" y="760.40" font-size="6.4" font-weight="normal" text-anchor="start" fill="#333" font-family="Liberation Sans" textLength="68.5" lengthAdjust="spacingAndGlyphs">ASC-Exos+MMP13-Δ3'UTR</text>
<rect x="593.20" y="768.70" width="7.40" height="3.40" fill="#9a9acd" stroke="#222" stroke-width="0.8" />
<text x="605.00" y="772.70" font-size="6.4" font-weight="normal" text-anchor="start" fill="#333" font-family="Liberation Sans" textLength="80.0" lengthAdjust="spacingAndGlyphs">miR-140-Exos+MMP13-Δ3'UTR</text>
<line x1="47.30" y1="856.50" x2="47.30" y2="955.40" stroke="#000" stroke-width="1.5" />
<line x1="46.60" y1="954.60" x2="152.40" y2="954.60" stroke="#000" stroke-width="1.6" />
<line x1="41.80" y1="954.60" x2="47.30" y2="954.60" stroke="#000" stroke-width="1.5" />
<text x="41.50" y="957.50" font-size="8.0" font-weight="normal" text-anchor="end" fill="#000" font-family="Liberation Sans" style="stroke:#000;stroke-width:0.4px">0</text>
<line x1="41.80" y1="935.00" x2="47.30" y2="935.00" stroke="#000" stroke-width="1.5" />
<text x="41.50" y="937.90" font-size="8.0" font-weight="normal" text-anchor="end" fill="#000" font-family="Liberation Sans" style="stroke:#000;stroke-width:0.4px">25</text>
<line x1="41.80" y1="915.40" x2="47.30" y2="915.40" stroke="#000" stroke-width="1.5" />
<text x="41.50" y="918.30" font-size="8.0" font-weight="normal" text-anchor="end" fill="#000" font-family="Liberation Sans" style="stroke:#000;stroke-width:0.4px">50</text>
<line x1="41.80" y1="895.80" x2="47.30" y2="895.80" stroke="#000" stroke-width="1.5" />
<text x="41.50" y="898.70" font-size="8.0" font-weight="normal" text-anchor="end" fill="#000" font-family="Liberation Sans" style="stroke:#000;stroke-width:0.4px">75</text>
<line x1="41.80" y1="876.20" x2="47.30" y2="876.20" stroke="#000" stroke-width="1.5" />
<text x="41.50" y="879.10" font-size="8.0" font-weight="normal" text-anchor="end" fill="#000" font-family="Liberation Sans" style="stroke:#000;stroke-width:0.4px">100</text>
<line x1="41.80" y1="856.60" x2="47.30" y2="856.60" stroke="#000" stroke-width="1.5" />
<text x="41.50" y="859.50" font-size="8.0" font-weight="normal" text-anchor="end" fill="#000" font-family="Liberation Sans" style="stroke:#000;stroke-width:0.4px">125</text>
<line x1="67.80" y1="876.20" x2="67.80" y2="872.67" stroke="#000" stroke-width="1.3" />
<line x1="63.30" y1="872.67" x2="72.30" y2="872.67" stroke="#000" stroke-width="1.3" />
<rect x="57.80" y="876.20" width="20.00" height="78.40" fill="#a2c6e2" stroke="#0a0a0a" stroke-width="2.0" />
<line x1="99.30" y1="913.60" x2="99.30" y2="909.36" stroke="#000" stroke-width="1.3" />
<line x1="94.80" y1="909.36" x2="103.80" y2="909.36" stroke="#000" stroke-width="1.3" />
<rect x="89.30" y="913.60" width="20.00" height="41.00" fill="#9393cb" stroke="#0a0a0a" stroke-width="2.0" />
<line x1="130.20" y1="926.53" x2="130.20" y2="924.18" stroke="#000" stroke-width="1.3" />
<line x1="125.70" y1="924.18" x2="134.70" y2="924.18" stroke="#000" stroke-width="1.3" />
<rect x="120.20" y="926.53" width="20.00" height="28.07" fill="#6b4ba0" stroke="#0a0a0a" stroke-width="2.0" />
<path d="M67.6,848.5 L67.6,839.3 L130.3,839.3 L130.3,918.8" stroke="#000" stroke-width="1.4" fill="none" />
<path d="M67.6,866.9 L67.6,862.8 L99.6,862.8 L99.6,903.0" stroke="#000" stroke-width="1.4" fill="none" />
<path d="M89.20,829.70L89.20,834.50M87.12,830.90L91.28,833.30M87.12,833.30L91.28,830.90M96.40,829.70L96.40,834.50M94.32,830.90L98.48,833.30M94.32,833.30L98.48,830.90M103.60,829.70L103.60,834.50M101.52,830.90L105.68,833.30M101.52,833.30L105.68,830.90M110.80,829.70L110.80,834.50M108.72,830.90L112.88,833.30M108.72,833.30L112.88,830.90" stroke="#111" stroke-width="1.45" fill="none" />
<path d="M73.50,853.60L73.50,858.40M71.42,854.80L75.58,857.20M71.42,857.20L75.58,854.80M80.70,853.60L80.70,858.40M78.62,854.80L82.78,857.20M78.62,857.20L82.78,854.80M87.90,853.60L87.90,858.40M85.82,854.80L89.98,857.20M85.82,857.20L89.98,854.80M95.10,853.60L95.10,858.40M93.02,854.80L97.18,857.20M93.02,857.20L97.18,854.80" stroke="#111" stroke-width="1.45" fill="none" />
<text x="97.80" y="826.10" font-size="9.2" font-weight="normal" text-anchor="middle" fill="#000" font-family="Liberation Sans" textLength="43.6" lengthAdjust="spacingAndGlyphs" style="stroke:#000;stroke-width:0.45px">Caspase-1</text>
<text x="0.00" y="0.00" font-size="8.8" font-weight="normal" text-anchor="middle" fill="#000" font-family="Liberation Sans" transform="translate(22.4,905.0) rotate(-90)" textLength="76" lengthAdjust="spacingAndGlyphs" style="stroke:#000;stroke-width:0.4px">Relative&#160;&#160;Activity[%]</text>
<rect x="148.40" y="861.20" width="11.40" height="4.60" fill="#a2c6e2" stroke="#111" stroke-width="1.1" />
<text x="166.90" y="865.90" font-size="8.6" font-weight="normal" text-anchor="start" fill="#222" font-family="Liberation Sans" textLength="17.8" lengthAdjust="spacingAndGlyphs">PBS</text>
<rect x="148.40" y="873.80" width="11.40" height="4.60" fill="#9393cb" stroke="#111" stroke-width="1.1" />
<text x="166.90" y="878.50" font-size="8.6" font-weight="normal" text-anchor="start" fill="#222" font-family="Liberation Sans" textLength="41.4" lengthAdjust="spacingAndGlyphs">ASC-Exos</text>
<rect x="148.40" y="886.70" width="11.40" height="4.60" fill="#6b4ba0" stroke="#111" stroke-width="1.1" />
<text x="166.90" y="891.40" font-size="8.6" font-weight="normal" text-anchor="start" fill="#222" font-family="Liberation Sans" textLength="57.2" lengthAdjust="spacingAndGlyphs">miR-140-Exos</text>
<rect x="230.30" y="821.80" width="26.20" height="105.10" fill="#9696c6" stroke="#1e1e2a" stroke-width="1.2" />
<text x="243.20" y="874.00" font-size="8.4" font-weight="bold" text-anchor="middle" fill="#111" font-family="Liberation Sans" >ASC</text>
<rect x="229.70" y="928.90" width="439.30" height="29.20" fill="#9696c6" stroke="#1e1e2a" stroke-width="1.2" />
<text x="324.30" y="939.40" font-size="8.2" font-weight="bold" text-anchor="middle" fill="#111" font-family="Liberation Sans" >PBS</text>
<text x="324.30" y="954.60" font-size="8.6" font-weight="bold" text-anchor="middle" fill="#111" font-family="Liberation Sans" >+</text>
<text x="459.80" y="939.40" font-size="8.2" font-weight="bold" text-anchor="middle" fill="#111" font-family="Liberation Sans" >ASC-Exos</text>
<text x="459.80" y="954.60" font-size="8.6" font-weight="bold" text-anchor="middle" fill="#111" font-family="Liberation Sans" >+</text>
<text x="601.00" y="939.40" font-size="8.2" font-weight="bold" text-anchor="middle" fill="#111" font-family="Liberation Sans" >miR-140-Exos</text>
<text x="601.00" y="954.60" font-size="8.6" font-weight="bold" text-anchor="middle" fill="#111" font-family="Liberation Sans" >+</text>
<text x="232.40" y="954.60" font-size="7.6" font-weight="bold" text-anchor="start" fill="#111" font-family="Liberation Sans" >IL-1β</text>
<rect x="261.90" y="822.60" width="133.20" height="103.60" fill="#08040a" stroke="none" stroke-width="1" />
<clipPath id="ci0"><rect x="261.9" y="822.6" width="133.20" height="103.60"/></clipPath>
<g clip-path="url(#ci0)"><g filter="url(#bl3)"><ellipse cx="289.6" cy="828.2" rx="3.5" ry="3.5" fill="rgb(24,36,82)"/><circle cx="290.5" cy="829.9" r="0.7" fill="rgb(50,72,150)"/><circle cx="288.2" cy="827.7" r="0.7" fill="rgb(50,72,150)"/><ellipse cx="306.6" cy="833.7" rx="4" ry="4" fill="rgb(24,36,82)"/><circle cx="308.1" cy="835.0" r="0.7" fill="rgb(50,72,150)"/><circle cx="307.0" cy="834.5" r="0.7" fill="rgb(50,72,150)"/><circle cx="305.9" cy="835.7" r="0.7" fill="rgb(50,72,150)"/><ellipse cx="344.8" cy="826.1" rx="3" ry="3" fill="rgb(40,32,95)"/><ellipse cx="344.8" cy="826.1" rx="1.80" ry="1.80" fill="rgb(115,40,110)" opacity="0.7"/><ellipse cx="357.1" cy="824.1" rx="3" ry="2.5" fill="rgb(24,36,82)"/><circle cx="357.3" cy="823.8" r="0.7" fill="rgb(50,72,150)"/><circle cx="356.1" cy="823.0" r="0.7" fill="rgb(50,72,150)"/><ellipse cx="380.6" cy="840" rx="4" ry="4.5" fill="rgb(24,36,82)"/><circle cx="382.3" cy="841.5" r="0.7" fill="rgb(50,72,150)"/><circle cx="378.5" cy="839.1" r="0.7" fill="rgb(50,72,150)"/><circle cx="380.5" cy="840.0" r="0.7" fill="rgb(50,72,150)"/><ellipse cx="266.1" cy="854.7" rx="4" ry="4" fill="rgb(40,32,95)"/><ellipse cx="266.1" cy="854.7" rx="2.40" ry="2.40" fill="rgb(115,40,110)" opacity="0.7"/><ellipse cx="279.4" cy="859.9" rx="4.5" ry="5" fill="rgb(24,36,82)"/><circle cx="278.7" cy="862.1" r="0.7" fill="rgb(50,72,150)"/><circle cx="278.7" cy="860.1" r="0.7" fill="rgb(50,72,150)"/><circle cx="281.5" cy="860.7" r="0.7" fill="rgb(50,72,150)"/><circle cx="279.3" cy="859.0" r="0.7" fill="rgb(50,72,150)"/><ellipse cx="281.5" cy="853.7" rx="4.5" ry="4" fill="rgb(24,36,82)"/><circle cx="280.9" cy="854.2" r="0.7" fill="rgb(50,72,150)"/><circle cx="282.9" cy="852.6" r="0.7" fill="rgb(50,72,150)"/><circle cx="280.9" cy="853.2" r="0.7" fill="rgb(50,72,150)"/><ellipse cx="301.9" cy="857.8" rx="6" ry="8" fill="rgb(27,41,94)"/><circle cx="301.0" cy="861.4" r="0.7" fill="rgb(57,82,172)"/><circle cx="302.2" cy="855.8" r="0.7" fill="rgb(57,82,172)"/><circle cx="300.8" cy="860.6" r="0.7" fill="rgb(57,82,172)"/><circle cx="299.7" cy="859.5" r="0.7" fill="rgb(57,82,172)"/><circle cx="298.7" cy="855.1" r="0.7" fill="rgb(57,82,172)"/><circle cx="299.0" cy="860.5" r="0.7" fill="rgb(57,82,172)"/><circle cx="299.6" cy="855.4" r="0.7" fill="rgb(57,82,172)"/><circle cx="299.0" cy="855.7" r="0.7" fill="rgb(57,82,172)"/><circle cx="303.4" cy="859.7" r="0.7" fill="rgb(57,82,172)"/><ellipse cx="309" cy="871.1" rx="3.5" ry="4" fill="rgb(24,36,82)"/><circle cx="310.6" cy="873.1" r="0.7" fill="rgb(50,72,150)"/><circle cx="309.2" cy="873.0" r="0.7" fill="rgb(50,72,150)"/><ellipse cx="312.1" cy="876.8" rx="3.5" ry="4" fill="rgb(40,32,95)"/><ellipse cx="312.1" cy="876.8" rx="2.10" ry="2.40" fill="rgb(115,40,110)" opacity="0.7"/><ellipse cx="286.2" cy="874.8" rx="3.5" ry="4" fill="rgb(40,32,95)"/><ellipse cx="286.2" cy="874.8" rx="2.10" ry="2.40" fill="rgb(115,40,110)" opacity="0.7"/><ellipse cx="329.5" cy="868" rx="4" ry="4" fill="rgb(24,36,82)"/><circle cx="327.7" cy="869.9" r="0.7" fill="rgb(50,72,150)"/><circle cx="329.2" cy="866.6" r="0.7" fill="rgb(50,72,150)"/><circle cx="330.6" cy="869.6" r="0.7" fill="rgb(50,72,150)"/><ellipse cx="371.4" cy="857.8" rx="4" ry="4" fill="rgb(24,36,82)"/><circle cx="370.9" cy="856.0" r="0.7" fill="rgb(50,72,150)"/><circle cx="373.0" cy="858.9" r="0.7" fill="rgb(50,72,150)"/><circle cx="371.8" cy="859.9" r="0.7" fill="rgb(50,72,150)"/><ellipse cx="388.8" cy="860.9" rx="4" ry="4" fill="rgb(24,36,82)"/><circle cx="386.8" cy="858.9" r="0.7" fill="rgb(50,72,150)"/><circle cx="387.1" cy="858.8" r="0.7" fill="rgb(50,72,150)"/><circle cx="389.7" cy="861.5" r="0.7" fill="rgb(50,72,150)"/><ellipse cx="367.7" cy="868.6" rx="3.5" ry="3.5" fill="rgb(24,36,82)"/><circle cx="366.2" cy="867.3" r="0.7" fill="rgb(50,72,150)"/><circle cx="366.5" cy="869.0" r="0.7" fill="rgb(50,72,150)"/><ellipse cx="369.3" cy="883.8" rx="4" ry="4" fill="rgb(24,36,82)"/><circle cx="370.1" cy="885.9" r="0.7" fill="rgb(50,72,150)"/><circle cx="368.7" cy="885.9" r="0.7" fill="rgb(50,72,150)"/><circle cx="369.0" cy="883.3" r="0.7" fill="rgb(50,72,150)"/><ellipse cx="384.3" cy="880.3" rx="3.5" ry="3.5" fill="rgb(24,36,82)"/><circle cx="383.4" cy="879.3" r="0.7" fill="rgb(50,72,150)"/><circle cx="386.1" cy="882.2" r="0.7" fill="rgb(50,72,150)"/><ellipse cx="300.5" cy="901.7" rx="4.5" ry="4" fill="rgb(19,28,65)"/><circle cx="301.5" cy="900.3" r="0.7" fill="rgb(40,57,120)"/><circle cx="298.9" cy="900.2" r="0.7" fill="rgb(40,57,120)"/><circle cx="299.8" cy="902.7" r="0.7" fill="rgb(40,57,120)"/><ellipse cx="277.4" cy="909.3" rx="3.5" ry="4" fill="rgb(24,36,82)"/><circle cx="275.7" cy="909.4" r="0.7" fill="rgb(50,72,150)"/><circle cx="278.1" cy="907.2" r="0.7" fill="rgb(50,72,150)"/><ellipse cx="263" cy="914" rx="2" ry="4" fill="rgb(24,36,82)"/><circle cx="262.9" cy="915.3" r="0.7" fill="rgb(50,72,150)"/><circle cx="263.2" cy="913.8" r="0.7" fill="rgb(50,72,150)"/><ellipse cx="343.8" cy="913" rx="3.5" ry="4" fill="rgb(24,36,82)"/><circle cx="345.3" cy="913.4" r="0.7" fill="rgb(50,72,150)"/><circle cx="343.2" cy="912.5" r="0.7" fill="rgb(50,72,150)"/><ellipse cx="358.7" cy="912" rx="3.5" ry="3.5" fill="rgb(24,36,82)"/><circle cx="360.4" cy="913.4" r="0.7" fill="rgb(50,72,150)"/><circle cx="360.3" cy="912.2" r="0.7" fill="rgb(50,72,150)"/><ellipse cx="371.4" cy="915" rx="3" ry="3" fill="rgb(26,39,90)"/><circle cx="370.2" cy="913.9" r="0.7" fill="rgb(55,79,165)"/><circle cx="371.0" cy="915.6" r="0.7" fill="rgb(55,79,165)"/><ellipse cx="378.9" cy="913.6" rx="2.5" ry="3.5" fill="rgb(26,39,90)"/><circle cx="377.5" cy="914.8" r="0.7" fill="rgb(55,79,165)"/><circle cx="379.7" cy="913.7" r="0.7" fill="rgb(55,79,165)"/><ellipse cx="392.8" cy="921.2" rx="2" ry="3" fill="rgb(24,36,82)"/><circle cx="391.7" cy="922.2" r="0.7" fill="rgb(50,72,150)"/><circle cx="392.6" cy="921.8" r="0.7" fill="rgb(50,72,150)"/></g></g>
<line x1="328.10" y1="923.60" x2="392.60" y2="923.60" stroke="#d8d8d8" stroke-width="0.8" />
<rect x="397.70" y="822.60" width="133.20" height="103.60" fill="#08040a" stroke="none" stroke-width="1" />
<clipPath id="ci1"><rect x="397.7" y="822.6" width="133.20" height="103.60"/></clipPath>
<g clip-path="url(#ci1)"><g filter="url(#bl3)"><ellipse cx="415.4" cy="824.1" rx="4" ry="2.5" fill="rgb(16,24,55)"/><circle cx="415.7" cy="824.7" r="0.7" fill="rgb(34,48,102)"/><circle cx="415.0" cy="825.4" r="0.7" fill="rgb(34,48,102)"/><ellipse cx="424.2" cy="838.4" rx="4.5" ry="5" fill="rgb(14,21,48)"/><circle cx="426.5" cy="840.8" r="0.7" fill="rgb(29,42,89)"/><circle cx="424.8" cy="837.4" r="0.7" fill="rgb(29,42,89)"/><circle cx="423.6" cy="837.1" r="0.7" fill="rgb(29,42,89)"/><circle cx="426.2" cy="840.0" r="0.7" fill="rgb(29,42,89)"/><ellipse cx="407.2" cy="848.6" rx="4.5" ry="6" fill="rgb(18,27,62)"/><circle cx="408.6" cy="850.7" r="0.7" fill="rgb(38,55,114)"/><circle cx="409.6" cy="849.8" r="0.7" fill="rgb(38,55,114)"/><circle cx="406.3" cy="850.3" r="0.7" fill="rgb(38,55,114)"/><circle cx="406.0" cy="849.3" r="0.7" fill="rgb(38,55,114)"/><circle cx="405.5" cy="851.0" r="0.7" fill="rgb(38,55,114)"/><ellipse cx="510.4" cy="828.6" rx="4" ry="4" fill="rgb(16,24,55)"/><circle cx="510.4" cy="827.6" r="0.7" fill="rgb(34,48,102)"/><circle cx="512.3" cy="826.8" r="0.7" fill="rgb(34,48,102)"/><circle cx="512.3" cy="829.7" r="0.7" fill="rgb(34,48,102)"/><ellipse cx="526.4" cy="850.2" rx="3.5" ry="4" fill="rgb(16,24,55)"/><circle cx="525.0" cy="851.3" r="0.7" fill="rgb(34,48,102)"/><circle cx="526.7" cy="852.0" r="0.7" fill="rgb(34,48,102)"/><ellipse cx="510.9" cy="857.8" rx="4" ry="4.5" fill="rgb(16,24,55)"/><circle cx="511.3" cy="857.4" r="0.7" fill="rgb(34,48,102)"/><circle cx="512.8" cy="855.8" r="0.7" fill="rgb(34,48,102)"/><circle cx="512.1" cy="855.8" r="0.7" fill="rgb(34,48,102)"/><ellipse cx="482.9" cy="861.9" rx="5" ry="5" fill="rgb(20,30,69)"/><circle cx="481.7" cy="859.8" r="0.7" fill="rgb(42,61,127)"/><circle cx="484.9" cy="861.6" r="0.7" fill="rgb(42,61,127)"/><circle cx="484.1" cy="860.6" r="0.7" fill="rgb(42,61,127)"/><circle cx="484.2" cy="862.7" r="0.7" fill="rgb(42,61,127)"/><circle cx="480.7" cy="861.9" r="0.7" fill="rgb(42,61,127)"/><ellipse cx="462.4" cy="866" rx="3.5" ry="4" fill="rgb(16,24,55)"/><circle cx="463.3" cy="864.7" r="0.7" fill="rgb(34,48,102)"/><circle cx="463.0" cy="865.0" r="0.7" fill="rgb(34,48,102)"/><ellipse cx="441" cy="873.5" rx="5.5" ry="5" fill="rgb(20,30,69)"/><circle cx="440.2" cy="875.8" r="0.7" fill="rgb(42,61,127)"/><circle cx="443.7" cy="876.2" r="0.7" fill="rgb(42,61,127)"/><circle cx="440.6" cy="873.9" r="0.7" fill="rgb(42,61,127)"/><circle cx="442.9" cy="874.9" r="0.7" fill="rgb(42,61,127)"/><circle cx="440.7" cy="875.5" r="0.7" fill="rgb(42,61,127)"/><ellipse cx="517.6" cy="879.7" rx="3.5" ry="4" fill="rgb(18,27,62)"/><circle cx="517.2" cy="881.7" r="0.7" fill="rgb(38,55,114)"/><circle cx="517.5" cy="878.0" r="0.7" fill="rgb(38,55,114)"/><ellipse cx="442.6" cy="892.6" rx="4" ry="3.5" fill="rgb(18,27,62)"/><circle cx="443.7" cy="891.2" r="0.7" fill="rgb(38,55,114)"/><circle cx="443.4" cy="890.9" r="0.7" fill="rgb(38,55,114)"/><ellipse cx="512.5" cy="898.1" rx="3.5" ry="3.5" fill="rgb(18,27,62)"/><circle cx="514.4" cy="898.3" r="0.7" fill="rgb(38,55,114)"/><circle cx="513.4" cy="896.7" r="0.7" fill="rgb(38,55,114)"/><ellipse cx="439.9" cy="907.9" rx="5" ry="5.5" fill="rgb(18,27,62)"/><circle cx="440.7" cy="907.2" r="0.7" fill="rgb(38,55,114)"/><circle cx="438.5" cy="909.8" r="0.7" fill="rgb(38,55,114)"/><circle cx="437.3" cy="907.8" r="0.7" fill="rgb(38,55,114)"/><circle cx="437.6" cy="910.0" r="0.7" fill="rgb(38,55,114)"/><circle cx="442.1" cy="905.1" r="0.7" fill="rgb(38,55,114)"/><ellipse cx="527.8" cy="919.1" rx="2.5" ry="4" fill="rgb(16,24,55)"/><circle cx="527.7" cy="919.0" r="0.7" fill="rgb(34,48,102)"/><circle cx="528.4" cy="920.1" r="0.7" fill="rgb(34,48,102)"/><ellipse cx="399" cy="924.2" rx="2" ry="2" fill="rgb(16,24,55)"/><circle cx="398.7" cy="925.2" r="0.7" fill="rgb(34,48,102)"/><circle cx="398.3" cy="923.4" r="0.7" fill="rgb(34,48,102)"/></g></g>
<line x1="463.90" y1="923.60" x2="528.40" y2="923.60" stroke="#d8d8d8" stroke-width="0.8" />
<rect x="533.10" y="822.60" width="132.70" height="103.60" fill="#08040a" stroke="none" stroke-width="1" />
<clipPath id="ci2"><rect x="533.1" y="822.6" width="132.70" height="103.60"/></clipPath>
<g clip-path="url(#ci2)"><g filter="url(#bl3)"><ellipse cx="552.5" cy="823.5" rx="4" ry="2" fill="rgb(19,28,65)"/><circle cx="553.9" cy="822.7" r="0.7" fill="rgb(40,57,120)"/><circle cx="551.1" cy="823.5" r="0.7" fill="rgb(40,57,120)"/><ellipse cx="569.9" cy="831.6" rx="3.5" ry="3.5" fill="rgb(24,36,82)"/><circle cx="569.3" cy="830.3" r="0.7" fill="rgb(50,72,150)"/><circle cx="571.6" cy="831.5" r="0.7" fill="rgb(50,72,150)"/><ellipse cx="583.1" cy="832.7" rx="4" ry="4.5" fill="rgb(21,32,73)"/><circle cx="584.4" cy="831.5" r="0.7" fill="rgb(45,64,135)"/><circle cx="584.9" cy="831.3" r="0.7" fill="rgb(45,64,135)"/><circle cx="584.9" cy="833.3" r="0.7" fill="rgb(45,64,135)"/><ellipse cx="626.1" cy="825.1" rx="4.5" ry="3.5" fill="rgb(21,32,73)"/><circle cx="628.4" cy="826.1" r="0.7" fill="rgb(45,64,135)"/><circle cx="626.7" cy="825.2" r="0.7" fill="rgb(45,64,135)"/><circle cx="627.9" cy="824.9" r="0.7" fill="rgb(45,64,135)"/><ellipse cx="641.4" cy="829.8" rx="4" ry="5" fill="rgb(21,32,73)"/><circle cx="639.6" cy="832.1" r="0.7" fill="rgb(45,64,135)"/><circle cx="642.7" cy="830.8" r="0.7" fill="rgb(45,64,135)"/><circle cx="642.5" cy="828.3" r="0.7" fill="rgb(45,64,135)"/><circle cx="641.2" cy="831.6" r="0.7" fill="rgb(45,64,135)"/><ellipse cx="655.7" cy="825.1" rx="3.5" ry="3" fill="rgb(21,32,73)"/><circle cx="657.5" cy="826.5" r="0.7" fill="rgb(45,64,135)"/><circle cx="654.4" cy="825.7" r="0.7" fill="rgb(45,64,135)"/><ellipse cx="539.2" cy="846.6" rx="4.5" ry="5" fill="rgb(14,21,49)"/><circle cx="539.5" cy="846.1" r="0.7" fill="rgb(30,43,90)"/><circle cx="537.6" cy="844.6" r="0.7" fill="rgb(30,43,90)"/><circle cx="539.1" cy="846.6" r="0.7" fill="rgb(30,43,90)"/><circle cx="538.1" cy="845.9" r="0.7" fill="rgb(30,43,90)"/><ellipse cx="549.4" cy="848.6" rx="4.5" ry="4.5" fill="rgb(14,21,49)"/><circle cx="549.7" cy="849.9" r="0.7" fill="rgb(30,43,90)"/><circle cx="549.8" cy="846.9" r="0.7" fill="rgb(30,43,90)"/><circle cx="551.3" cy="847.9" r="0.7" fill="rgb(30,43,90)"/><circle cx="551.7" cy="851.0" r="0.7" fill="rgb(30,43,90)"/><ellipse cx="536.1" cy="857.2" rx="3" ry="4" fill="rgb(19,28,65)"/><circle cx="534.9" cy="857.6" r="0.7" fill="rgb(40,57,120)"/><circle cx="537.6" cy="856.7" r="0.7" fill="rgb(40,57,120)"/><ellipse cx="564.7" cy="850.7" rx="4" ry="4" fill="rgb(24,36,82)"/><circle cx="564.9" cy="849.9" r="0.7" fill="rgb(50,72,150)"/><circle cx="562.6" cy="849.4" r="0.7" fill="rgb(50,72,150)"/><circle cx="563.0" cy="849.8" r="0.7" fill="rgb(50,72,150)"/><ellipse cx="579" cy="851.7" rx="4" ry="4" fill="rgb(21,32,73)"/><circle cx="579.6" cy="852.0" r="0.7" fill="rgb(45,64,135)"/><circle cx="581.0" cy="852.5" r="0.7" fill="rgb(45,64,135)"/><circle cx="578.4" cy="853.7" r="0.7" fill="rgb(45,64,135)"/><ellipse cx="564.7" cy="859.9" rx="3.5" ry="3.5" fill="rgb(26,39,90)"/><circle cx="565.2" cy="860.1" r="0.7" fill="rgb(55,79,165)"/><circle cx="566.1" cy="860.6" r="0.7" fill="rgb(55,79,165)"/><ellipse cx="649.6" cy="858.8" rx="8" ry="8.5" fill="rgb(19,28,65)"/><circle cx="648.4" cy="859.8" r="0.7" fill="rgb(40,57,120)"/><circle cx="647.8" cy="863.2" r="0.7" fill="rgb(40,57,120)"/><circle cx="647.3" cy="863.2" r="0.7" fill="rgb(40,57,120)"/><circle cx="645.8" cy="854.2" r="0.7" fill="rgb(40,57,120)"/><circle cx="650.1" cy="856.0" r="0.7" fill="rgb(40,57,120)"/><circle cx="649.7" cy="855.2" r="0.7" fill="rgb(40,57,120)"/><circle cx="652.6" cy="860.4" r="0.7" fill="rgb(40,57,120)"/><circle cx="651.2" cy="862.8" r="0.7" fill="rgb(40,57,120)"/><circle cx="653.9" cy="860.5" r="0.7" fill="rgb(40,57,120)"/><circle cx="651.5" cy="854.1" r="0.7" fill="rgb(40,57,120)"/><circle cx="645.6" cy="858.1" r="0.7" fill="rgb(40,57,120)"/><circle cx="653.7" cy="857.1" r="0.7" fill="rgb(40,57,120)"/><circle cx="650.2" cy="854.2" r="0.7" fill="rgb(40,57,120)"/><ellipse cx="561.1" cy="870.1" rx="3.5" ry="4" fill="rgb(21,32,73)"/><circle cx="560.8" cy="871.9" r="0.7" fill="rgb(45,64,135)"/><circle cx="561.4" cy="871.5" r="0.7" fill="rgb(45,64,135)"/><ellipse cx="598.5" cy="870.1" rx="4" ry="4" fill="rgb(21,32,73)"/><circle cx="596.4" cy="868.8" r="0.7" fill="rgb(45,64,135)"/><circle cx="597.1" cy="871.6" r="0.7" fill="rgb(45,64,135)"/><circle cx="596.7" cy="872.0" r="0.7" fill="rgb(45,64,135)"/><ellipse cx="605.6" cy="882.3" rx="8" ry="6.5" fill="rgb(21,32,73)"/><circle cx="603.6" cy="885.0" r="0.7" fill="rgb(45,64,135)"/><circle cx="605.7" cy="881.0" r="0.7" fill="rgb(45,64,135)"/><circle cx="609.7" cy="881.6" r="0.7" fill="rgb(45,64,135)"/><circle cx="607.3" cy="879.2" r="0.7" fill="rgb(45,64,135)"/><circle cx="608.5" cy="885.7" r="0.7" fill="rgb(45,64,135)"/><circle cx="602.2" cy="884.1" r="0.7" fill="rgb(45,64,135)"/><circle cx="603.6" cy="879.8" r="0.7" fill="rgb(45,64,135)"/><circle cx="604.4" cy="883.5" r="0.7" fill="rgb(45,64,135)"/><circle cx="609.6" cy="885.8" r="0.7" fill="rgb(45,64,135)"/><circle cx="609.9" cy="883.2" r="0.7" fill="rgb(45,64,135)"/><ellipse cx="534.1" cy="869" rx="2" ry="4" fill="rgb(19,28,65)"/><circle cx="534.4" cy="867.5" r="0.7" fill="rgb(40,57,120)"/><circle cx="534.6" cy="869.2" r="0.7" fill="rgb(40,57,120)"/><ellipse cx="571.9" cy="885" rx="5" ry="5" fill="rgb(16,25,57)"/><circle cx="571.1" cy="887.2" r="0.7" fill="rgb(35,50,105)"/><circle cx="570.6" cy="883.0" r="0.7" fill="rgb(35,50,105)"/><circle cx="570.0" cy="883.1" r="0.7" fill="rgb(35,50,105)"/><circle cx="572.4" cy="886.7" r="0.7" fill="rgb(35,50,105)"/><circle cx="570.0" cy="885.0" r="0.7" fill="rgb(35,50,105)"/><ellipse cx="551.5" cy="886.4" rx="4" ry="4" fill="rgb(21,32,73)"/><circle cx="551.8" cy="886.7" r="0.7" fill="rgb(45,64,135)"/><circle cx="551.1" cy="886.6" r="0.7" fill="rgb(45,64,135)"/><circle cx="549.4" cy="884.5" r="0.7" fill="rgb(45,64,135)"/><ellipse cx="655.7" cy="878.2" rx="4" ry="4" fill="rgb(19,28,65)"/><circle cx="655.4" cy="877.0" r="0.7" fill="rgb(40,57,120)"/><circle cx="656.8" cy="877.1" r="0.7" fill="rgb(40,57,120)"/><circle cx="657.1" cy="877.1" r="0.7" fill="rgb(40,57,120)"/><ellipse cx="564.3" cy="894.6" rx="5" ry="5" fill="rgb(19,28,65)"/><circle cx="562.1" cy="894.5" r="0.7" fill="rgb(40,57,120)"/><circle cx="563.7" cy="893.7" r="0.7" fill="rgb(40,57,120)"/><circle cx="565.8" cy="893.1" r="0.7" fill="rgb(40,57,120)"/><circle cx="565.2" cy="896.4" r="0.7" fill="rgb(40,57,120)"/><circle cx="564.0" cy="894.6" r="0.7" fill="rgb(40,57,120)"/><ellipse cx="580.7" cy="895.6" rx="4" ry="4" fill="rgb(21,32,73)"/><circle cx="582.6" cy="896.1" r="0.7" fill="rgb(45,64,135)"/><circle cx="579.3" cy="893.7" r="0.7" fill="rgb(45,64,135)"/><circle cx="578.9" cy="894.9" r="0.7" fill="rgb(45,64,135)"/><ellipse cx="559.6" cy="913" rx="5" ry="4" fill="rgb(16,25,57)"/><circle cx="557.3" cy="913.7" r="0.7" fill="rgb(35,50,105)"/><circle cx="559.2" cy="912.2" r="0.7" fill="rgb(35,50,105)"/><circle cx="559.7" cy="914.9" r="0.7" fill="rgb(35,50,105)"/><circle cx="558.2" cy="911.5" r="0.7" fill="rgb(35,50,105)"/><ellipse cx="600.5" cy="917.1" rx="4" ry="4" fill="rgb(19,28,65)"/><circle cx="599.6" cy="916.3" r="0.7" fill="rgb(40,57,120)"/><circle cx="602.3" cy="918.0" r="0.7" fill="rgb(40,57,120)"/><circle cx="600.2" cy="915.6" r="0.7" fill="rgb(40,57,120)"/><ellipse cx="652.2" cy="911.6" rx="4" ry="4" fill="rgb(21,32,73)"/><circle cx="650.2" cy="909.9" r="0.7" fill="rgb(45,64,135)"/><circle cx="653.7" cy="912.3" r="0.7" fill="rgb(45,64,135)"/><circle cx="650.7" cy="912.2" r="0.7" fill="rgb(45,64,135)"/><ellipse cx="566.8" cy="923.2" rx="6" ry="3" fill="rgb(27,41,94)"/><circle cx="563.9" cy="923.2" r="0.7" fill="rgb(57,82,172)"/><circle cx="565.7" cy="921.9" r="0.7" fill="rgb(57,82,172)"/><circle cx="568.4" cy="923.9" r="0.7" fill="rgb(57,82,172)"/></g></g>
<line x1="598.80" y1="923.60" x2="663.30" y2="923.60" stroke="#d8d8d8" stroke-width="0.8" />
</svg>
</body></html>
